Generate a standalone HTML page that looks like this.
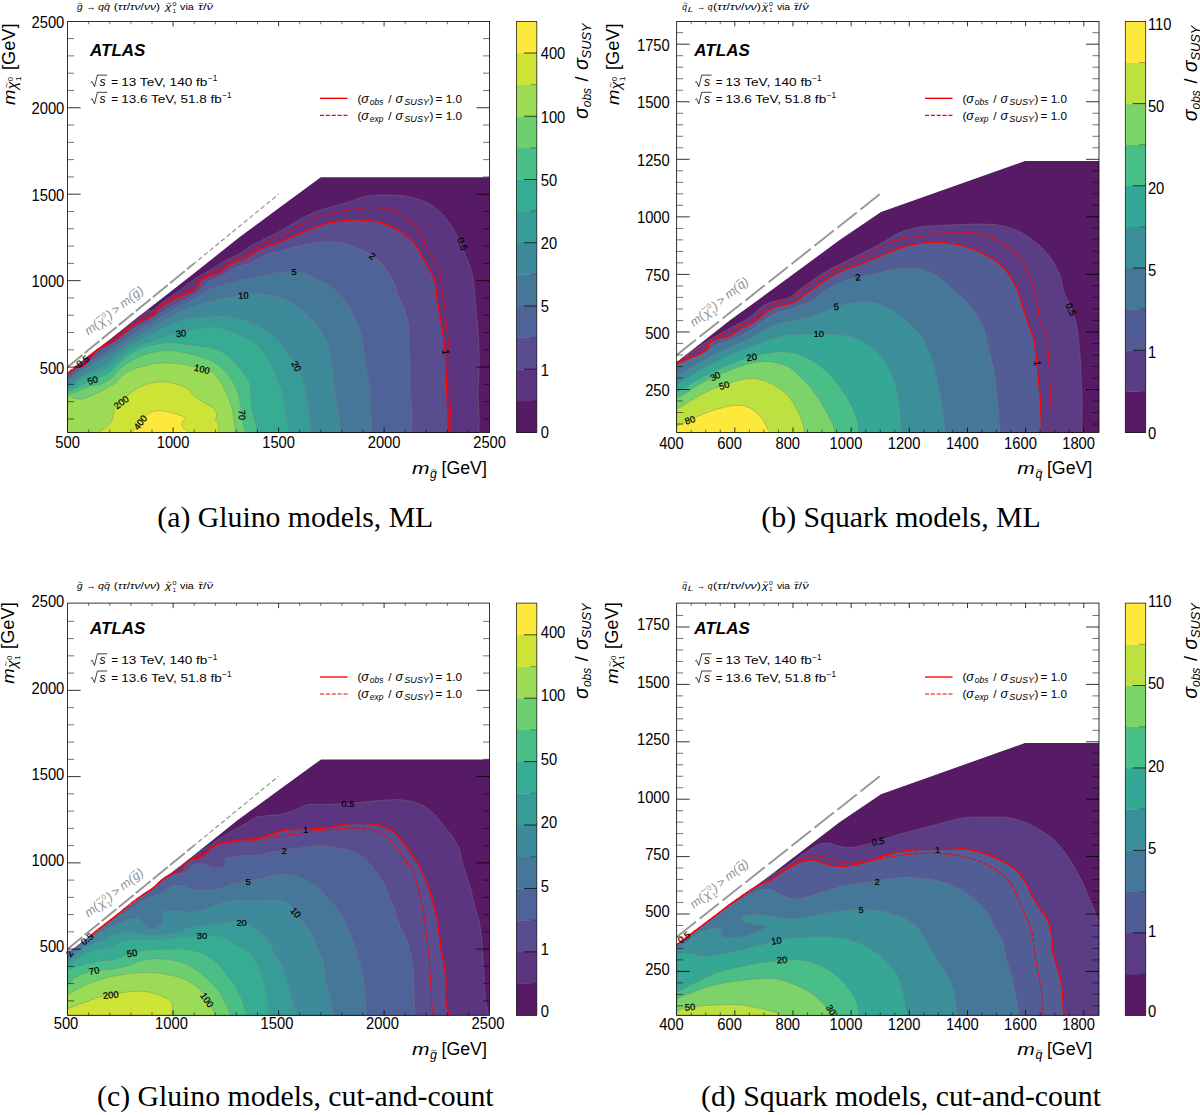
<!DOCTYPE html><html><head><meta charset="utf-8"><title>fig</title><style>html,body{margin:0;padding:0;background:#fff}svg{display:block}text{font-family:'Liberation Sans', sans-serif}</style></head><body>
<svg width="1200" height="1115" viewBox="0 0 1200 1115">
<rect width="1200" height="1115" fill="#fff"/>
<clipPath id="hulla"><path d="M67.6,433 L67.6,373.2 L89,355.5 L110,339.5 L140,315.6 L190,276.5 L240,236.8 L280,207.3 L320.8,177.25 L490,177.25 L490,433 Z"/></clipPath>
<clipPath id="boxa"><rect x="67.6" y="21.4" width="422" height="411.1"/></clipPath>
<g clip-path="url(#boxa)"><g clip-path="url(#hulla)">
<rect x="67.6" y="21.4" width="422" height="411.1" fill="#571b65"/>
<path d="M60,379 C61.33,377.92 61.33,378 68,372.5 C74.67,367 88,355.58 100,346 C112,336.42 131.17,320.95 140,315 C148.83,309.05 149.67,312.13 153,310.3 C156.33,308.47 155.5,307.38 160,304 C164.5,300.62 174,294.3 180,290 C186,285.7 191,281.53 196,278.2 C201,274.87 205.27,272.85 210,270 C214.73,267.15 219.4,263.87 224.4,261.1 C229.4,258.33 235.73,255.87 240,253.4 C244.27,250.93 246.67,248.32 250,246.3 C253.33,244.28 256.67,242.97 260,241.3 C263.33,239.63 266.67,237.97 270,236.3 C273.33,234.63 276.67,233.13 280,231.3 C283.33,229.47 286.67,227.32 290,225.3 C293.33,223.28 296.67,221.05 300,219.2 C303.33,217.35 306.67,215.7 310,214.2 C313.33,212.7 316.67,211.37 320,210.2 C323.33,209.03 326.67,208.12 330,207.2 C333.33,206.28 336.67,205.62 340,204.7 C343.33,203.78 346.67,202.8 350,201.7 C353.33,200.6 357.33,198.98 360,198.1 C362.67,197.22 362.33,196.92 366,196.4 C369.67,195.88 376.33,195.13 382,195 C387.67,194.87 394.67,195.1 400,195.6 C405.33,196.1 409.33,196.77 414,198 C418.67,199.23 423.67,200.67 428,203 C432.33,205.33 436.33,208.5 440,212 C443.67,215.5 447.17,220 450,224 C452.83,228 454.5,231 457,236 C459.5,241 462.67,248.33 465,254 C467.33,259.67 469.5,264.67 471,270 C472.5,275.33 473.17,279.33 474,286 C474.83,292.67 475.33,302.67 476,310 C476.67,317.33 477.5,323.33 478,330 C478.5,336.67 478.83,342.83 479,350 C479.17,357.17 479.17,365.5 479,373 C478.83,380.5 478,388 478,395 C478,402 478.83,408.77 479,415 C479.17,421.23 479,427.4 479,432.4 C479,437.4 479,442.9 479,445 L520,470 L30,470 L30,400 Z" fill="#5b357f"/>
<path d="M60,379.5 C61.25,378.48 65,375.28 67.5,373.4 C70,371.52 72.42,369.47 75,368.2 C77.58,366.93 80.67,367.13 83,365.8 C85.33,364.47 87,362.58 89,360.2 C91,357.82 92.83,353.7 95,351.5 C97.17,349.3 99.5,348.33 102,347 C104.5,345.67 107.67,344.75 110,343.5 C112.33,342.25 113.67,341.17 116,339.5 C118.33,337.83 121.67,335.5 124,333.5 C126.33,331.5 127.67,329.33 130,327.5 C132.33,325.67 135.5,323.83 138,322.5 C140.5,321.17 143,320.35 145,319.5 C147,318.65 148.33,318.42 150,317.4 C151.67,316.38 153.67,314.75 155,313.4 C156.33,312.05 156.33,310.82 158,309.3 C159.67,307.78 162.17,306.13 165,304.3 C167.83,302.47 171.67,299.97 175,298.3 C178.33,296.63 182.13,295.47 185,294.3 C187.87,293.13 190.17,292.48 192.2,291.3 C194.23,290.12 195.85,288.88 197.2,287.2 C198.55,285.52 199.12,282.78 200.3,281.2 C201.48,279.62 202.63,278.7 204.3,277.7 C205.97,276.7 207.97,275.95 210.3,275.2 C212.63,274.45 215.95,274.2 218.3,273.2 C220.65,272.2 222.38,270.72 224.4,269.2 C226.42,267.68 228.4,265.45 230.4,264.1 C232.4,262.75 234.07,261.93 236.4,261.1 C238.73,260.27 242.13,260.03 244.4,259.1 C246.67,258.17 248.57,256.45 250,255.5 C251.43,254.55 251.33,254.42 253,253.4 C254.67,252.38 257.17,250.75 260,249.4 C262.83,248.05 266.67,246.57 270,245.3 C273.33,244.03 276.67,243.13 280,241.8 C283.33,240.47 286.67,238.72 290,237.3 C293.33,235.88 296.67,234.72 300,233.3 C303.33,231.88 306.67,230.13 310,228.8 C313.33,227.47 316.67,226.32 320,225.3 C323.33,224.28 326.67,223.38 330,222.7 C333.33,222.02 336.67,221.65 340,221.2 C343.33,220.75 345.67,220.13 350,220 C354.33,219.87 360.67,219.9 366,220.4 C371.33,220.9 377,221.57 382,223 C387,224.43 391.67,226.67 396,229 C400.33,231.33 404.33,233.83 408,237 C411.67,240.17 415.33,244.17 418,248 C420.67,251.83 422,256.33 424,260 C426,263.67 428.17,266.33 430,270 C431.83,273.67 433.83,277.33 435,282 C436.17,286.67 436.17,292.33 437,298 C437.83,303.67 439,310 440,316 C441,322 442.17,328.33 443,334 C443.83,339.67 444.5,343.5 445,350 C445.5,356.5 445.67,365.5 446,373 C446.33,380.5 446.67,388 447,395 C447.33,402 447.83,408.77 448,415 C448.17,421.23 448,427.4 448,432.4 C448,437.4 448,442.9 448,445 L520,470 L30,470 L30,400 Z" fill="#574d8f"/>
<path d="M60,383 C61.33,381.83 64.67,378.67 68,376 C71.33,373.33 76.33,369.67 80,367 C83.67,364.33 86.67,362.5 90,360 C93.33,357.5 96.67,354.5 100,352 C103.33,349.5 106.67,347.33 110,345 C113.33,342.67 116.67,340.25 120,338 C123.33,335.75 126.67,333.6 130,331.5 C133.33,329.4 136.67,327.42 140,325.4 C143.33,323.38 146.67,321.4 150,319.4 C153.33,317.4 156.67,315.42 160,313.4 C163.33,311.38 166.67,309.15 170,307.3 C173.33,305.45 176.67,303.97 180,302.3 C183.33,300.63 186.97,299.13 190,297.3 C193.03,295.47 195.65,293.48 198.2,291.3 C200.75,289.12 203.28,286.05 205.3,284.2 C207.32,282.35 207.47,281.53 210.3,280.2 C213.13,278.87 218.95,277.87 222.3,276.2 C225.65,274.53 227.45,271.9 230.4,270.2 C233.35,268.5 236.73,267.13 240,266 C243.27,264.87 246.67,264.83 250,263.4 C253.33,261.97 256.67,259.07 260,257.4 C263.33,255.73 266.67,254.4 270,253.4 C273.33,252.4 276.67,252.23 280,251.4 C283.33,250.57 286.67,249.33 290,248.4 C293.33,247.47 296.67,246.57 300,245.8 C303.33,245.03 306.67,244.38 310,243.8 C313.33,243.22 316.67,242.58 320,242.3 C323.33,242.02 326.67,242.02 330,242.1 C333.33,242.18 336.67,242.32 340,242.8 C343.33,243.28 345.67,243.47 350,245 C354.33,246.53 361.17,249.33 366,252 C370.83,254.67 375.33,257.67 379,261 C382.67,264.33 385.33,267.83 388,272 C390.67,276.17 393.33,282 395,286 C396.67,290 396.67,292.67 398,296 C399.33,299.33 401.33,301.67 403,306 C404.67,310.33 407,316.33 408,322 C409,327.67 408.67,331.5 409,340 C409.33,348.5 409.83,363.83 410,373 C410.17,382.17 409.67,388 410,395 C410.33,402 411.83,408.77 412,415 C412.17,421.23 411.17,427.4 411,432.4 C410.83,437.4 411,442.9 411,445 L520,470 L30,470 L30,400 Z" fill="#4e6397"/>
<path d="M60,386 C61.33,384.83 64.67,381.67 68,379 C71.33,376.33 76.33,372.75 80,370 C83.67,367.25 86.67,364.92 90,362.5 C93.33,360.08 96.67,357.75 100,355.5 C103.33,353.25 106.67,351.17 110,349 C113.33,346.83 116.67,344.67 120,342.5 C123.33,340.33 126.67,338.18 130,336 C133.33,333.82 136.67,331.5 140,329.4 C143.33,327.3 146.67,325.4 150,323.4 C153.33,321.4 156.67,319.42 160,317.4 C163.33,315.38 166.67,313.15 170,311.3 C173.33,309.45 176.67,307.97 180,306.3 C183.33,304.63 186.62,303.13 190,301.3 C193.38,299.47 196.92,297.32 200.3,295.3 C203.68,293.28 206.97,290.88 210.3,289.2 C213.63,287.52 216.95,286.2 220.3,285.2 C223.65,284.2 227.05,284.03 230.4,283.2 C233.75,282.37 237.05,281.03 240.4,280.2 C243.75,279.37 247.23,278.73 250.5,278.2 C253.77,277.67 256.75,277.7 260,277 C263.25,276.3 266.33,274.77 270,274 C273.67,273.23 278,272.82 282,272.4 C286,271.98 290.17,271.32 294,271.5 C297.83,271.68 301.67,272.42 305,273.5 C308.33,274.58 309.83,275.92 314,278 C318.17,280.08 325,282.33 330,286 C335,289.67 340,295 344,300 C348,305 351.17,310 354,316 C356.83,322 359.33,329.33 361,336 C362.67,342.67 363,349.83 364,356 C365,362.17 366.17,368.17 367,373 C367.83,377.83 368.33,378 369,385 C369.67,392 370.5,407.1 371,415 C371.5,422.9 371.83,427.4 372,432.4 C372.17,437.4 372,442.9 372,445 L520,470 L30,470 L30,400 Z" fill="#457799"/>
<path d="M60,389 C61.33,387.83 64.67,384.67 68,382 C71.33,379.33 76.33,375.67 80,373 C83.67,370.33 86.67,368.17 90,366 C93.33,363.83 96.67,362.08 100,360 C103.33,357.92 106.67,355.67 110,353.5 C113.33,351.33 116.67,349.17 120,347 C123.33,344.83 126.67,342.6 130,340.5 C133.33,338.4 136.67,336.25 140,334.4 C143.33,332.55 146.67,331.23 150,329.4 C153.33,327.57 156.67,325.4 160,323.4 C163.33,321.4 166.67,319.25 170,317.4 C173.33,315.55 176.67,313.82 180,312.3 C183.33,310.78 186.67,309.55 190,308.3 C193.33,307.05 196.67,305.88 200,304.8 C203.33,303.72 206.67,302.72 210,301.8 C213.33,300.88 216.6,300.05 220,299.3 C223.4,298.55 226.57,297.97 230.4,297.3 C234.23,296.63 238.07,295.88 243,295.3 C247.93,294.72 255.5,293.75 260,293.8 C264.5,293.85 267,295.07 270,295.6 C273,296.13 274.67,295.93 278,297 C281.33,298.07 285.67,299.5 290,302 C294.33,304.5 299.67,308.33 304,312 C308.33,315.67 312.33,319.33 316,324 C319.67,328.67 323.67,334.67 326,340 C328.33,345.33 328.83,350.5 330,356 C331.17,361.5 332.17,366.5 333,373 C333.83,379.5 334,388 335,395 C336,402 338.17,408.77 339,415 C339.83,421.23 339.83,427.4 340,432.4 C340.17,437.4 340,442.9 340,445 L520,470 L30,470 L30,400 Z" fill="#3e899a"/>
<path d="M60,393 C61.33,391.88 64.67,388.93 68,386.3 C71.33,383.67 76.33,379.63 80,377.2 C83.67,374.77 86.67,373.37 90,371.7 C93.33,370.03 97,368.78 100,367.2 C103,365.62 105.5,364.07 108,362.2 C110.5,360.33 112.67,358.03 115,356 C117.33,353.97 119.5,351.9 122,350 C124.5,348.1 127,346.33 130,344.6 C133,342.87 136.67,341.3 140,339.6 C143.33,337.9 146.67,336.1 150,334.4 C153.33,332.7 156.67,331.07 160,329.4 C163.33,327.73 166.67,325.82 170,324.4 C173.33,322.98 176.67,321.87 180,320.9 C183.33,319.93 186.67,319.2 190,318.6 C193.33,318 196.67,317.67 200,317.3 C203.33,316.93 206.33,316.62 210,316.4 C213.67,316.18 218,315.83 222,316 C226,316.17 230,316.6 234,317.4 C238,318.2 242,319.37 246,320.8 C250,322.23 254.27,324.12 258,326 C261.73,327.88 265.33,329.9 268.4,332.1 C271.47,334.3 273.9,336.68 276.4,339.2 C278.9,341.72 281.22,344.53 283.4,347.2 C285.58,349.87 287.65,352.68 289.5,355.2 C291.35,357.72 292.75,359.45 294.5,362.3 C296.25,365.15 298.58,369.35 300,372.3 C301.42,375.25 302,376.22 303,380 C304,383.78 305,389.17 306,395 C307,400.83 308.17,408.77 309,415 C309.83,421.23 310.67,427.4 311,432.4 C311.33,437.4 311,442.9 311,445 L520,470 L30,470 L30,400 Z" fill="#379c98"/>
<path d="M60,395 C61.33,394.05 64.67,391.75 68,389.3 C71.33,386.85 76.33,382.73 80,380.3 C83.67,377.87 86.67,376.22 90,374.7 C93.33,373.18 96.97,372.45 100,371.2 C103.03,369.95 105.67,368.87 108.2,367.2 C110.73,365.53 112.85,363.22 115.2,361.2 C117.55,359.18 119.78,356.95 122.3,355.1 C124.82,353.25 127.3,351.77 130.3,350.1 C133.3,348.43 136.95,346.52 140.3,345.1 C143.65,343.68 147.05,342.68 150.4,341.6 C153.75,340.52 157.13,339.7 160.4,338.6 C163.67,337.5 166.62,335.9 170,335 C173.38,334.1 177.37,333.97 180.7,333.2 C184.03,332.43 186.78,331.25 190,330.4 C193.22,329.55 196.33,328.65 200,328.1 C203.67,327.55 208.33,327.02 212,327.1 C215.67,327.18 218.63,327.77 222,328.6 C225.37,329.43 228.82,330.83 232.2,332.1 C235.58,333.37 238.95,334.68 242.3,336.2 C245.65,337.72 249.3,339.2 252.3,341.2 C255.3,343.2 257.95,345.7 260.3,348.2 C262.65,350.7 264.55,353.35 266.4,356.2 C268.25,359.05 269.73,361.95 271.4,365.3 C273.07,368.65 274.9,372.78 276.4,376.3 C277.9,379.82 279.23,383.05 280.4,386.4 C281.57,389.75 282.57,392.13 283.4,396.4 C284.23,400.67 284.47,406 285.4,412 C286.33,418 288.23,426.9 289,432.4 C289.77,437.9 289.83,442.9 290,445 L520,470 L30,470 L30,400 Z" fill="#36ad92"/>
<path d="M60,397 C61.33,396.13 64.67,393.63 68,391.8 C71.33,389.97 75.9,387.92 80,386 C84.1,384.08 89.27,381.77 92.6,380.3 C95.93,378.83 97.4,378.38 100,377.2 C102.6,376.02 105.67,374.87 108.2,373.2 C110.73,371.53 112.85,369.37 115.2,367.2 C117.55,365.03 119.78,362.38 122.3,360.2 C124.82,358.02 127.3,355.95 130.3,354.1 C133.3,352.25 136.95,350.52 140.3,349.1 C143.65,347.68 147.05,346.55 150.4,345.6 C153.75,344.65 157.05,343.9 160.4,343.4 C163.75,342.9 167.23,342.53 170.5,342.6 C173.77,342.67 176.75,343.4 180,343.8 C183.25,344.2 186.67,344.6 190,345 C193.33,345.4 196.67,345.75 200,346.2 C203.33,346.65 206.63,346.87 210,347.7 C213.37,348.53 217.17,349.78 220.2,351.2 C223.23,352.62 225.53,354.02 228.2,356.2 C230.87,358.38 233.85,361.78 236.2,364.3 C238.55,366.82 240.45,368.97 242.3,371.3 C244.15,373.63 245.97,375.95 247.3,378.3 C248.63,380.65 249.75,382.88 250.3,385.4 C250.85,387.92 250.43,390.9 250.6,393.4 C250.77,395.9 251.02,397.3 251.3,400.4 C251.58,403.5 251.68,408.57 252.3,412 C252.92,415.43 254.22,417.6 255,421 C255.78,424.4 256.67,428.4 257,432.4 C257.33,436.4 257,442.9 257,445 L520,470 L30,470 L30,400 Z" fill="#49be86"/>
<path d="M60,398.5 C61.33,397.88 64.67,396.17 68,394.8 C71.33,393.43 76.33,391.72 80,390.3 C83.67,388.88 86.67,387.28 90,386.3 C93.33,385.32 97.17,385.28 100,384.4 C102.83,383.52 104.67,382.47 107,381 C109.33,379.53 112,377.5 114,375.6 C116,373.7 117.05,371.45 119,369.6 C120.95,367.75 123.03,366.27 125.7,364.5 C128.37,362.73 131.62,360.7 135,359 C138.38,357.3 142.43,355.5 146,354.3 C149.57,353.1 152.73,352.42 156.4,351.8 C160.07,351.18 164.07,350.57 168,350.6 C171.93,350.63 176.33,351.43 180,352 C183.67,352.57 186.67,353.22 190,354 C193.33,354.78 196.67,355.65 200,356.7 C203.33,357.75 206.97,358.87 210,360.3 C213.03,361.73 215.83,363.63 218.2,365.3 C220.57,366.97 222.37,368.47 224.2,370.3 C226.03,372.13 227.53,374.02 229.2,376.3 C230.87,378.58 232.87,381.55 234.2,384 C235.53,386.45 236.35,388.67 237.2,391 C238.05,393.33 238.78,395.6 239.3,398 C239.82,400.4 239.97,403.07 240.3,405.4 C240.63,407.73 240.85,409.23 241.3,412 C241.75,414.77 242.38,418.6 243,422 C243.62,425.4 244.67,428.57 245,432.4 C245.33,436.23 245,442.9 245,445 L520,470 L30,470 L30,400 Z" fill="#6ecf71"/>
<path d="M60,394 C61.33,394.37 64.67,395.33 68,396.2 C71.33,397.07 76.67,399.03 80,399.2 C83.33,399.37 84.67,398.43 88,397.2 C91.33,395.97 96.83,393.33 100,391.8 C103.17,390.27 104.47,389.42 107,388 C109.53,386.58 112.67,385.37 115.2,383.3 C117.73,381.23 119.68,377.73 122.2,375.6 C124.72,373.47 127,372.03 130.3,370.5 C133.6,368.97 137.72,367.57 142,366.4 C146.28,365.23 151.33,364.08 156,363.5 C160.67,362.92 165.33,362.73 170,362.9 C174.67,363.07 179.72,363.78 184,364.5 C188.28,365.22 192.2,366.35 195.7,367.2 C199.2,368.05 202.28,368.8 205,369.6 C207.72,370.4 210.05,370.88 212,372 C213.95,373.12 215.15,374.42 216.7,376.3 C218.25,378.18 219.75,380.57 221.3,383.3 C222.85,386.03 224.43,389.2 226,392.7 C227.57,396.2 229.45,400.42 230.7,404.3 C231.95,408.18 232.73,411.28 233.5,416 C234.27,420.72 235,427.77 235.3,432.6 C235.6,437.43 235.3,442.93 235.3,445 L520,470 L30,470 L30,400 Z" fill="#9bdb56"/>
<path d="M96,437 C96.67,436.1 98.17,433.35 100,431.6 C101.83,429.85 105.05,428.32 107,426.5 C108.95,424.68 110.62,422.78 111.7,420.7 C112.78,418.62 112.98,416.03 113.5,414 C114.02,411.97 113.72,410.42 114.8,408.5 C115.88,406.58 118.3,404.2 120,402.5 C121.7,400.8 122.88,400.13 125,398.3 C127.12,396.47 129.48,393.7 132.7,391.5 C135.92,389.3 140.42,386.65 144.3,385.1 C148.18,383.55 152.1,382.68 156,382.2 C159.9,381.72 163.82,381.72 167.7,382.2 C171.58,382.68 175.8,383.93 179.3,385.1 C182.8,386.27 186.37,387.55 188.7,389.2 C191.03,390.85 191.55,393.25 193.3,395 C195.05,396.75 196.87,398.15 199.2,399.7 C201.53,401.25 204.78,402.75 207.3,404.3 C209.82,405.85 212.73,407.25 214.3,409 C215.87,410.75 216.5,413.05 216.7,414.8 C216.9,416.55 215.32,418.13 215.5,419.5 C215.68,420.87 217.22,421.63 217.8,423 C218.38,424.37 218.9,426.1 219,427.7 C219.1,429.3 218.5,429.72 218.4,432.6 C218.3,435.48 218.4,442.93 218.4,445 L218,470 L96,470 Z" fill="#cde336"/>
<path d="M129,436 C129.42,435.43 129.92,434.38 131.5,432.6 C133.08,430.82 136.37,427.87 138.5,425.3 C140.63,422.73 142.35,419.33 144.3,417.2 C146.25,415.07 148.05,413.57 150.2,412.5 C152.35,411.43 154.68,411 157.2,410.8 C159.72,410.6 162.38,410.82 165.3,411.3 C168.22,411.78 171.97,412.92 174.7,413.7 C177.43,414.48 180.05,415.23 181.7,416 C183.35,416.77 184.5,417.33 184.6,418.3 C184.7,419.27 182.78,420.63 182.3,421.8 C181.82,422.97 181.42,424.13 181.7,425.3 C181.98,426.47 182.65,427.58 184,428.8 C185.35,430.02 188.3,431.4 189.8,432.6 C191.3,433.8 192.47,435.43 193,436 L160,470 Z" fill="#fde93b"/>
<path d="M60,379 C61.33,377.92 61.33,378 68,372.5 C74.67,367 88,355.58 100,346 C112,336.42 131.17,320.95 140,315 C148.83,309.05 149.67,312.13 153,310.3 C156.33,308.47 155.5,307.38 160,304 C164.5,300.62 174,294.3 180,290 C186,285.7 191,281.53 196,278.2 C201,274.87 205.27,272.85 210,270 C214.73,267.15 219.4,263.87 224.4,261.1 C229.4,258.33 235.73,255.87 240,253.4 C244.27,250.93 246.67,248.32 250,246.3 C253.33,244.28 256.67,242.97 260,241.3 C263.33,239.63 266.67,237.97 270,236.3 C273.33,234.63 276.67,233.13 280,231.3 C283.33,229.47 286.67,227.32 290,225.3 C293.33,223.28 296.67,221.05 300,219.2 C303.33,217.35 306.67,215.7 310,214.2 C313.33,212.7 316.67,211.37 320,210.2 C323.33,209.03 326.67,208.12 330,207.2 C333.33,206.28 336.67,205.62 340,204.7 C343.33,203.78 346.67,202.8 350,201.7 C353.33,200.6 357.33,198.98 360,198.1 C362.67,197.22 362.33,196.92 366,196.4 C369.67,195.88 376.33,195.13 382,195 C387.67,194.87 394.67,195.1 400,195.6 C405.33,196.1 409.33,196.77 414,198 C418.67,199.23 423.67,200.67 428,203 C432.33,205.33 436.33,208.5 440,212 C443.67,215.5 447.17,220 450,224 C452.83,228 454.5,231 457,236 C459.5,241 462.67,248.33 465,254 C467.33,259.67 469.5,264.67 471,270 C472.5,275.33 473.17,279.33 474,286 C474.83,292.67 475.33,302.67 476,310 C476.67,317.33 477.5,323.33 478,330 C478.5,336.67 478.83,342.83 479,350 C479.17,357.17 479.17,365.5 479,373 C478.83,380.5 478,388 478,395 C478,402 478.83,408.77 479,415 C479.17,421.23 479,427.4 479,432.4 C479,437.4 479,442.9 479,445" fill="none" stroke="#857b7b" stroke-opacity="0.7" stroke-width="0.55"/>
<path d="M60,379.5 C61.25,378.48 65,375.28 67.5,373.4 C70,371.52 72.42,369.47 75,368.2 C77.58,366.93 80.67,367.13 83,365.8 C85.33,364.47 87,362.58 89,360.2 C91,357.82 92.83,353.7 95,351.5 C97.17,349.3 99.5,348.33 102,347 C104.5,345.67 107.67,344.75 110,343.5 C112.33,342.25 113.67,341.17 116,339.5 C118.33,337.83 121.67,335.5 124,333.5 C126.33,331.5 127.67,329.33 130,327.5 C132.33,325.67 135.5,323.83 138,322.5 C140.5,321.17 143,320.35 145,319.5 C147,318.65 148.33,318.42 150,317.4 C151.67,316.38 153.67,314.75 155,313.4 C156.33,312.05 156.33,310.82 158,309.3 C159.67,307.78 162.17,306.13 165,304.3 C167.83,302.47 171.67,299.97 175,298.3 C178.33,296.63 182.13,295.47 185,294.3 C187.87,293.13 190.17,292.48 192.2,291.3 C194.23,290.12 195.85,288.88 197.2,287.2 C198.55,285.52 199.12,282.78 200.3,281.2 C201.48,279.62 202.63,278.7 204.3,277.7 C205.97,276.7 207.97,275.95 210.3,275.2 C212.63,274.45 215.95,274.2 218.3,273.2 C220.65,272.2 222.38,270.72 224.4,269.2 C226.42,267.68 228.4,265.45 230.4,264.1 C232.4,262.75 234.07,261.93 236.4,261.1 C238.73,260.27 242.13,260.03 244.4,259.1 C246.67,258.17 248.57,256.45 250,255.5 C251.43,254.55 251.33,254.42 253,253.4 C254.67,252.38 257.17,250.75 260,249.4 C262.83,248.05 266.67,246.57 270,245.3 C273.33,244.03 276.67,243.13 280,241.8 C283.33,240.47 286.67,238.72 290,237.3 C293.33,235.88 296.67,234.72 300,233.3 C303.33,231.88 306.67,230.13 310,228.8 C313.33,227.47 316.67,226.32 320,225.3 C323.33,224.28 326.67,223.38 330,222.7 C333.33,222.02 336.67,221.65 340,221.2 C343.33,220.75 345.67,220.13 350,220 C354.33,219.87 360.67,219.9 366,220.4 C371.33,220.9 377,221.57 382,223 C387,224.43 391.67,226.67 396,229 C400.33,231.33 404.33,233.83 408,237 C411.67,240.17 415.33,244.17 418,248 C420.67,251.83 422,256.33 424,260 C426,263.67 428.17,266.33 430,270 C431.83,273.67 433.83,277.33 435,282 C436.17,286.67 436.17,292.33 437,298 C437.83,303.67 439,310 440,316 C441,322 442.17,328.33 443,334 C443.83,339.67 444.5,343.5 445,350 C445.5,356.5 445.67,365.5 446,373 C446.33,380.5 446.67,388 447,395 C447.33,402 447.83,408.77 448,415 C448.17,421.23 448,427.4 448,432.4 C448,437.4 448,442.9 448,445" fill="none" stroke="#857b7b" stroke-opacity="0.7" stroke-width="0.55"/>
<path d="M60,383 C61.33,381.83 64.67,378.67 68,376 C71.33,373.33 76.33,369.67 80,367 C83.67,364.33 86.67,362.5 90,360 C93.33,357.5 96.67,354.5 100,352 C103.33,349.5 106.67,347.33 110,345 C113.33,342.67 116.67,340.25 120,338 C123.33,335.75 126.67,333.6 130,331.5 C133.33,329.4 136.67,327.42 140,325.4 C143.33,323.38 146.67,321.4 150,319.4 C153.33,317.4 156.67,315.42 160,313.4 C163.33,311.38 166.67,309.15 170,307.3 C173.33,305.45 176.67,303.97 180,302.3 C183.33,300.63 186.97,299.13 190,297.3 C193.03,295.47 195.65,293.48 198.2,291.3 C200.75,289.12 203.28,286.05 205.3,284.2 C207.32,282.35 207.47,281.53 210.3,280.2 C213.13,278.87 218.95,277.87 222.3,276.2 C225.65,274.53 227.45,271.9 230.4,270.2 C233.35,268.5 236.73,267.13 240,266 C243.27,264.87 246.67,264.83 250,263.4 C253.33,261.97 256.67,259.07 260,257.4 C263.33,255.73 266.67,254.4 270,253.4 C273.33,252.4 276.67,252.23 280,251.4 C283.33,250.57 286.67,249.33 290,248.4 C293.33,247.47 296.67,246.57 300,245.8 C303.33,245.03 306.67,244.38 310,243.8 C313.33,243.22 316.67,242.58 320,242.3 C323.33,242.02 326.67,242.02 330,242.1 C333.33,242.18 336.67,242.32 340,242.8 C343.33,243.28 345.67,243.47 350,245 C354.33,246.53 361.17,249.33 366,252 C370.83,254.67 375.33,257.67 379,261 C382.67,264.33 385.33,267.83 388,272 C390.67,276.17 393.33,282 395,286 C396.67,290 396.67,292.67 398,296 C399.33,299.33 401.33,301.67 403,306 C404.67,310.33 407,316.33 408,322 C409,327.67 408.67,331.5 409,340 C409.33,348.5 409.83,363.83 410,373 C410.17,382.17 409.67,388 410,395 C410.33,402 411.83,408.77 412,415 C412.17,421.23 411.17,427.4 411,432.4 C410.83,437.4 411,442.9 411,445" fill="none" stroke="#857b7b" stroke-opacity="0.7" stroke-width="0.55"/>
<path d="M60,386 C61.33,384.83 64.67,381.67 68,379 C71.33,376.33 76.33,372.75 80,370 C83.67,367.25 86.67,364.92 90,362.5 C93.33,360.08 96.67,357.75 100,355.5 C103.33,353.25 106.67,351.17 110,349 C113.33,346.83 116.67,344.67 120,342.5 C123.33,340.33 126.67,338.18 130,336 C133.33,333.82 136.67,331.5 140,329.4 C143.33,327.3 146.67,325.4 150,323.4 C153.33,321.4 156.67,319.42 160,317.4 C163.33,315.38 166.67,313.15 170,311.3 C173.33,309.45 176.67,307.97 180,306.3 C183.33,304.63 186.62,303.13 190,301.3 C193.38,299.47 196.92,297.32 200.3,295.3 C203.68,293.28 206.97,290.88 210.3,289.2 C213.63,287.52 216.95,286.2 220.3,285.2 C223.65,284.2 227.05,284.03 230.4,283.2 C233.75,282.37 237.05,281.03 240.4,280.2 C243.75,279.37 247.23,278.73 250.5,278.2 C253.77,277.67 256.75,277.7 260,277 C263.25,276.3 266.33,274.77 270,274 C273.67,273.23 278,272.82 282,272.4 C286,271.98 290.17,271.32 294,271.5 C297.83,271.68 301.67,272.42 305,273.5 C308.33,274.58 309.83,275.92 314,278 C318.17,280.08 325,282.33 330,286 C335,289.67 340,295 344,300 C348,305 351.17,310 354,316 C356.83,322 359.33,329.33 361,336 C362.67,342.67 363,349.83 364,356 C365,362.17 366.17,368.17 367,373 C367.83,377.83 368.33,378 369,385 C369.67,392 370.5,407.1 371,415 C371.5,422.9 371.83,427.4 372,432.4 C372.17,437.4 372,442.9 372,445" fill="none" stroke="#857b7b" stroke-opacity="0.7" stroke-width="0.55"/>
<path d="M60,389 C61.33,387.83 64.67,384.67 68,382 C71.33,379.33 76.33,375.67 80,373 C83.67,370.33 86.67,368.17 90,366 C93.33,363.83 96.67,362.08 100,360 C103.33,357.92 106.67,355.67 110,353.5 C113.33,351.33 116.67,349.17 120,347 C123.33,344.83 126.67,342.6 130,340.5 C133.33,338.4 136.67,336.25 140,334.4 C143.33,332.55 146.67,331.23 150,329.4 C153.33,327.57 156.67,325.4 160,323.4 C163.33,321.4 166.67,319.25 170,317.4 C173.33,315.55 176.67,313.82 180,312.3 C183.33,310.78 186.67,309.55 190,308.3 C193.33,307.05 196.67,305.88 200,304.8 C203.33,303.72 206.67,302.72 210,301.8 C213.33,300.88 216.6,300.05 220,299.3 C223.4,298.55 226.57,297.97 230.4,297.3 C234.23,296.63 238.07,295.88 243,295.3 C247.93,294.72 255.5,293.75 260,293.8 C264.5,293.85 267,295.07 270,295.6 C273,296.13 274.67,295.93 278,297 C281.33,298.07 285.67,299.5 290,302 C294.33,304.5 299.67,308.33 304,312 C308.33,315.67 312.33,319.33 316,324 C319.67,328.67 323.67,334.67 326,340 C328.33,345.33 328.83,350.5 330,356 C331.17,361.5 332.17,366.5 333,373 C333.83,379.5 334,388 335,395 C336,402 338.17,408.77 339,415 C339.83,421.23 339.83,427.4 340,432.4 C340.17,437.4 340,442.9 340,445" fill="none" stroke="#857b7b" stroke-opacity="0.7" stroke-width="0.55"/>
<path d="M60,393 C61.33,391.88 64.67,388.93 68,386.3 C71.33,383.67 76.33,379.63 80,377.2 C83.67,374.77 86.67,373.37 90,371.7 C93.33,370.03 97,368.78 100,367.2 C103,365.62 105.5,364.07 108,362.2 C110.5,360.33 112.67,358.03 115,356 C117.33,353.97 119.5,351.9 122,350 C124.5,348.1 127,346.33 130,344.6 C133,342.87 136.67,341.3 140,339.6 C143.33,337.9 146.67,336.1 150,334.4 C153.33,332.7 156.67,331.07 160,329.4 C163.33,327.73 166.67,325.82 170,324.4 C173.33,322.98 176.67,321.87 180,320.9 C183.33,319.93 186.67,319.2 190,318.6 C193.33,318 196.67,317.67 200,317.3 C203.33,316.93 206.33,316.62 210,316.4 C213.67,316.18 218,315.83 222,316 C226,316.17 230,316.6 234,317.4 C238,318.2 242,319.37 246,320.8 C250,322.23 254.27,324.12 258,326 C261.73,327.88 265.33,329.9 268.4,332.1 C271.47,334.3 273.9,336.68 276.4,339.2 C278.9,341.72 281.22,344.53 283.4,347.2 C285.58,349.87 287.65,352.68 289.5,355.2 C291.35,357.72 292.75,359.45 294.5,362.3 C296.25,365.15 298.58,369.35 300,372.3 C301.42,375.25 302,376.22 303,380 C304,383.78 305,389.17 306,395 C307,400.83 308.17,408.77 309,415 C309.83,421.23 310.67,427.4 311,432.4 C311.33,437.4 311,442.9 311,445" fill="none" stroke="#857b7b" stroke-opacity="0.7" stroke-width="0.55"/>
<path d="M60,395 C61.33,394.05 64.67,391.75 68,389.3 C71.33,386.85 76.33,382.73 80,380.3 C83.67,377.87 86.67,376.22 90,374.7 C93.33,373.18 96.97,372.45 100,371.2 C103.03,369.95 105.67,368.87 108.2,367.2 C110.73,365.53 112.85,363.22 115.2,361.2 C117.55,359.18 119.78,356.95 122.3,355.1 C124.82,353.25 127.3,351.77 130.3,350.1 C133.3,348.43 136.95,346.52 140.3,345.1 C143.65,343.68 147.05,342.68 150.4,341.6 C153.75,340.52 157.13,339.7 160.4,338.6 C163.67,337.5 166.62,335.9 170,335 C173.38,334.1 177.37,333.97 180.7,333.2 C184.03,332.43 186.78,331.25 190,330.4 C193.22,329.55 196.33,328.65 200,328.1 C203.67,327.55 208.33,327.02 212,327.1 C215.67,327.18 218.63,327.77 222,328.6 C225.37,329.43 228.82,330.83 232.2,332.1 C235.58,333.37 238.95,334.68 242.3,336.2 C245.65,337.72 249.3,339.2 252.3,341.2 C255.3,343.2 257.95,345.7 260.3,348.2 C262.65,350.7 264.55,353.35 266.4,356.2 C268.25,359.05 269.73,361.95 271.4,365.3 C273.07,368.65 274.9,372.78 276.4,376.3 C277.9,379.82 279.23,383.05 280.4,386.4 C281.57,389.75 282.57,392.13 283.4,396.4 C284.23,400.67 284.47,406 285.4,412 C286.33,418 288.23,426.9 289,432.4 C289.77,437.9 289.83,442.9 290,445" fill="none" stroke="#857b7b" stroke-opacity="0.7" stroke-width="0.55"/>
<path d="M60,397 C61.33,396.13 64.67,393.63 68,391.8 C71.33,389.97 75.9,387.92 80,386 C84.1,384.08 89.27,381.77 92.6,380.3 C95.93,378.83 97.4,378.38 100,377.2 C102.6,376.02 105.67,374.87 108.2,373.2 C110.73,371.53 112.85,369.37 115.2,367.2 C117.55,365.03 119.78,362.38 122.3,360.2 C124.82,358.02 127.3,355.95 130.3,354.1 C133.3,352.25 136.95,350.52 140.3,349.1 C143.65,347.68 147.05,346.55 150.4,345.6 C153.75,344.65 157.05,343.9 160.4,343.4 C163.75,342.9 167.23,342.53 170.5,342.6 C173.77,342.67 176.75,343.4 180,343.8 C183.25,344.2 186.67,344.6 190,345 C193.33,345.4 196.67,345.75 200,346.2 C203.33,346.65 206.63,346.87 210,347.7 C213.37,348.53 217.17,349.78 220.2,351.2 C223.23,352.62 225.53,354.02 228.2,356.2 C230.87,358.38 233.85,361.78 236.2,364.3 C238.55,366.82 240.45,368.97 242.3,371.3 C244.15,373.63 245.97,375.95 247.3,378.3 C248.63,380.65 249.75,382.88 250.3,385.4 C250.85,387.92 250.43,390.9 250.6,393.4 C250.77,395.9 251.02,397.3 251.3,400.4 C251.58,403.5 251.68,408.57 252.3,412 C252.92,415.43 254.22,417.6 255,421 C255.78,424.4 256.67,428.4 257,432.4 C257.33,436.4 257,442.9 257,445" fill="none" stroke="#857b7b" stroke-opacity="0.7" stroke-width="0.55"/>
<path d="M60,398.5 C61.33,397.88 64.67,396.17 68,394.8 C71.33,393.43 76.33,391.72 80,390.3 C83.67,388.88 86.67,387.28 90,386.3 C93.33,385.32 97.17,385.28 100,384.4 C102.83,383.52 104.67,382.47 107,381 C109.33,379.53 112,377.5 114,375.6 C116,373.7 117.05,371.45 119,369.6 C120.95,367.75 123.03,366.27 125.7,364.5 C128.37,362.73 131.62,360.7 135,359 C138.38,357.3 142.43,355.5 146,354.3 C149.57,353.1 152.73,352.42 156.4,351.8 C160.07,351.18 164.07,350.57 168,350.6 C171.93,350.63 176.33,351.43 180,352 C183.67,352.57 186.67,353.22 190,354 C193.33,354.78 196.67,355.65 200,356.7 C203.33,357.75 206.97,358.87 210,360.3 C213.03,361.73 215.83,363.63 218.2,365.3 C220.57,366.97 222.37,368.47 224.2,370.3 C226.03,372.13 227.53,374.02 229.2,376.3 C230.87,378.58 232.87,381.55 234.2,384 C235.53,386.45 236.35,388.67 237.2,391 C238.05,393.33 238.78,395.6 239.3,398 C239.82,400.4 239.97,403.07 240.3,405.4 C240.63,407.73 240.85,409.23 241.3,412 C241.75,414.77 242.38,418.6 243,422 C243.62,425.4 244.67,428.57 245,432.4 C245.33,436.23 245,442.9 245,445" fill="none" stroke="#857b7b" stroke-opacity="0.7" stroke-width="0.55"/>
<path d="M60,394 C61.33,394.37 64.67,395.33 68,396.2 C71.33,397.07 76.67,399.03 80,399.2 C83.33,399.37 84.67,398.43 88,397.2 C91.33,395.97 96.83,393.33 100,391.8 C103.17,390.27 104.47,389.42 107,388 C109.53,386.58 112.67,385.37 115.2,383.3 C117.73,381.23 119.68,377.73 122.2,375.6 C124.72,373.47 127,372.03 130.3,370.5 C133.6,368.97 137.72,367.57 142,366.4 C146.28,365.23 151.33,364.08 156,363.5 C160.67,362.92 165.33,362.73 170,362.9 C174.67,363.07 179.72,363.78 184,364.5 C188.28,365.22 192.2,366.35 195.7,367.2 C199.2,368.05 202.28,368.8 205,369.6 C207.72,370.4 210.05,370.88 212,372 C213.95,373.12 215.15,374.42 216.7,376.3 C218.25,378.18 219.75,380.57 221.3,383.3 C222.85,386.03 224.43,389.2 226,392.7 C227.57,396.2 229.45,400.42 230.7,404.3 C231.95,408.18 232.73,411.28 233.5,416 C234.27,420.72 235,427.77 235.3,432.6 C235.6,437.43 235.3,442.93 235.3,445" fill="none" stroke="#857b7b" stroke-opacity="0.7" stroke-width="0.55"/>
<path d="M96,437 C96.67,436.1 98.17,433.35 100,431.6 C101.83,429.85 105.05,428.32 107,426.5 C108.95,424.68 110.62,422.78 111.7,420.7 C112.78,418.62 112.98,416.03 113.5,414 C114.02,411.97 113.72,410.42 114.8,408.5 C115.88,406.58 118.3,404.2 120,402.5 C121.7,400.8 122.88,400.13 125,398.3 C127.12,396.47 129.48,393.7 132.7,391.5 C135.92,389.3 140.42,386.65 144.3,385.1 C148.18,383.55 152.1,382.68 156,382.2 C159.9,381.72 163.82,381.72 167.7,382.2 C171.58,382.68 175.8,383.93 179.3,385.1 C182.8,386.27 186.37,387.55 188.7,389.2 C191.03,390.85 191.55,393.25 193.3,395 C195.05,396.75 196.87,398.15 199.2,399.7 C201.53,401.25 204.78,402.75 207.3,404.3 C209.82,405.85 212.73,407.25 214.3,409 C215.87,410.75 216.5,413.05 216.7,414.8 C216.9,416.55 215.32,418.13 215.5,419.5 C215.68,420.87 217.22,421.63 217.8,423 C218.38,424.37 218.9,426.1 219,427.7 C219.1,429.3 218.5,429.72 218.4,432.6 C218.3,435.48 218.4,442.93 218.4,445" fill="none" stroke="#857b7b" stroke-opacity="0.7" stroke-width="0.55"/>
<path d="M129,436 C129.42,435.43 129.92,434.38 131.5,432.6 C133.08,430.82 136.37,427.87 138.5,425.3 C140.63,422.73 142.35,419.33 144.3,417.2 C146.25,415.07 148.05,413.57 150.2,412.5 C152.35,411.43 154.68,411 157.2,410.8 C159.72,410.6 162.38,410.82 165.3,411.3 C168.22,411.78 171.97,412.92 174.7,413.7 C177.43,414.48 180.05,415.23 181.7,416 C183.35,416.77 184.5,417.33 184.6,418.3 C184.7,419.27 182.78,420.63 182.3,421.8 C181.82,422.97 181.42,424.13 181.7,425.3 C181.98,426.47 182.65,427.58 184,428.8 C185.35,430.02 188.3,431.4 189.8,432.6 C191.3,433.8 192.47,435.43 193,436" fill="none" stroke="#857b7b" stroke-opacity="0.7" stroke-width="0.55"/>
</g>
<path d="M60,379 C61.25,378 62.5,377 67.5,373 C72.5,369 82.92,360.42 90,355 C97.08,349.58 103.33,345.42 110,340.5 C116.67,335.58 123.33,329.92 130,325.5 C136.67,321.08 145,317.2 150,314 C155,310.8 156.67,308.75 160,306.3 C163.33,303.85 166.67,301.3 170,299.3 C173.33,297.3 176.67,295.98 180,294.3 C183.33,292.62 187.33,290.88 190,289.2 C192.67,287.52 194.33,285.87 196,284.2 C197.67,282.53 197.67,281.03 200,279.2 C202.33,277.37 206.67,275.03 210,273.2 C213.33,271.37 217.27,269.88 220,268.2 C222.73,266.52 223.83,264.62 226.4,263.1 C228.97,261.58 232.23,260.43 235.4,259.1 C238.57,257.77 242.55,256.6 245.4,255.1 C248.25,253.6 250.07,251.68 252.5,250.1 C254.93,248.52 257.08,247.23 260,245.6 C262.92,243.97 266.67,241.93 270,240.3 C273.33,238.67 276.67,237.3 280,235.8 C283.33,234.3 286.67,233.05 290,231.3 C293.33,229.55 296.67,227.15 300,225.3 C303.33,223.45 306.67,221.72 310,220.2 C313.33,218.68 316.67,217.28 320,216.2 C323.33,215.12 326.67,214.45 330,213.7 C333.33,212.95 336.67,212.35 340,211.7 C343.33,211.05 346.67,210.35 350,209.8 C353.33,209.25 356.67,208.8 360,208.4 C363.33,208 365.67,207.4 370,207.4 C374.33,207.4 381.33,207.63 386,208.4 C390.67,209.17 394.67,210.23 398,212 C401.33,213.77 403,216.5 406,219 C409,221.5 413.33,224.17 416,227 C418.67,229.83 420,232.17 422,236 C424,239.83 425.67,245.33 428,250 C430.33,254.67 434,260 436,264 C438,268 439,269.67 440,274 C441,278.33 441.17,284 442,290 C442.83,296 444.17,303.33 445,310 C445.83,316.67 446.33,323.33 447,330 C447.67,336.67 448.6,342.83 449,350 C449.4,357.17 449.23,365.5 449.4,373 C449.57,380.5 449.82,388 450,395 C450.18,402 450.33,408.77 450.5,415 C450.67,421.23 450.92,427.4 451,432.4 C451.08,437.4 451,442.9 451,445" fill="none" stroke="#ff0000" stroke-width="1.1" stroke-dasharray="4.1,1.75"/>
<path d="M60,379.5 C61.25,378.48 65,375.28 67.5,373.4 C70,371.52 72.42,369.47 75,368.2 C77.58,366.93 80.67,367.13 83,365.8 C85.33,364.47 87,362.58 89,360.2 C91,357.82 92.83,353.7 95,351.5 C97.17,349.3 99.5,348.33 102,347 C104.5,345.67 107.67,344.75 110,343.5 C112.33,342.25 113.67,341.17 116,339.5 C118.33,337.83 121.67,335.5 124,333.5 C126.33,331.5 127.67,329.33 130,327.5 C132.33,325.67 135.5,323.83 138,322.5 C140.5,321.17 143,320.35 145,319.5 C147,318.65 148.33,318.42 150,317.4 C151.67,316.38 153.67,314.75 155,313.4 C156.33,312.05 156.33,310.82 158,309.3 C159.67,307.78 162.17,306.13 165,304.3 C167.83,302.47 171.67,299.97 175,298.3 C178.33,296.63 182.13,295.47 185,294.3 C187.87,293.13 190.17,292.48 192.2,291.3 C194.23,290.12 195.85,288.88 197.2,287.2 C198.55,285.52 199.12,282.78 200.3,281.2 C201.48,279.62 202.63,278.7 204.3,277.7 C205.97,276.7 207.97,275.95 210.3,275.2 C212.63,274.45 215.95,274.2 218.3,273.2 C220.65,272.2 222.38,270.72 224.4,269.2 C226.42,267.68 228.4,265.45 230.4,264.1 C232.4,262.75 234.07,261.93 236.4,261.1 C238.73,260.27 242.13,260.03 244.4,259.1 C246.67,258.17 248.57,256.45 250,255.5 C251.43,254.55 251.33,254.42 253,253.4 C254.67,252.38 257.17,250.75 260,249.4 C262.83,248.05 266.67,246.57 270,245.3 C273.33,244.03 276.67,243.13 280,241.8 C283.33,240.47 286.67,238.72 290,237.3 C293.33,235.88 296.67,234.72 300,233.3 C303.33,231.88 306.67,230.13 310,228.8 C313.33,227.47 316.67,226.32 320,225.3 C323.33,224.28 326.67,223.38 330,222.7 C333.33,222.02 336.67,221.65 340,221.2 C343.33,220.75 345.67,220.13 350,220 C354.33,219.87 360.67,219.9 366,220.4 C371.33,220.9 377,221.57 382,223 C387,224.43 391.67,226.67 396,229 C400.33,231.33 404.33,233.83 408,237 C411.67,240.17 415.33,244.17 418,248 C420.67,251.83 422,256.33 424,260 C426,263.67 428.17,266.33 430,270 C431.83,273.67 433.83,277.33 435,282 C436.17,286.67 436.17,292.33 437,298 C437.83,303.67 439,310 440,316 C441,322 442.17,328.33 443,334 C443.83,339.67 444.5,343.5 445,350 C445.5,356.5 445.67,365.5 446,373 C446.33,380.5 446.67,388 447,395 C447.33,402 447.83,408.77 448,415 C448.17,421.23 448,427.4 448,432.4 C448,437.4 448,442.9 448,445" fill="none" stroke="#ff0000" stroke-width="1.35"/>
</g>
<g clip-path="url(#boxa)">
<line x1="67.6" y1="367.1" x2="278.6" y2="194.2" stroke="#979797" stroke-width="1.25" stroke-dasharray="4.6,2.75"/>
<line x1="67.6" y1="367.1" x2="194.2" y2="263.36" stroke="#979797" stroke-width="1.9" stroke-dasharray="18.7,3.4"/>
</g>
<g transform="translate(88.4,335.6) rotate(-37.7)" fill="#8f8f8f" stroke="none" font-style="italic" font-size="12.4">
<text x="0" y="0">m(</text><text x="15.3" y="1.2">χ</text><text x="22.6" y="-4.6" font-size="7.4" font-style="normal">0</text><text x="22.8" y="4.6" font-size="7.4" font-style="normal">1</text>
<text x="27.6" y="0">)</text><text x="34.2" y="0" font-style="normal">&gt;</text><text x="44.4" y="0">m(</text><text x="59.6" y="0">g</text><text x="66.8" y="0">)</text>
<path d="M16.6,-8.2 q1.2,-1.6 2.4,-0.5 t2.4,-0.5 M60.8,-8.6 q1.2,-1.6 2.4,-0.5 t2.4,-0.5" fill="none" stroke="#8f8f8f" stroke-width="0.75"/>
</g>
<text transform="translate(82.6,361.2) rotate(-38)" font-size="9.4" text-anchor="middle" y="3.35" fill="#000" stroke="#000" stroke-width="0.2">0.5</text>
<text transform="translate(92.6,380.3) rotate(-18)" font-size="9.4" text-anchor="middle" y="3.35" fill="#000" stroke="#000" stroke-width="0.2">50</text>
<text transform="translate(121.3,402.3) rotate(-37)" font-size="9.4" text-anchor="middle" y="3.35" fill="#000" stroke="#000" stroke-width="0.2">200</text>
<text transform="translate(140.3,422.4) rotate(-52)" font-size="9.4" text-anchor="middle" y="3.35" fill="#000" stroke="#000" stroke-width="0.2">400</text>
<text transform="translate(181,333.4) rotate(-6)" font-size="9.4" text-anchor="middle" y="3.35" fill="#000" stroke="#000" stroke-width="0.2">30</text>
<text transform="translate(202,369) rotate(14)" font-size="9.4" text-anchor="middle" y="3.35" fill="#000" stroke="#000" stroke-width="0.2">100</text>
<text transform="translate(243.4,295.3) rotate(-3)" font-size="9.4" text-anchor="middle" y="3.35" fill="#000" stroke="#000" stroke-width="0.2">10</text>
<text transform="translate(294.2,271.4) rotate(0)" font-size="9.4" text-anchor="middle" y="3.35" fill="#000" stroke="#000" stroke-width="0.2">5</text>
<text transform="translate(242,415) rotate(88)" font-size="9.4" text-anchor="middle" y="3.35" fill="#000" stroke="#000" stroke-width="0.2">70</text>
<text transform="translate(296.5,366.3) rotate(62)" font-size="9.4" text-anchor="middle" y="3.35" fill="#000" stroke="#000" stroke-width="0.2">20</text>
<text transform="translate(372.4,256) rotate(38)" font-size="9.4" text-anchor="middle" y="3.35" fill="#000" stroke="#000" stroke-width="0.2">2</text>
<text transform="translate(462.4,244) rotate(70)" font-size="9.4" text-anchor="middle" y="3.35" fill="#000" stroke="#000" stroke-width="0.2">0.5</text>
<text transform="translate(446,352) rotate(86)" font-size="9.4" text-anchor="middle" y="3.35" fill="#000" stroke="#000" stroke-width="0.2">1</text>
<rect x="67.6" y="21.4" width="422" height="411.1" fill="none" stroke="#000" stroke-width="0.8"/>
<g stroke="#000" fill="none"><path d="M88.7,432.5 v-2.9 M88.7,21.4 v2.9" stroke-width="0.55"/><path d="M109.8,432.5 v-2.9 M109.8,21.4 v2.9" stroke-width="0.55"/><path d="M130.9,432.5 v-2.9 M130.9,21.4 v2.9" stroke-width="0.55"/><path d="M152,432.5 v-2.9 M152,21.4 v2.9" stroke-width="0.55"/><path d="M173.1,432.5 v-5 M173.1,21.4 v5" stroke-width="0.8"/><path d="M194.2,432.5 v-2.9 M194.2,21.4 v2.9" stroke-width="0.55"/><path d="M215.3,432.5 v-2.9 M215.3,21.4 v2.9" stroke-width="0.55"/><path d="M236.4,432.5 v-2.9 M236.4,21.4 v2.9" stroke-width="0.55"/><path d="M257.5,432.5 v-2.9 M257.5,21.4 v2.9" stroke-width="0.55"/><path d="M278.6,432.5 v-5 M278.6,21.4 v5" stroke-width="0.8"/><path d="M299.7,432.5 v-2.9 M299.7,21.4 v2.9" stroke-width="0.55"/><path d="M320.8,432.5 v-2.9 M320.8,21.4 v2.9" stroke-width="0.55"/><path d="M341.9,432.5 v-2.9 M341.9,21.4 v2.9" stroke-width="0.55"/><path d="M363,432.5 v-2.9 M363,21.4 v2.9" stroke-width="0.55"/><path d="M384.1,432.5 v-5 M384.1,21.4 v5" stroke-width="0.8"/><path d="M405.2,432.5 v-2.9 M405.2,21.4 v2.9" stroke-width="0.55"/><path d="M426.3,432.5 v-2.9 M426.3,21.4 v2.9" stroke-width="0.55"/><path d="M447.4,432.5 v-2.9 M447.4,21.4 v2.9" stroke-width="0.55"/><path d="M468.5,432.5 v-2.9 M468.5,21.4 v2.9" stroke-width="0.55"/><path d="M67.6,418.97 h6.5 M489.6,418.97 h-6.5" stroke-width="0.55"/><path d="M67.6,401.68 h6.5 M489.6,401.68 h-6.5" stroke-width="0.55"/><path d="M67.6,384.39 h6.5 M489.6,384.39 h-6.5" stroke-width="0.55"/><path d="M67.6,367.1 h13 M489.6,367.1 h-13" stroke-width="0.8"/><path d="M67.6,349.81 h6.5 M489.6,349.81 h-6.5" stroke-width="0.55"/><path d="M67.6,332.52 h6.5 M489.6,332.52 h-6.5" stroke-width="0.55"/><path d="M67.6,315.23 h6.5 M489.6,315.23 h-6.5" stroke-width="0.55"/><path d="M67.6,297.94 h6.5 M489.6,297.94 h-6.5" stroke-width="0.55"/><path d="M67.6,280.65 h13 M489.6,280.65 h-13" stroke-width="0.8"/><path d="M67.6,263.36 h6.5 M489.6,263.36 h-6.5" stroke-width="0.55"/><path d="M67.6,246.07 h6.5 M489.6,246.07 h-6.5" stroke-width="0.55"/><path d="M67.6,228.78 h6.5 M489.6,228.78 h-6.5" stroke-width="0.55"/><path d="M67.6,211.49 h6.5 M489.6,211.49 h-6.5" stroke-width="0.55"/><path d="M67.6,194.2 h13 M489.6,194.2 h-13" stroke-width="0.8"/><path d="M67.6,176.91 h6.5 M489.6,176.91 h-6.5" stroke-width="0.55"/><path d="M67.6,159.62 h6.5 M489.6,159.62 h-6.5" stroke-width="0.55"/><path d="M67.6,142.33 h6.5 M489.6,142.33 h-6.5" stroke-width="0.55"/><path d="M67.6,125.04 h6.5 M489.6,125.04 h-6.5" stroke-width="0.55"/><path d="M67.6,107.75 h13 M489.6,107.75 h-13" stroke-width="0.8"/><path d="M67.6,90.46 h6.5 M489.6,90.46 h-6.5" stroke-width="0.55"/><path d="M67.6,73.17 h6.5 M489.6,73.17 h-6.5" stroke-width="0.55"/><path d="M67.6,55.88 h6.5 M489.6,55.88 h-6.5" stroke-width="0.55"/><path d="M67.6,38.59 h6.5 M489.6,38.59 h-6.5" stroke-width="0.55"/></g>
<text transform="translate(67.6,448.3) scale(0.94,1)" font-size="15.7" text-anchor="middle">500</text>
<text transform="translate(173.1,448.3) scale(0.94,1)" font-size="15.7" text-anchor="middle">1000</text>
<text transform="translate(278.6,448.3) scale(0.94,1)" font-size="15.7" text-anchor="middle">1500</text>
<text transform="translate(384.1,448.3) scale(0.94,1)" font-size="15.7" text-anchor="middle">2000</text>
<text transform="translate(489.6,448.3) scale(0.94,1)" font-size="15.7" text-anchor="middle">2500</text>
<text transform="translate(64.3,373.7) scale(0.94,1)" font-size="15.7" text-anchor="end">500</text>
<text transform="translate(64.3,287.25) scale(0.94,1)" font-size="15.7" text-anchor="end">1000</text>
<text transform="translate(64.3,200.8) scale(0.94,1)" font-size="15.7" text-anchor="end">1500</text>
<text transform="translate(64.3,114.35) scale(0.94,1)" font-size="15.7" text-anchor="end">2000</text>
<text transform="translate(64.3,27.9) scale(0.94,1)" font-size="15.7" text-anchor="end">2500</text>
<rect x="516.4" y="400.88" width="20.4" height="31.92" fill="#571b65"/>
<rect x="516.4" y="369.25" width="20.4" height="31.92" fill="#5b357f"/>
<rect x="516.4" y="337.63" width="20.4" height="31.92" fill="#574d8f"/>
<rect x="516.4" y="306.01" width="20.4" height="31.92" fill="#4e6397"/>
<rect x="516.4" y="274.38" width="20.4" height="31.92" fill="#457799"/>
<rect x="516.4" y="242.76" width="20.4" height="31.92" fill="#3e899a"/>
<rect x="516.4" y="211.14" width="20.4" height="31.92" fill="#379c98"/>
<rect x="516.4" y="179.52" width="20.4" height="31.92" fill="#36ad92"/>
<rect x="516.4" y="147.89" width="20.4" height="31.92" fill="#49be86"/>
<rect x="516.4" y="116.27" width="20.4" height="31.92" fill="#6ecf71"/>
<rect x="516.4" y="84.65" width="20.4" height="31.92" fill="#9bdb56"/>
<rect x="516.4" y="53.02" width="20.4" height="31.92" fill="#cde336"/>
<rect x="516.4" y="21.4" width="20.4" height="31.92" fill="#fde93b"/>
<rect x="516.4" y="21.4" width="20.4" height="411.1" fill="none" stroke="#000" stroke-opacity="0.85" stroke-width="0.8"/>
<path d="M536.8,400.88 h-6.5" stroke="#000" stroke-opacity="0.6" stroke-width="0.55"/>
<path d="M536.8,369.25 h-13" stroke="#000" stroke-opacity="0.9" stroke-width="0.8"/>
<path d="M536.8,337.63 h-6.5" stroke="#000" stroke-opacity="0.6" stroke-width="0.55"/>
<path d="M536.8,306.01 h-13" stroke="#000" stroke-opacity="0.9" stroke-width="0.8"/>
<path d="M536.8,274.38 h-6.5" stroke="#000" stroke-opacity="0.6" stroke-width="0.55"/>
<path d="M536.8,242.76 h-13" stroke="#000" stroke-opacity="0.9" stroke-width="0.8"/>
<path d="M536.8,211.14 h-6.5" stroke="#000" stroke-opacity="0.6" stroke-width="0.55"/>
<path d="M536.8,179.52 h-13" stroke="#000" stroke-opacity="0.9" stroke-width="0.8"/>
<path d="M536.8,147.89 h-6.5" stroke="#000" stroke-opacity="0.6" stroke-width="0.55"/>
<path d="M536.8,116.27 h-13" stroke="#000" stroke-opacity="0.9" stroke-width="0.8"/>
<path d="M536.8,84.65 h-6.5" stroke="#000" stroke-opacity="0.6" stroke-width="0.55"/>
<path d="M536.8,53.02 h-13" stroke="#000" stroke-opacity="0.9" stroke-width="0.8"/>
<text transform="translate(540.7,437.5) scale(0.94,1)" font-size="15.7" text-anchor="start">0</text>
<text transform="translate(540.7,375.65) scale(0.94,1)" font-size="15.7" text-anchor="start">1</text>
<text transform="translate(540.7,312.41) scale(0.94,1)" font-size="15.7" text-anchor="start">5</text>
<text transform="translate(540.7,249.16) scale(0.94,1)" font-size="15.7" text-anchor="start">20</text>
<text transform="translate(540.7,185.92) scale(0.94,1)" font-size="15.7" text-anchor="start">50</text>
<text transform="translate(540.7,122.67) scale(0.94,1)" font-size="15.7" text-anchor="start">100</text>
<text transform="translate(540.7,59.42) scale(0.94,1)" font-size="15.7" text-anchor="start">400</text>
<g transform="translate(588,119) rotate(-90)" font-style="italic">
<text x="0" y="0" font-size="19.6">σ</text><text x="11.8" y="3.2" font-size="12.3" textLength="19.2" lengthAdjust="spacingAndGlyphs">obs</text><text x="37.6" y="0" font-size="18" font-style="normal">/</text><text x="49" y="0" font-size="19.6">σ</text><text x="60.6" y="3.2" font-size="12.8" textLength="35" lengthAdjust="spacingAndGlyphs">SUSY</text>
</g>
<text x="90" y="55.7" font-size="17" text-anchor="start" font-style="italic" font-weight="bold" fill="#000">ATLAS</text>
<path d="M90.8,82.3 l1.3,-0.8 l2.4,5.2 l2.9,-11.6 h9.8" fill="none" stroke="#000" stroke-width="0.75"/>
<text y="85.7" font-size="11.7"><tspan x="99.6" font-style="italic" font-size="12.2">s</tspan><tspan x="111.3">=</tspan><tspan x="121.2" textLength="86.2" lengthAdjust="spacingAndGlyphs">13 TeV,  140 fb</tspan><tspan font-size="8.2" dy="-4.6" dx="0.5">−1</tspan></text>
<path d="M90.8,99.5 l1.3,-0.8 l2.4,5.2 l2.9,-11.6 h9.8" fill="none" stroke="#000" stroke-width="0.75"/>
<text y="102.9" font-size="11.7"><tspan x="99.6" font-style="italic" font-size="12.2">s</tspan><tspan x="111.3">=</tspan><tspan x="121.2" textLength="100.6" lengthAdjust="spacingAndGlyphs">13.6 TeV,  51.8 fb</tspan><tspan font-size="8.2" dy="-4.6" dx="0.5">−1</tspan></text>
<line x1="320" y1="98.3" x2="347.5" y2="98.3" stroke="#ff0000" stroke-width="1.35"/>
<g font-size="11.7"><text x="357.4" y="102.55">(</text><text x="361.2" y="102.55" font-style="italic" font-size="12.6">σ</text><text x="369.8" y="104.65" font-style="italic" font-size="8.7" textLength="13.6" lengthAdjust="spacingAndGlyphs">obs</text><text x="388.2" y="102.55">/</text><text x="395.6" y="102.55" font-style="italic" font-size="12.6">σ</text><text x="404.3" y="104.65" font-style="italic" font-size="8.7" textLength="24.8" lengthAdjust="spacingAndGlyphs">SUSY</text><text x="429.5" y="102.55">)</text><text x="435.4" y="102.55">=</text><text x="445.7" y="102.55" textLength="16.3" lengthAdjust="spacingAndGlyphs">1.0</text></g>
<line x1="320" y1="115.3" x2="347.5" y2="115.3" stroke="#ff0000" stroke-width="1.15" stroke-dasharray="4.1,1.75"/>
<g font-size="11.7"><text x="357.4" y="119.55">(</text><text x="361.2" y="119.55" font-style="italic" font-size="12.6">σ</text><text x="369.8" y="121.65" font-style="italic" font-size="8.7" textLength="13.6" lengthAdjust="spacingAndGlyphs">exp</text><text x="388.2" y="119.55">/</text><text x="395.6" y="119.55" font-style="italic" font-size="12.6">σ</text><text x="404.3" y="121.65" font-style="italic" font-size="8.7" textLength="24.8" lengthAdjust="spacingAndGlyphs">SUSY</text><text x="429.5" y="119.55">)</text><text x="435.4" y="119.55">=</text><text x="445.7" y="119.55" textLength="16.3" lengthAdjust="spacingAndGlyphs">1.0</text></g>
<g><text x="76.9" y="10" font-size="8.8" font-style="italic" textLength="5.6" lengthAdjust="spacingAndGlyphs">g</text><path d="M78.3,4 q0.95,-1.7 1.9,-0.5 t1.9,-0.5" fill="none" stroke="#000" stroke-width="0.55"/><text x="86.2" y="10" font-size="8.8" textLength="9.4" lengthAdjust="spacingAndGlyphs">→</text><text x="98.1" y="10" font-size="8.8" font-style="italic" textLength="11.9" lengthAdjust="spacingAndGlyphs">qq</text><path d="M105.4,3.8 h3.6" stroke="#000" stroke-width="0.55"/><text x="113.75" y="10" font-size="8.8" textLength="46.25" lengthAdjust="spacingAndGlyphs">(<tspan font-style="italic">ττ</tspan>/<tspan font-style="italic">τν</tspan>/<tspan font-style="italic">νν</tspan>)</text><text x="165" y="10.2" font-size="8.8" font-style="italic" textLength="6.6" lengthAdjust="spacingAndGlyphs">χ</text><path d="M167,3.8 q0.95,-1.7 1.9,-0.5 t1.9,-0.5" fill="none" stroke="#000" stroke-width="0.55"/><text x="172.6" y="6.4" font-size="6.2" textLength="4" lengthAdjust="spacingAndGlyphs">0</text><text x="172.8" y="12.6" font-size="6.2" textLength="3.2" lengthAdjust="spacingAndGlyphs">1</text><text x="180" y="10" font-size="8.8" textLength="13.75" lengthAdjust="spacingAndGlyphs">via</text><text x="198.1" y="10" font-size="8.8" textLength="15" lengthAdjust="spacingAndGlyphs"><tspan font-style="italic">τ</tspan>/<tspan font-style="italic">ν</tspan></text><path d="M199.2,4 q0.95,-1.7 1.9,-0.5 t1.9,-0.5" fill="none" stroke="#000" stroke-width="0.55"/><path d="M208.6,4 q0.95,-1.7 1.9,-0.5 t1.9,-0.5" fill="none" stroke="#000" stroke-width="0.55"/></g>
<g><text x="411.9" y="474" font-size="17.4" font-style="italic" textLength="17.5" lengthAdjust="spacingAndGlyphs">m</text><text x="430.1" y="478.3" font-size="12.4" font-style="italic">g</text><path d="M431.3,470.4 q1.2,-1.7 2.4,-0.5 t2.4,-0.5" fill="none" stroke="#000" stroke-width="0.55"/><text x="441.5" y="474" font-size="17.6" textLength="45.4" lengthAdjust="spacingAndGlyphs">[GeV]</text></g>
<g transform="translate(15.2,105) rotate(-90)"><text x="0" y="0" font-size="17.4" font-style="italic" textLength="15.4" lengthAdjust="spacingAndGlyphs">m</text><text x="15.6" y="2.2" font-size="14.6" font-style="italic">χ</text><path d="M17.6,-8 q1.2,-1.7 2.4,-0.5 t2.4,-0.5" fill="none" stroke="#000" stroke-width="0.55"/><text x="23.8" y="-2.7" font-size="7.8">0</text><text x="24" y="5.7" font-size="7.8">1</text><text x="34.9" y="0" font-size="17.6" textLength="46.7" lengthAdjust="spacingAndGlyphs">[GeV]</text></g>
<clipPath id="hullb"><path d="M676.6,433 L676.6,362.2 L730.3,320 L770,291.3 L839.3,240.3 L881,212 L1025,161 L1100,161 L1100,433 Z"/></clipPath>
<clipPath id="boxb"><rect x="676.65" y="21.4" width="422.35" height="411.1"/></clipPath>
<g clip-path="url(#boxb)"><g clip-path="url(#hullb)">
<rect x="676.65" y="21.4" width="422.35" height="411.1" fill="#571b65"/>
<path d="M670,366.5 C671.17,365.67 674.5,363.33 677,361.5 C679.5,359.67 681.17,358.08 685,355.5 C688.83,352.92 695.83,348.65 700,346 C704.17,343.35 706.63,341.67 710,339.6 C713.37,337.53 716.82,335.53 720.2,333.6 C723.58,331.67 726.95,329.77 730.3,328 C733.65,326.23 737.02,324.83 740.3,323 C743.58,321.17 746.72,319.45 750,317 C753.28,314.55 757.33,310.42 760,308.3 C762.67,306.18 763.5,305.47 766,304.3 C768.5,303.13 771,302.48 775,301.3 C779,300.12 785.83,299.22 790,297.2 C794.17,295.18 796.67,291.7 800,289.2 C803.33,286.7 806.62,284.55 810,282.2 C813.38,279.85 816.92,277.28 820.3,275.1 C823.68,272.92 826.97,270.93 830.3,269.1 C833.63,267.27 836.95,265.77 840.3,264.1 C843.65,262.43 847.05,260.77 850.4,259.1 C853.75,257.43 857.05,255.78 860.4,254.1 C863.75,252.42 867.23,250.68 870.5,249 C873.77,247.32 875.08,246.75 880,244 C884.92,241.25 893.33,235.33 900,232.5 C906.67,229.67 913.33,228.18 920,227 C926.67,225.82 933.33,225.8 940,225.4 C946.67,225 953.33,224.83 960,224.6 C966.67,224.37 973.33,223.87 980,224 C986.67,224.13 994,224.4 1000,225.4 C1006,226.4 1011,227.9 1016,230 C1021,232.1 1025.67,235 1030,238 C1034.33,241 1038.33,244.33 1042,248 C1045.67,251.67 1049.33,256.17 1052,260 C1054.67,263.83 1056.5,267.83 1058,271 C1059.5,274.17 1060,275.5 1061,279 C1062,282.5 1062.67,288 1064,292 C1065.33,296 1067.17,298.5 1069,303 C1070.83,307.5 1073.5,313.67 1075,319 C1076.5,324.33 1077.17,329 1078,335 C1078.83,341 1079.5,348.33 1080,355 C1080.5,361.67 1080.67,368.33 1081,375 C1081.33,381.67 1081.83,388.33 1082,395 C1082.17,401.67 1082,408.77 1082,415 C1082,421.23 1082,427.4 1082,432.4 C1082,437.4 1082,442.9 1082,445 L1130,470 L640,470 L640,400 Z" fill="#5a3d85"/>
<path d="M670,367 C671.17,366.37 674.5,364.42 677,363.2 C679.5,361.98 682,360.87 685,359.7 C688,358.53 692,357.47 695,356.2 C698,354.93 700.83,353.45 703,352.1 C705.17,350.75 707.05,349.43 708,348.1 C708.95,346.77 708,345.35 708.7,344.1 C709.4,342.85 710.28,341.6 712.2,340.6 C714.12,339.6 717.37,338.93 720.2,338.1 C723.03,337.27 726.68,336.6 729.2,335.6 C731.72,334.6 733.12,333.37 735.3,332.1 C737.48,330.83 739.8,329.35 742.3,328 C744.8,326.65 747.95,325.33 750.3,324 C752.65,322.67 754.78,321.12 756.4,320 C758.02,318.88 757.73,319.08 760,317.3 C762.27,315.52 766.67,311.22 770,309.3 C773.33,307.38 776.67,306.8 780,305.8 C783.33,304.8 787.13,304.22 790,303.3 C792.87,302.38 794.67,301.82 797.2,300.3 C799.73,298.78 802.2,296.38 805.2,294.2 C808.2,292.02 811.85,289.53 815.2,287.2 C818.55,284.87 821.95,282.38 825.3,280.2 C828.65,278.02 831.95,275.95 835.3,274.1 C838.65,272.25 842.05,270.43 845.4,269.1 C848.75,267.77 852.07,267.27 855.4,266.1 C858.73,264.93 861.3,263.77 865.4,262.1 C869.5,260.43 875.57,257.95 880,256.1 C884.43,254.25 887.67,252.68 892,251 C896.33,249.32 901.33,247.27 906,246 C910.67,244.73 915,244.03 920,243.4 C925,242.77 930.67,242.17 936,242.2 C941.33,242.23 947,242.87 952,243.6 C957,244.33 961,245.03 966,246.6 C971,248.17 977,250.6 982,253 C987,255.4 991.67,257.67 996,261 C1000.33,264.33 1004.33,268 1008,273 C1011.67,278 1015.5,285.33 1018,291 C1020.5,296.67 1021.33,301.67 1023,307 C1024.67,312.33 1026.17,317.67 1028,323 C1029.83,328.33 1032.67,333.67 1034,339 C1035.33,344.33 1035.33,349 1036,355 C1036.67,361 1037.33,368.33 1038,375 C1038.67,381.67 1039.5,388.33 1040,395 C1040.5,401.67 1040.73,408.77 1041,415 C1041.27,421.23 1041.5,427.4 1041.6,432.4 C1041.7,437.4 1041.6,442.9 1041.6,445 L1130,470 L640,470 L640,400 Z" fill="#525c95"/>
<path d="M670,369 C671.17,368.37 674.5,366.33 677,365.2 C679.5,364.07 682,363.45 685,362.2 C688,360.95 691.67,359.22 695,357.7 C698.33,356.18 702.5,354.53 705,353.1 C707.5,351.67 708.3,350.43 710,349.1 C711.7,347.77 712.67,346.35 715.2,345.1 C717.73,343.85 721.85,342.77 725.2,341.6 C728.55,340.43 731.95,339.52 735.3,338.1 C738.65,336.68 741.95,334.95 745.3,333.1 C748.65,331.25 752.95,328.72 755.4,327 C757.85,325.28 757.57,324.58 760,322.8 C762.43,321.02 766.67,318.13 770,316.3 C773.33,314.47 776.67,312.97 780,311.8 C783.33,310.63 786.67,310.38 790,309.3 C793.33,308.22 796.3,306.8 800,305.3 C803.7,303.8 808.82,302.15 812.2,300.3 C815.58,298.45 817.28,296.38 820.3,294.2 C823.32,292.02 826.97,289.2 830.3,287.2 C833.63,285.2 836.95,283.62 840.3,282.2 C843.65,280.78 847.47,279.53 850.4,278.7 C853.33,277.87 854.88,277.8 857.9,277.2 C860.92,276.6 864.82,275.87 868.5,275.1 C872.18,274.33 876.08,273.45 880,272.6 C883.92,271.75 887.67,270.73 892,270 C896.33,269.27 901.33,268.3 906,268.2 C910.67,268.1 915.67,268.6 920,269.4 C924.33,270.2 928.33,271.32 932,273 C935.67,274.68 939.33,277.42 942,279.5 C944.67,281.58 945,282.83 948,285.5 C951,288.17 956.33,292.17 960,295.5 C963.67,298.83 967,301.92 970,305.5 C973,309.08 975.67,313.08 978,317 C980.33,320.92 982.5,325 984,329 C985.5,333 986,336.67 987,341 C988,345.33 988.83,350 990,355 C991.17,360 993,365.67 994,371 C995,376.33 995.33,381 996,387 C996.67,393 997.33,399.43 998,407 C998.67,414.57 999.67,426.07 1000,432.4 C1000.33,438.73 1000,442.9 1000,445 L1130,470 L640,470 L640,400 Z" fill="#457799"/>
<path d="M670,379.5 C671.17,378.87 674.5,377.08 677,375.7 C679.5,374.32 682,372.95 685,371.2 C688,369.45 691.67,367.12 695,365.2 C698.33,363.28 701.63,361.55 705,359.7 C708.37,357.85 711.83,355.87 715.2,354.1 C718.57,352.33 721.85,350.6 725.2,349.1 C728.55,347.6 731.95,346.52 735.3,345.1 C738.65,343.68 741.95,342.18 745.3,340.6 C748.65,339.02 752.95,336.97 755.4,335.6 C757.85,334.23 757.57,333.85 760,332.4 C762.43,330.95 766.67,328.4 770,326.9 C773.33,325.4 776.67,324.33 780,323.4 C783.33,322.47 786.67,321.98 790,321.3 C793.33,320.62 796.67,320.05 800,319.3 C803.33,318.55 806.62,317.8 810,316.8 C813.38,315.8 816.92,314.55 820.3,313.3 C823.68,312.05 827.63,310.38 830.3,309.3 C832.97,308.22 833.78,307.63 836.3,306.8 C838.82,305.97 842.22,305.05 845.4,304.3 C848.58,303.55 852.07,302.8 855.4,302.3 C858.73,301.8 861.3,300.97 865.4,301.3 C869.5,301.63 876.23,303.18 880,304.3 C883.77,305.42 884.67,306.05 888,308 C891.33,309.95 896.33,313.25 900,316 C903.67,318.75 906.67,321.33 910,324.5 C913.33,327.67 917,330.92 920,335 C923,339.08 925.83,344.33 928,349 C930.17,353.67 931.5,358 933,363 C934.5,368 935.83,373.67 937,379 C938.17,384.33 939,389.67 940,395 C941,400.33 942.17,404.77 943,411 C943.83,417.23 944.67,426.73 945,432.4 C945.33,438.07 945,442.9 945,445 L1130,470 L640,470 L640,400 Z" fill="#3b8f99"/>
<path d="M670,388.5 C671.17,387.8 674.5,385.85 677,384.3 C679.5,382.75 682,381.05 685,379.2 C688,377.35 691.67,375.2 695,373.2 C698.33,371.2 701.63,369.03 705,367.2 C708.37,365.37 711.83,363.87 715.2,362.2 C718.57,360.53 721.85,358.8 725.2,357.2 C728.55,355.6 731.95,354.03 735.3,352.6 C738.65,351.17 741.95,349.93 745.3,348.6 C748.65,347.27 752.95,345.53 755.4,344.6 C757.85,343.67 757.57,343.87 760,343 C762.43,342.13 766.67,340.5 770,339.4 C773.33,338.3 776.67,337.15 780,336.4 C783.33,335.65 786.67,335.23 790,334.9 C793.33,334.57 795.22,334.57 800,334.4 C804.78,334.23 813.65,333.9 818.7,333.9 C823.75,333.9 826.7,334.23 830.3,334.4 C833.9,334.57 836.95,334.57 840.3,334.9 C843.65,335.23 847.05,335.48 850.4,336.4 C853.75,337.32 857.05,338.73 860.4,340.4 C863.75,342.07 867.23,343.97 870.5,346.4 C873.77,348.83 877.08,351.57 880,355 C882.92,358.43 885.67,362.67 888,367 C890.33,371.33 892.33,376.33 894,381 C895.67,385.67 897,390 898,395 C899,400 899.5,404.77 900,411 C900.5,417.23 900.83,426.73 901,432.4 C901.17,438.07 901,442.9 901,445 L1130,470 L640,470 L640,400 Z" fill="#35a795"/>
<path d="M670,396.5 C671.17,395.8 674.5,393.75 677,392.3 C679.5,390.85 682,389.63 685,387.8 C688,385.97 691.67,383.32 695,381.3 C698.33,379.28 701.63,377.47 705,375.7 C708.37,373.93 711.83,372.28 715.2,370.7 C718.57,369.12 721.85,367.62 725.2,366.2 C728.55,364.78 732.12,363.45 735.3,362.2 C738.48,360.95 741.55,359.57 744.3,358.7 C747.05,357.83 749.12,357.68 751.8,357 C754.48,356.32 757.3,355.3 760.4,354.6 C763.5,353.9 767.05,353.27 770.4,352.8 C773.75,352.33 777.23,351.87 780.5,351.8 C783.77,351.73 786.75,351.87 790,352.4 C793.25,352.93 796,353.4 800,355 C804,356.6 809.33,359 814,362 C818.67,365 823.67,368.83 828,373 C832.33,377.17 836.33,382 840,387 C843.67,392 847.33,398 850,403 C852.67,408 854.5,412.1 856,417 C857.5,421.9 858.5,427.73 859,432.4 C859.5,437.07 859,442.9 859,445 L1130,470 L640,470 L640,400 Z" fill="#49be86"/>
<path d="M670,402.5 C671.17,401.8 674.5,399.75 677,398.3 C679.5,396.85 682,395.63 685,393.8 C688,391.97 691.67,389.38 695,387.3 C698.33,385.22 701.63,383.15 705,381.3 C708.37,379.45 711.83,377.72 715.2,376.2 C718.57,374.68 721.85,373.53 725.2,372.2 C728.55,370.87 731.95,369.45 735.3,368.2 C738.65,366.95 741.95,365.67 745.3,364.7 C748.65,363.73 752.05,362.95 755.4,362.4 C758.75,361.85 762.23,361.4 765.4,361.4 C768.57,361.4 771.55,361.87 774.4,362.4 C777.25,362.93 779.9,363.7 782.5,364.6 C785.1,365.5 787.42,366.15 790,367.8 C792.58,369.45 794.67,371.3 798,374.5 C801.33,377.7 806.33,382.58 810,387 C813.67,391.42 817,396.33 820,401 C823,405.67 825.83,411 828,415 C830.17,419 831.83,422.1 833,425 C834.17,427.9 834.67,429.07 835,432.4 C835.33,435.73 835,442.9 835,445 L1130,470 L640,470 L640,400 Z" fill="#7cd369"/>
<path d="M670,413 C671.17,412.32 674.5,410.33 677,408.9 C679.5,407.47 682,406.17 685,404.4 C688,402.63 691.67,400.23 695,398.3 C698.33,396.37 701.67,394.47 705,392.8 C708.33,391.13 711.8,389.55 715,388.3 C718.2,387.05 721.32,386.3 724.2,385.3 C727.08,384.3 729.62,383.22 732.3,382.3 C734.98,381.38 737.63,380.43 740.3,379.8 C742.97,379.17 745.62,378.68 748.3,378.5 C750.98,378.32 753.72,378.32 756.4,378.7 C759.08,379.08 761.73,379.87 764.4,380.8 C767.07,381.73 769.72,382.88 772.4,384.3 C775.08,385.72 778.15,387.63 780.5,389.3 C782.85,390.97 784.75,392.6 786.5,394.3 C788.25,396 789.42,397.22 791,399.5 C792.58,401.78 794.5,405.25 796,408 C797.5,410.75 798.83,413.17 800,416 C801.17,418.83 802.25,422.27 803,425 C803.75,427.73 804.25,429.07 804.5,432.4 C804.75,435.73 804.5,442.9 804.5,445 L1130,470 L640,470 L640,400 Z" fill="#bce140"/>
<path d="M670,429 C671.17,428.5 674.5,427.1 677,426 C679.5,424.9 682.83,423.4 685,422.4 C687.17,421.4 687.5,421.17 690,420 C692.5,418.83 696.67,416.83 700,415.4 C703.33,413.97 706.67,412.57 710,411.4 C713.33,410.23 716.62,409.32 720,408.4 C723.38,407.48 726.92,406.4 730.3,405.9 C733.68,405.4 737.3,405.15 740.3,405.4 C743.3,405.65 745.78,406.4 748.3,407.4 C750.82,408.4 753.38,409.9 755.4,411.4 C757.42,412.9 758.9,414.57 760.4,416.4 C761.9,418.23 763.13,420.22 764.4,422.4 C765.67,424.58 767.07,427.83 768,429.5 C768.93,431.17 769.33,429.82 770,432.4 C770.67,434.98 771.67,442.9 772,445 L1130,470 L640,470 L640,400 Z" fill="#fde93b"/>
<path d="M670,366.5 C671.17,365.67 674.5,363.33 677,361.5 C679.5,359.67 681.17,358.08 685,355.5 C688.83,352.92 695.83,348.65 700,346 C704.17,343.35 706.63,341.67 710,339.6 C713.37,337.53 716.82,335.53 720.2,333.6 C723.58,331.67 726.95,329.77 730.3,328 C733.65,326.23 737.02,324.83 740.3,323 C743.58,321.17 746.72,319.45 750,317 C753.28,314.55 757.33,310.42 760,308.3 C762.67,306.18 763.5,305.47 766,304.3 C768.5,303.13 771,302.48 775,301.3 C779,300.12 785.83,299.22 790,297.2 C794.17,295.18 796.67,291.7 800,289.2 C803.33,286.7 806.62,284.55 810,282.2 C813.38,279.85 816.92,277.28 820.3,275.1 C823.68,272.92 826.97,270.93 830.3,269.1 C833.63,267.27 836.95,265.77 840.3,264.1 C843.65,262.43 847.05,260.77 850.4,259.1 C853.75,257.43 857.05,255.78 860.4,254.1 C863.75,252.42 867.23,250.68 870.5,249 C873.77,247.32 875.08,246.75 880,244 C884.92,241.25 893.33,235.33 900,232.5 C906.67,229.67 913.33,228.18 920,227 C926.67,225.82 933.33,225.8 940,225.4 C946.67,225 953.33,224.83 960,224.6 C966.67,224.37 973.33,223.87 980,224 C986.67,224.13 994,224.4 1000,225.4 C1006,226.4 1011,227.9 1016,230 C1021,232.1 1025.67,235 1030,238 C1034.33,241 1038.33,244.33 1042,248 C1045.67,251.67 1049.33,256.17 1052,260 C1054.67,263.83 1056.5,267.83 1058,271 C1059.5,274.17 1060,275.5 1061,279 C1062,282.5 1062.67,288 1064,292 C1065.33,296 1067.17,298.5 1069,303 C1070.83,307.5 1073.5,313.67 1075,319 C1076.5,324.33 1077.17,329 1078,335 C1078.83,341 1079.5,348.33 1080,355 C1080.5,361.67 1080.67,368.33 1081,375 C1081.33,381.67 1081.83,388.33 1082,395 C1082.17,401.67 1082,408.77 1082,415 C1082,421.23 1082,427.4 1082,432.4 C1082,437.4 1082,442.9 1082,445" fill="none" stroke="#857b7b" stroke-opacity="0.7" stroke-width="0.55"/>
<path d="M670,367 C671.17,366.37 674.5,364.42 677,363.2 C679.5,361.98 682,360.87 685,359.7 C688,358.53 692,357.47 695,356.2 C698,354.93 700.83,353.45 703,352.1 C705.17,350.75 707.05,349.43 708,348.1 C708.95,346.77 708,345.35 708.7,344.1 C709.4,342.85 710.28,341.6 712.2,340.6 C714.12,339.6 717.37,338.93 720.2,338.1 C723.03,337.27 726.68,336.6 729.2,335.6 C731.72,334.6 733.12,333.37 735.3,332.1 C737.48,330.83 739.8,329.35 742.3,328 C744.8,326.65 747.95,325.33 750.3,324 C752.65,322.67 754.78,321.12 756.4,320 C758.02,318.88 757.73,319.08 760,317.3 C762.27,315.52 766.67,311.22 770,309.3 C773.33,307.38 776.67,306.8 780,305.8 C783.33,304.8 787.13,304.22 790,303.3 C792.87,302.38 794.67,301.82 797.2,300.3 C799.73,298.78 802.2,296.38 805.2,294.2 C808.2,292.02 811.85,289.53 815.2,287.2 C818.55,284.87 821.95,282.38 825.3,280.2 C828.65,278.02 831.95,275.95 835.3,274.1 C838.65,272.25 842.05,270.43 845.4,269.1 C848.75,267.77 852.07,267.27 855.4,266.1 C858.73,264.93 861.3,263.77 865.4,262.1 C869.5,260.43 875.57,257.95 880,256.1 C884.43,254.25 887.67,252.68 892,251 C896.33,249.32 901.33,247.27 906,246 C910.67,244.73 915,244.03 920,243.4 C925,242.77 930.67,242.17 936,242.2 C941.33,242.23 947,242.87 952,243.6 C957,244.33 961,245.03 966,246.6 C971,248.17 977,250.6 982,253 C987,255.4 991.67,257.67 996,261 C1000.33,264.33 1004.33,268 1008,273 C1011.67,278 1015.5,285.33 1018,291 C1020.5,296.67 1021.33,301.67 1023,307 C1024.67,312.33 1026.17,317.67 1028,323 C1029.83,328.33 1032.67,333.67 1034,339 C1035.33,344.33 1035.33,349 1036,355 C1036.67,361 1037.33,368.33 1038,375 C1038.67,381.67 1039.5,388.33 1040,395 C1040.5,401.67 1040.73,408.77 1041,415 C1041.27,421.23 1041.5,427.4 1041.6,432.4 C1041.7,437.4 1041.6,442.9 1041.6,445" fill="none" stroke="#857b7b" stroke-opacity="0.7" stroke-width="0.55"/>
<path d="M670,369 C671.17,368.37 674.5,366.33 677,365.2 C679.5,364.07 682,363.45 685,362.2 C688,360.95 691.67,359.22 695,357.7 C698.33,356.18 702.5,354.53 705,353.1 C707.5,351.67 708.3,350.43 710,349.1 C711.7,347.77 712.67,346.35 715.2,345.1 C717.73,343.85 721.85,342.77 725.2,341.6 C728.55,340.43 731.95,339.52 735.3,338.1 C738.65,336.68 741.95,334.95 745.3,333.1 C748.65,331.25 752.95,328.72 755.4,327 C757.85,325.28 757.57,324.58 760,322.8 C762.43,321.02 766.67,318.13 770,316.3 C773.33,314.47 776.67,312.97 780,311.8 C783.33,310.63 786.67,310.38 790,309.3 C793.33,308.22 796.3,306.8 800,305.3 C803.7,303.8 808.82,302.15 812.2,300.3 C815.58,298.45 817.28,296.38 820.3,294.2 C823.32,292.02 826.97,289.2 830.3,287.2 C833.63,285.2 836.95,283.62 840.3,282.2 C843.65,280.78 847.47,279.53 850.4,278.7 C853.33,277.87 854.88,277.8 857.9,277.2 C860.92,276.6 864.82,275.87 868.5,275.1 C872.18,274.33 876.08,273.45 880,272.6 C883.92,271.75 887.67,270.73 892,270 C896.33,269.27 901.33,268.3 906,268.2 C910.67,268.1 915.67,268.6 920,269.4 C924.33,270.2 928.33,271.32 932,273 C935.67,274.68 939.33,277.42 942,279.5 C944.67,281.58 945,282.83 948,285.5 C951,288.17 956.33,292.17 960,295.5 C963.67,298.83 967,301.92 970,305.5 C973,309.08 975.67,313.08 978,317 C980.33,320.92 982.5,325 984,329 C985.5,333 986,336.67 987,341 C988,345.33 988.83,350 990,355 C991.17,360 993,365.67 994,371 C995,376.33 995.33,381 996,387 C996.67,393 997.33,399.43 998,407 C998.67,414.57 999.67,426.07 1000,432.4 C1000.33,438.73 1000,442.9 1000,445" fill="none" stroke="#857b7b" stroke-opacity="0.7" stroke-width="0.55"/>
<path d="M670,379.5 C671.17,378.87 674.5,377.08 677,375.7 C679.5,374.32 682,372.95 685,371.2 C688,369.45 691.67,367.12 695,365.2 C698.33,363.28 701.63,361.55 705,359.7 C708.37,357.85 711.83,355.87 715.2,354.1 C718.57,352.33 721.85,350.6 725.2,349.1 C728.55,347.6 731.95,346.52 735.3,345.1 C738.65,343.68 741.95,342.18 745.3,340.6 C748.65,339.02 752.95,336.97 755.4,335.6 C757.85,334.23 757.57,333.85 760,332.4 C762.43,330.95 766.67,328.4 770,326.9 C773.33,325.4 776.67,324.33 780,323.4 C783.33,322.47 786.67,321.98 790,321.3 C793.33,320.62 796.67,320.05 800,319.3 C803.33,318.55 806.62,317.8 810,316.8 C813.38,315.8 816.92,314.55 820.3,313.3 C823.68,312.05 827.63,310.38 830.3,309.3 C832.97,308.22 833.78,307.63 836.3,306.8 C838.82,305.97 842.22,305.05 845.4,304.3 C848.58,303.55 852.07,302.8 855.4,302.3 C858.73,301.8 861.3,300.97 865.4,301.3 C869.5,301.63 876.23,303.18 880,304.3 C883.77,305.42 884.67,306.05 888,308 C891.33,309.95 896.33,313.25 900,316 C903.67,318.75 906.67,321.33 910,324.5 C913.33,327.67 917,330.92 920,335 C923,339.08 925.83,344.33 928,349 C930.17,353.67 931.5,358 933,363 C934.5,368 935.83,373.67 937,379 C938.17,384.33 939,389.67 940,395 C941,400.33 942.17,404.77 943,411 C943.83,417.23 944.67,426.73 945,432.4 C945.33,438.07 945,442.9 945,445" fill="none" stroke="#857b7b" stroke-opacity="0.7" stroke-width="0.55"/>
<path d="M670,388.5 C671.17,387.8 674.5,385.85 677,384.3 C679.5,382.75 682,381.05 685,379.2 C688,377.35 691.67,375.2 695,373.2 C698.33,371.2 701.63,369.03 705,367.2 C708.37,365.37 711.83,363.87 715.2,362.2 C718.57,360.53 721.85,358.8 725.2,357.2 C728.55,355.6 731.95,354.03 735.3,352.6 C738.65,351.17 741.95,349.93 745.3,348.6 C748.65,347.27 752.95,345.53 755.4,344.6 C757.85,343.67 757.57,343.87 760,343 C762.43,342.13 766.67,340.5 770,339.4 C773.33,338.3 776.67,337.15 780,336.4 C783.33,335.65 786.67,335.23 790,334.9 C793.33,334.57 795.22,334.57 800,334.4 C804.78,334.23 813.65,333.9 818.7,333.9 C823.75,333.9 826.7,334.23 830.3,334.4 C833.9,334.57 836.95,334.57 840.3,334.9 C843.65,335.23 847.05,335.48 850.4,336.4 C853.75,337.32 857.05,338.73 860.4,340.4 C863.75,342.07 867.23,343.97 870.5,346.4 C873.77,348.83 877.08,351.57 880,355 C882.92,358.43 885.67,362.67 888,367 C890.33,371.33 892.33,376.33 894,381 C895.67,385.67 897,390 898,395 C899,400 899.5,404.77 900,411 C900.5,417.23 900.83,426.73 901,432.4 C901.17,438.07 901,442.9 901,445" fill="none" stroke="#857b7b" stroke-opacity="0.7" stroke-width="0.55"/>
<path d="M670,396.5 C671.17,395.8 674.5,393.75 677,392.3 C679.5,390.85 682,389.63 685,387.8 C688,385.97 691.67,383.32 695,381.3 C698.33,379.28 701.63,377.47 705,375.7 C708.37,373.93 711.83,372.28 715.2,370.7 C718.57,369.12 721.85,367.62 725.2,366.2 C728.55,364.78 732.12,363.45 735.3,362.2 C738.48,360.95 741.55,359.57 744.3,358.7 C747.05,357.83 749.12,357.68 751.8,357 C754.48,356.32 757.3,355.3 760.4,354.6 C763.5,353.9 767.05,353.27 770.4,352.8 C773.75,352.33 777.23,351.87 780.5,351.8 C783.77,351.73 786.75,351.87 790,352.4 C793.25,352.93 796,353.4 800,355 C804,356.6 809.33,359 814,362 C818.67,365 823.67,368.83 828,373 C832.33,377.17 836.33,382 840,387 C843.67,392 847.33,398 850,403 C852.67,408 854.5,412.1 856,417 C857.5,421.9 858.5,427.73 859,432.4 C859.5,437.07 859,442.9 859,445" fill="none" stroke="#857b7b" stroke-opacity="0.7" stroke-width="0.55"/>
<path d="M670,402.5 C671.17,401.8 674.5,399.75 677,398.3 C679.5,396.85 682,395.63 685,393.8 C688,391.97 691.67,389.38 695,387.3 C698.33,385.22 701.63,383.15 705,381.3 C708.37,379.45 711.83,377.72 715.2,376.2 C718.57,374.68 721.85,373.53 725.2,372.2 C728.55,370.87 731.95,369.45 735.3,368.2 C738.65,366.95 741.95,365.67 745.3,364.7 C748.65,363.73 752.05,362.95 755.4,362.4 C758.75,361.85 762.23,361.4 765.4,361.4 C768.57,361.4 771.55,361.87 774.4,362.4 C777.25,362.93 779.9,363.7 782.5,364.6 C785.1,365.5 787.42,366.15 790,367.8 C792.58,369.45 794.67,371.3 798,374.5 C801.33,377.7 806.33,382.58 810,387 C813.67,391.42 817,396.33 820,401 C823,405.67 825.83,411 828,415 C830.17,419 831.83,422.1 833,425 C834.17,427.9 834.67,429.07 835,432.4 C835.33,435.73 835,442.9 835,445" fill="none" stroke="#857b7b" stroke-opacity="0.7" stroke-width="0.55"/>
<path d="M670,413 C671.17,412.32 674.5,410.33 677,408.9 C679.5,407.47 682,406.17 685,404.4 C688,402.63 691.67,400.23 695,398.3 C698.33,396.37 701.67,394.47 705,392.8 C708.33,391.13 711.8,389.55 715,388.3 C718.2,387.05 721.32,386.3 724.2,385.3 C727.08,384.3 729.62,383.22 732.3,382.3 C734.98,381.38 737.63,380.43 740.3,379.8 C742.97,379.17 745.62,378.68 748.3,378.5 C750.98,378.32 753.72,378.32 756.4,378.7 C759.08,379.08 761.73,379.87 764.4,380.8 C767.07,381.73 769.72,382.88 772.4,384.3 C775.08,385.72 778.15,387.63 780.5,389.3 C782.85,390.97 784.75,392.6 786.5,394.3 C788.25,396 789.42,397.22 791,399.5 C792.58,401.78 794.5,405.25 796,408 C797.5,410.75 798.83,413.17 800,416 C801.17,418.83 802.25,422.27 803,425 C803.75,427.73 804.25,429.07 804.5,432.4 C804.75,435.73 804.5,442.9 804.5,445" fill="none" stroke="#857b7b" stroke-opacity="0.7" stroke-width="0.55"/>
<path d="M670,429 C671.17,428.5 674.5,427.1 677,426 C679.5,424.9 682.83,423.4 685,422.4 C687.17,421.4 687.5,421.17 690,420 C692.5,418.83 696.67,416.83 700,415.4 C703.33,413.97 706.67,412.57 710,411.4 C713.33,410.23 716.62,409.32 720,408.4 C723.38,407.48 726.92,406.4 730.3,405.9 C733.68,405.4 737.3,405.15 740.3,405.4 C743.3,405.65 745.78,406.4 748.3,407.4 C750.82,408.4 753.38,409.9 755.4,411.4 C757.42,412.9 758.9,414.57 760.4,416.4 C761.9,418.23 763.13,420.22 764.4,422.4 C765.67,424.58 767.07,427.83 768,429.5 C768.93,431.17 769.33,429.82 770,432.4 C770.67,434.98 771.67,442.9 772,445" fill="none" stroke="#857b7b" stroke-opacity="0.7" stroke-width="0.55"/>
</g>
<path d="M670,366 C671.17,365.37 674.5,363.58 677,362.2 C679.5,360.82 682,359.38 685,357.7 C688,356.02 691.67,354.03 695,352.1 C698.33,350.17 702.5,347.93 705,346.1 C707.5,344.27 707.47,342.93 710,341.1 C712.53,339.27 716.82,336.95 720.2,335.1 C723.58,333.25 726.95,331.68 730.3,330 C733.65,328.32 736.97,326.5 740.3,325 C743.63,323.5 747.02,323.12 750.3,321 C753.58,318.88 757.05,314.75 760,312.3 C762.95,309.85 765.5,307.88 768,306.3 C770.5,304.72 771.33,304.07 775,302.8 C778.67,301.53 785.83,300.63 790,298.7 C794.17,296.77 796.67,293.62 800,291.2 C803.33,288.78 806.62,286.45 810,284.2 C813.38,281.95 816.92,279.8 820.3,277.7 C823.68,275.6 826.97,273.45 830.3,271.6 C833.63,269.75 836.95,268.1 840.3,266.6 C843.65,265.1 847.05,264.02 850.4,262.6 C853.75,261.18 857.05,259.68 860.4,258.1 C863.75,256.52 867.23,254.78 870.5,253.1 C873.77,251.42 876.42,249.93 880,248 C883.58,246.07 887,243.23 892,241.5 C897,239.77 903.67,238.68 910,237.6 C916.33,236.52 924,235.83 930,235 C936,234.17 941,233.1 946,232.6 C951,232.1 955,231.87 960,232 C965,232.13 970.67,232.4 976,233.4 C981.33,234.4 987,235.9 992,238 C997,240.1 1001.33,242.67 1006,246 C1010.67,249.33 1016.33,253.5 1020,258 C1023.67,262.5 1025.67,267.83 1028,273 C1030.33,278.17 1032.33,283.33 1034,289 C1035.67,294.67 1037,301.67 1038,307 C1039,312.33 1038.67,316.67 1040,321 C1041.33,325.33 1044.67,328.67 1046,333 C1047.33,337.33 1047.5,342 1048,347 C1048.5,352 1048.67,356.67 1049,363 C1049.33,369.33 1049.67,378 1050,385 C1050.33,392 1050.73,398.67 1051,405 C1051.27,411.33 1051.6,418.43 1051.6,423 C1051.6,427.57 1051.1,428.73 1051,432.4 C1050.9,436.07 1051,442.9 1051,445" fill="none" stroke="#ff0000" stroke-width="1.1" stroke-dasharray="4.1,1.75"/>
<path d="M670,367 C671.17,366.37 674.5,364.42 677,363.2 C679.5,361.98 682,360.87 685,359.7 C688,358.53 692,357.47 695,356.2 C698,354.93 700.83,353.45 703,352.1 C705.17,350.75 707.05,349.43 708,348.1 C708.95,346.77 708,345.35 708.7,344.1 C709.4,342.85 710.28,341.6 712.2,340.6 C714.12,339.6 717.37,338.93 720.2,338.1 C723.03,337.27 726.68,336.6 729.2,335.6 C731.72,334.6 733.12,333.37 735.3,332.1 C737.48,330.83 739.8,329.35 742.3,328 C744.8,326.65 747.95,325.33 750.3,324 C752.65,322.67 754.78,321.12 756.4,320 C758.02,318.88 757.73,319.08 760,317.3 C762.27,315.52 766.67,311.22 770,309.3 C773.33,307.38 776.67,306.8 780,305.8 C783.33,304.8 787.13,304.22 790,303.3 C792.87,302.38 794.67,301.82 797.2,300.3 C799.73,298.78 802.2,296.38 805.2,294.2 C808.2,292.02 811.85,289.53 815.2,287.2 C818.55,284.87 821.95,282.38 825.3,280.2 C828.65,278.02 831.95,275.95 835.3,274.1 C838.65,272.25 842.05,270.43 845.4,269.1 C848.75,267.77 852.07,267.27 855.4,266.1 C858.73,264.93 861.3,263.77 865.4,262.1 C869.5,260.43 875.57,257.95 880,256.1 C884.43,254.25 887.67,252.68 892,251 C896.33,249.32 901.33,247.27 906,246 C910.67,244.73 915,244.03 920,243.4 C925,242.77 930.67,242.17 936,242.2 C941.33,242.23 947,242.87 952,243.6 C957,244.33 961,245.03 966,246.6 C971,248.17 977,250.6 982,253 C987,255.4 991.67,257.67 996,261 C1000.33,264.33 1004.33,268 1008,273 C1011.67,278 1015.5,285.33 1018,291 C1020.5,296.67 1021.33,301.67 1023,307 C1024.67,312.33 1026.17,317.67 1028,323 C1029.83,328.33 1032.67,333.67 1034,339 C1035.33,344.33 1035.33,349 1036,355 C1036.67,361 1037.33,368.33 1038,375 C1038.67,381.67 1039.5,388.33 1040,395 C1040.5,401.67 1040.73,408.77 1041,415 C1041.27,421.23 1041.5,427.4 1041.6,432.4 C1041.7,437.4 1041.6,442.9 1041.6,445" fill="none" stroke="#ff0000" stroke-width="1.35"/>
</g>
<g clip-path="url(#boxb)">
<line x1="676.65" y1="354.97" x2="880.22" y2="193.83" stroke="#979797" stroke-width="1.9" stroke-dasharray="24.6,4.7"/>
</g>
<g transform="translate(694,327) rotate(-38.5)" fill="#8f8f8f" stroke="none" font-style="italic" font-size="12.4">
<text x="0" y="0">m(</text><text x="15.3" y="1.2">χ</text><text x="22.6" y="-4.6" font-size="7.4" font-style="normal">0</text><text x="22.8" y="4.6" font-size="7.4" font-style="normal">1</text>
<text x="27.6" y="0">)</text><text x="34.2" y="0" font-style="normal">&gt;</text><text x="44.4" y="0">m(</text><text x="59.6" y="0">q</text><text x="66.8" y="0">)</text>
<path d="M16.6,-8.2 q1.2,-1.6 2.4,-0.5 t2.4,-0.5 M60.8,-8.6 q1.2,-1.6 2.4,-0.5 t2.4,-0.5" fill="none" stroke="#8f8f8f" stroke-width="0.75"/>
</g>
<text transform="translate(690,420) rotate(-18)" font-size="9.4" text-anchor="middle" y="3.35" fill="#000" stroke="#000" stroke-width="0.2">80</text>
<text transform="translate(724.2,385.3) rotate(-15)" font-size="9.4" text-anchor="middle" y="3.35" fill="#000" stroke="#000" stroke-width="0.2">50</text>
<text transform="translate(715.2,376.2) rotate(-25)" font-size="9.4" text-anchor="middle" y="3.35" fill="#000" stroke="#000" stroke-width="0.2">30</text>
<text transform="translate(751.8,357.2) rotate(-8)" font-size="9.4" text-anchor="middle" y="3.35" fill="#000" stroke="#000" stroke-width="0.2">20</text>
<text transform="translate(818.7,333.9) rotate(0)" font-size="9.4" text-anchor="middle" y="3.35" fill="#000" stroke="#000" stroke-width="0.2">10</text>
<text transform="translate(836.3,306.8) rotate(-5)" font-size="9.4" text-anchor="middle" y="3.35" fill="#000" stroke="#000" stroke-width="0.2">5</text>
<text transform="translate(857.9,277.2) rotate(-5)" font-size="9.4" text-anchor="middle" y="3.35" fill="#000" stroke="#000" stroke-width="0.2">2</text>
<text transform="translate(1071,309.4) rotate(65)" font-size="9.4" text-anchor="middle" y="3.35" fill="#000" stroke="#000" stroke-width="0.2">0.5</text>
<text transform="translate(1037.6,363.4) rotate(85)" font-size="9.4" text-anchor="middle" y="3.35" fill="#000" stroke="#000" stroke-width="0.2">1</text>
<rect x="676.65" y="21.4" width="422.35" height="411.1" fill="none" stroke="#000" stroke-width="0.8"/>
<g stroke="#000" fill="none"><path d="M691.19,432.5 v-2.9 M691.19,21.4 v2.9" stroke-width="0.55"/><path d="M705.73,432.5 v-2.9 M705.73,21.4 v2.9" stroke-width="0.55"/><path d="M720.27,432.5 v-2.9 M720.27,21.4 v2.9" stroke-width="0.55"/><path d="M734.81,432.5 v-5 M734.81,21.4 v5" stroke-width="0.8"/><path d="M749.36,432.5 v-2.9 M749.36,21.4 v2.9" stroke-width="0.55"/><path d="M763.9,432.5 v-2.9 M763.9,21.4 v2.9" stroke-width="0.55"/><path d="M778.44,432.5 v-2.9 M778.44,21.4 v2.9" stroke-width="0.55"/><path d="M792.98,432.5 v-5 M792.98,21.4 v5" stroke-width="0.8"/><path d="M807.52,432.5 v-2.9 M807.52,21.4 v2.9" stroke-width="0.55"/><path d="M822.06,432.5 v-2.9 M822.06,21.4 v2.9" stroke-width="0.55"/><path d="M836.6,432.5 v-2.9 M836.6,21.4 v2.9" stroke-width="0.55"/><path d="M851.14,432.5 v-5 M851.14,21.4 v5" stroke-width="0.8"/><path d="M865.68,432.5 v-2.9 M865.68,21.4 v2.9" stroke-width="0.55"/><path d="M880.22,432.5 v-2.9 M880.22,21.4 v2.9" stroke-width="0.55"/><path d="M894.77,432.5 v-2.9 M894.77,21.4 v2.9" stroke-width="0.55"/><path d="M909.31,432.5 v-5 M909.31,21.4 v5" stroke-width="0.8"/><path d="M923.85,432.5 v-2.9 M923.85,21.4 v2.9" stroke-width="0.55"/><path d="M938.39,432.5 v-2.9 M938.39,21.4 v2.9" stroke-width="0.55"/><path d="M952.93,432.5 v-2.9 M952.93,21.4 v2.9" stroke-width="0.55"/><path d="M967.47,432.5 v-5 M967.47,21.4 v5" stroke-width="0.8"/><path d="M982.01,432.5 v-2.9 M982.01,21.4 v2.9" stroke-width="0.55"/><path d="M996.55,432.5 v-2.9 M996.55,21.4 v2.9" stroke-width="0.55"/><path d="M1011.09,432.5 v-2.9 M1011.09,21.4 v2.9" stroke-width="0.55"/><path d="M1025.63,432.5 v-5 M1025.63,21.4 v5" stroke-width="0.8"/><path d="M1040.18,432.5 v-2.9 M1040.18,21.4 v2.9" stroke-width="0.55"/><path d="M1054.72,432.5 v-2.9 M1054.72,21.4 v2.9" stroke-width="0.55"/><path d="M1069.26,432.5 v-2.9 M1069.26,21.4 v2.9" stroke-width="0.55"/><path d="M1083.8,432.5 v-5 M1083.8,21.4 v5" stroke-width="0.8"/><path d="M676.65,424.03 h6.5 M1099,424.03 h-6.5" stroke-width="0.55"/><path d="M676.65,412.52 h6.5 M1099,412.52 h-6.5" stroke-width="0.55"/><path d="M676.65,401.01 h6.5 M1099,401.01 h-6.5" stroke-width="0.55"/><path d="M676.65,389.5 h13 M1099,389.5 h-13" stroke-width="0.8"/><path d="M676.65,377.99 h6.5 M1099,377.99 h-6.5" stroke-width="0.55"/><path d="M676.65,366.48 h6.5 M1099,366.48 h-6.5" stroke-width="0.55"/><path d="M676.65,354.97 h6.5 M1099,354.97 h-6.5" stroke-width="0.55"/><path d="M676.65,343.46 h6.5 M1099,343.46 h-6.5" stroke-width="0.55"/><path d="M676.65,331.95 h13 M1099,331.95 h-13" stroke-width="0.8"/><path d="M676.65,320.44 h6.5 M1099,320.44 h-6.5" stroke-width="0.55"/><path d="M676.65,308.93 h6.5 M1099,308.93 h-6.5" stroke-width="0.55"/><path d="M676.65,297.42 h6.5 M1099,297.42 h-6.5" stroke-width="0.55"/><path d="M676.65,285.91 h6.5 M1099,285.91 h-6.5" stroke-width="0.55"/><path d="M676.65,274.4 h13 M1099,274.4 h-13" stroke-width="0.8"/><path d="M676.65,262.89 h6.5 M1099,262.89 h-6.5" stroke-width="0.55"/><path d="M676.65,251.38 h6.5 M1099,251.38 h-6.5" stroke-width="0.55"/><path d="M676.65,239.87 h6.5 M1099,239.87 h-6.5" stroke-width="0.55"/><path d="M676.65,228.36 h6.5 M1099,228.36 h-6.5" stroke-width="0.55"/><path d="M676.65,216.85 h13 M1099,216.85 h-13" stroke-width="0.8"/><path d="M676.65,205.34 h6.5 M1099,205.34 h-6.5" stroke-width="0.55"/><path d="M676.65,193.83 h6.5 M1099,193.83 h-6.5" stroke-width="0.55"/><path d="M676.65,182.32 h6.5 M1099,182.32 h-6.5" stroke-width="0.55"/><path d="M676.65,170.81 h6.5 M1099,170.81 h-6.5" stroke-width="0.55"/><path d="M676.65,159.3 h13 M1099,159.3 h-13" stroke-width="0.8"/><path d="M676.65,147.79 h6.5 M1099,147.79 h-6.5" stroke-width="0.55"/><path d="M676.65,136.28 h6.5 M1099,136.28 h-6.5" stroke-width="0.55"/><path d="M676.65,124.77 h6.5 M1099,124.77 h-6.5" stroke-width="0.55"/><path d="M676.65,113.26 h6.5 M1099,113.26 h-6.5" stroke-width="0.55"/><path d="M676.65,101.75 h13 M1099,101.75 h-13" stroke-width="0.8"/><path d="M676.65,90.24 h6.5 M1099,90.24 h-6.5" stroke-width="0.55"/><path d="M676.65,78.73 h6.5 M1099,78.73 h-6.5" stroke-width="0.55"/><path d="M676.65,67.22 h6.5 M1099,67.22 h-6.5" stroke-width="0.55"/><path d="M676.65,55.71 h6.5 M1099,55.71 h-6.5" stroke-width="0.55"/><path d="M676.65,44.2 h13 M1099,44.2 h-13" stroke-width="0.8"/><path d="M676.65,32.69 h6.5 M1099,32.69 h-6.5" stroke-width="0.55"/></g>
<text transform="translate(671.45,448.8) scale(0.94,1)" font-size="15.7" text-anchor="middle">400</text>
<text transform="translate(729.61,448.8) scale(0.94,1)" font-size="15.7" text-anchor="middle">600</text>
<text transform="translate(787.78,448.8) scale(0.94,1)" font-size="15.7" text-anchor="middle">800</text>
<text transform="translate(845.94,448.8) scale(0.94,1)" font-size="15.7" text-anchor="middle">1000</text>
<text transform="translate(904.11,448.8) scale(0.94,1)" font-size="15.7" text-anchor="middle">1200</text>
<text transform="translate(962.27,448.8) scale(0.94,1)" font-size="15.7" text-anchor="middle">1400</text>
<text transform="translate(1020.43,448.8) scale(0.94,1)" font-size="15.7" text-anchor="middle">1600</text>
<text transform="translate(1078.6,448.8) scale(0.94,1)" font-size="15.7" text-anchor="middle">1800</text>
<text transform="translate(669.75,396.1) scale(0.94,1)" font-size="15.7" text-anchor="end">250</text>
<text transform="translate(669.75,338.55) scale(0.94,1)" font-size="15.7" text-anchor="end">500</text>
<text transform="translate(669.75,281) scale(0.94,1)" font-size="15.7" text-anchor="end">750</text>
<text transform="translate(669.75,223.45) scale(0.94,1)" font-size="15.7" text-anchor="end">1000</text>
<text transform="translate(669.75,165.9) scale(0.94,1)" font-size="15.7" text-anchor="end">1250</text>
<text transform="translate(669.75,108.35) scale(0.94,1)" font-size="15.7" text-anchor="end">1500</text>
<text transform="translate(669.75,50.8) scale(0.94,1)" font-size="15.7" text-anchor="end">1750</text>
<rect x="1125.3" y="391.39" width="20.4" height="41.41" fill="#571b65"/>
<rect x="1125.3" y="350.28" width="20.4" height="41.41" fill="#5a3d85"/>
<rect x="1125.3" y="309.17" width="20.4" height="41.41" fill="#525c95"/>
<rect x="1125.3" y="268.06" width="20.4" height="41.41" fill="#457799"/>
<rect x="1125.3" y="226.95" width="20.4" height="41.41" fill="#3b8f99"/>
<rect x="1125.3" y="185.84" width="20.4" height="41.41" fill="#35a795"/>
<rect x="1125.3" y="144.73" width="20.4" height="41.41" fill="#49be86"/>
<rect x="1125.3" y="103.62" width="20.4" height="41.41" fill="#7cd369"/>
<rect x="1125.3" y="62.51" width="20.4" height="41.41" fill="#bce140"/>
<rect x="1125.3" y="21.4" width="20.4" height="41.41" fill="#fde93b"/>
<rect x="1125.3" y="21.4" width="20.4" height="411.1" fill="none" stroke="#000" stroke-opacity="0.85" stroke-width="0.8"/>
<path d="M1145.7,391.39 h-6.5" stroke="#000" stroke-opacity="0.6" stroke-width="0.55"/>
<path d="M1145.7,350.28 h-13" stroke="#000" stroke-opacity="0.9" stroke-width="0.8"/>
<path d="M1145.7,309.17 h-6.5" stroke="#000" stroke-opacity="0.6" stroke-width="0.55"/>
<path d="M1145.7,268.06 h-13" stroke="#000" stroke-opacity="0.9" stroke-width="0.8"/>
<path d="M1145.7,226.95 h-6.5" stroke="#000" stroke-opacity="0.6" stroke-width="0.55"/>
<path d="M1145.7,185.84 h-13" stroke="#000" stroke-opacity="0.9" stroke-width="0.8"/>
<path d="M1145.7,144.73 h-6.5" stroke="#000" stroke-opacity="0.6" stroke-width="0.55"/>
<path d="M1145.7,103.62 h-13" stroke="#000" stroke-opacity="0.9" stroke-width="0.8"/>
<path d="M1145.7,62.51 h-6.5" stroke="#000" stroke-opacity="0.6" stroke-width="0.55"/>
<text transform="translate(1147.9,439.3) scale(0.94,1)" font-size="15.7" text-anchor="start">0</text>
<text transform="translate(1147.9,358.48) scale(0.94,1)" font-size="15.7" text-anchor="start">1</text>
<text transform="translate(1147.9,276.26) scale(0.94,1)" font-size="15.7" text-anchor="start">5</text>
<text transform="translate(1147.9,194.04) scale(0.94,1)" font-size="15.7" text-anchor="start">20</text>
<text transform="translate(1147.9,111.82) scale(0.94,1)" font-size="15.7" text-anchor="start">50</text>
<text transform="translate(1147.9,29.6) scale(0.94,1)" font-size="15.7" text-anchor="start">110</text>
<g transform="translate(1197,121.2) rotate(-90)" font-style="italic">
<text x="0" y="0" font-size="19.6">σ</text><text x="11.8" y="3.2" font-size="12.3" textLength="19.2" lengthAdjust="spacingAndGlyphs">obs</text><text x="37.6" y="0" font-size="18" font-style="normal">/</text><text x="49" y="0" font-size="19.6">σ</text><text x="60.6" y="3.2" font-size="12.8" textLength="35" lengthAdjust="spacingAndGlyphs">SUSY</text>
</g>
<text x="694.35" y="55.7" font-size="17" text-anchor="start" font-style="italic" font-weight="bold" fill="#000">ATLAS</text>
<path d="M695.15,82.3 l1.3,-0.8 l2.4,5.2 l2.9,-11.6 h9.8" fill="none" stroke="#000" stroke-width="0.75"/>
<text y="85.7" font-size="11.7"><tspan x="703.95" font-style="italic" font-size="12.2">s</tspan><tspan x="715.65">=</tspan><tspan x="725.55" textLength="86.2" lengthAdjust="spacingAndGlyphs">13 TeV,  140 fb</tspan><tspan font-size="8.2" dy="-4.6" dx="0.5">−1</tspan></text>
<path d="M695.15,99.5 l1.3,-0.8 l2.4,5.2 l2.9,-11.6 h9.8" fill="none" stroke="#000" stroke-width="0.75"/>
<text y="102.9" font-size="11.7"><tspan x="703.95" font-style="italic" font-size="12.2">s</tspan><tspan x="715.65">=</tspan><tspan x="725.55" textLength="100.6" lengthAdjust="spacingAndGlyphs">13.6 TeV,  51.8 fb</tspan><tspan font-size="8.2" dy="-4.6" dx="0.5">−1</tspan></text>
<line x1="925" y1="98.3" x2="952.5" y2="98.3" stroke="#ff0000" stroke-width="1.35"/>
<g font-size="11.7"><text x="962.4" y="102.55">(</text><text x="966.2" y="102.55" font-style="italic" font-size="12.6">σ</text><text x="974.8" y="104.65" font-style="italic" font-size="8.7" textLength="13.6" lengthAdjust="spacingAndGlyphs">obs</text><text x="993.2" y="102.55">/</text><text x="1000.6" y="102.55" font-style="italic" font-size="12.6">σ</text><text x="1009.3" y="104.65" font-style="italic" font-size="8.7" textLength="24.8" lengthAdjust="spacingAndGlyphs">SUSY</text><text x="1034.5" y="102.55">)</text><text x="1040.4" y="102.55">=</text><text x="1050.7" y="102.55" textLength="16.3" lengthAdjust="spacingAndGlyphs">1.0</text></g>
<line x1="925" y1="115.3" x2="952.5" y2="115.3" stroke="#ff0000" stroke-width="1.15" stroke-dasharray="4.1,1.75"/>
<g font-size="11.7"><text x="962.4" y="119.55">(</text><text x="966.2" y="119.55" font-style="italic" font-size="12.6">σ</text><text x="974.8" y="121.65" font-style="italic" font-size="8.7" textLength="13.6" lengthAdjust="spacingAndGlyphs">exp</text><text x="993.2" y="119.55">/</text><text x="1000.6" y="119.55" font-style="italic" font-size="12.6">σ</text><text x="1009.3" y="121.65" font-style="italic" font-size="8.7" textLength="24.8" lengthAdjust="spacingAndGlyphs">SUSY</text><text x="1034.5" y="119.55">)</text><text x="1040.4" y="119.55">=</text><text x="1050.7" y="119.55" textLength="16.3" lengthAdjust="spacingAndGlyphs">1.0</text></g>
<g><text x="682.25" y="9.8" font-size="8.8" font-style="italic" textLength="4.65" lengthAdjust="spacingAndGlyphs">q</text><path d="M683.6,3.8 q0.95,-1.7 1.9,-0.5 t1.9,-0.5" fill="none" stroke="#000" stroke-width="0.55"/><text x="687.8" y="11.6" font-size="6.4" font-style="italic" textLength="5.6" lengthAdjust="spacingAndGlyphs">L</text><text x="696.9" y="9.8" font-size="8.8" textLength="8.1" lengthAdjust="spacingAndGlyphs">→</text><text x="707.75" y="9.8" font-size="8.8" font-style="italic" textLength="4.75" lengthAdjust="spacingAndGlyphs">q</text><text x="713.1" y="9.8" font-size="8.4" textLength="47.9" lengthAdjust="spacingAndGlyphs">(<tspan font-style="italic">ττ</tspan>/<tspan font-style="italic">τν</tspan>/<tspan font-style="italic">νν</tspan>)</text><text x="761.9" y="10" font-size="8.8" font-style="italic" textLength="6.3" lengthAdjust="spacingAndGlyphs">χ</text><path d="M763.6,3.6 q0.95,-1.7 1.9,-0.5 t1.9,-0.5" fill="none" stroke="#000" stroke-width="0.55"/><text x="769" y="6.2" font-size="6.2" textLength="3.8" lengthAdjust="spacingAndGlyphs">0</text><text x="769.2" y="12.4" font-size="6.2" textLength="3.2" lengthAdjust="spacingAndGlyphs">1</text><text x="776.9" y="9.8" font-size="8.8" textLength="13.1" lengthAdjust="spacingAndGlyphs">via</text><text x="793.75" y="9.8" font-size="8.8" textLength="15" lengthAdjust="spacingAndGlyphs"><tspan font-style="italic">τ</tspan>/<tspan font-style="italic">ν</tspan></text><path d="M794.8,3.8 q0.95,-1.7 1.9,-0.5 t1.9,-0.5" fill="none" stroke="#000" stroke-width="0.55"/><path d="M804.2,3.8 q0.95,-1.7 1.9,-0.5 t1.9,-0.5" fill="none" stroke="#000" stroke-width="0.55"/></g>
<g><text x="1017.3" y="474" font-size="17.4" font-style="italic" textLength="17.5" lengthAdjust="spacingAndGlyphs">m</text><text x="1035.5" y="478.3" font-size="12.4" font-style="italic">q</text><path d="M1036.7,470.4 q1.2,-1.7 2.4,-0.5 t2.4,-0.5" fill="none" stroke="#000" stroke-width="0.55"/><text x="1046.9" y="474" font-size="17.6" textLength="45.4" lengthAdjust="spacingAndGlyphs">[GeV]</text></g>
<g transform="translate(619.2,105) rotate(-90)"><text x="0" y="0" font-size="17.4" font-style="italic" textLength="15.4" lengthAdjust="spacingAndGlyphs">m</text><text x="15.6" y="2.2" font-size="14.6" font-style="italic">χ</text><path d="M17.6,-8 q1.2,-1.7 2.4,-0.5 t2.4,-0.5" fill="none" stroke="#000" stroke-width="0.55"/><text x="23.8" y="-2.7" font-size="7.8">0</text><text x="24" y="5.7" font-size="7.8">1</text><text x="34.9" y="0" font-size="17.6" textLength="46.7" lengthAdjust="spacingAndGlyphs">[GeV]</text></g>
<clipPath id="hullc"><path d="M67.6,1016 L67.6,953.2 L89,936.8 L110,920.8 L130.3,905.2 L140,897.5 L190,858.3 L237.5,820.3 L280,789.3 L321,759.4 L490,759.4 L490,1016 Z"/></clipPath>
<clipPath id="boxc"><rect x="67.6" y="603.1" width="422" height="412.2"/></clipPath>
<g clip-path="url(#boxc)"><g clip-path="url(#hullc)">
<rect x="67.6" y="603.1" width="422" height="412.2" fill="#571b65"/>
<path d="M60,958 C61.33,957 61.33,957.08 68,952 C74.67,946.92 89.67,935.42 100,927.5 C110.33,919.58 121.67,910.92 130,904.5 C138.33,898.08 145,892.98 150,889 C155,885.02 156.33,883.52 160,880.6 C163.67,877.68 168.67,873.85 172,871.5 C175.33,869.15 176.95,868.72 180,866.5 C183.05,864.28 187.08,860.6 190.3,858.2 C193.52,855.8 195.95,854.28 199.3,852.1 C202.65,849.92 207.72,846.93 210.4,845.1 C213.08,843.27 212.9,842.77 215.4,841.1 C217.9,839.43 222.05,837.12 225.4,835.1 C228.75,833.08 232.23,830.85 235.5,829 C238.77,827.15 241.58,825.93 245,824 C248.42,822.07 252.17,818.8 256,817.4 C259.83,816 264,816.07 268,815.6 C272,815.13 276.33,815.2 280,814.6 C283.67,814 287.33,812.83 290,812 C292.67,811.17 293.33,810.73 296,809.6 C298.67,808.47 302.67,806.1 306,805.2 C309.33,804.3 312,804.37 316,804.2 C320,804.03 324.67,804.3 330,804.2 C335.33,804.1 341.33,804.07 348,803.6 C354.67,803.13 363,802.03 370,801.4 C377,800.77 384,799.97 390,799.8 C396,799.63 400.67,799.53 406,800.4 C411.33,801.27 417.33,802.73 422,805 C426.67,807.27 430.5,810.67 434,814 C437.5,817.33 440,821.33 443,825 C446,828.67 449.33,832.17 452,836 C454.67,839.83 457.33,843.83 459,848 C460.67,852.17 460.83,856.67 462,861 C463.17,865.33 464.5,869.17 466,874 C467.5,878.83 469.67,885 471,890 C472.33,895 472.83,899.5 474,904 C475.17,908.5 476.83,912.17 478,917 C479.17,921.83 480.17,926.33 481,933 C481.83,939.67 482.5,949.67 483,957 C483.5,964.33 483.67,970.33 484,977 C484.33,983.67 484.5,992 485,997 C485.5,1002 486.43,1004 487,1007 C487.57,1010 488.07,1012 488.4,1015 C488.73,1018 488.9,1023.33 489,1025 L520,1050 L30,1050 L30,980 Z" fill="#5b357f"/>
<path d="M60,958.6 C61.27,957.67 62.6,956.8 67.6,953 C72.6,949.2 81.93,942.03 90,935.8 C98.07,929.57 110.17,920.17 116,915.6 C121.83,911.03 121.83,910.95 125,908.4 C128.17,905.85 131.67,902.82 135,900.3 C138.33,897.78 141.98,895.3 145,893.3 C148.02,891.3 150.58,890.3 153.1,888.3 C155.62,886.3 157.75,883.32 160.1,881.3 C162.45,879.28 164.68,877.72 167.2,876.2 C169.72,874.68 172.87,873.2 175.2,872.2 C177.53,871.2 179.7,871.37 181.2,870.2 C182.7,869.03 182.85,866.87 184.2,865.2 C185.55,863.53 187.45,861.28 189.3,860.2 C191.15,859.12 193.13,859.28 195.3,858.7 C197.47,858.12 200.3,857.8 202.3,856.7 C204.3,855.6 205.78,853.62 207.3,852.1 C208.82,850.58 209.72,848.85 211.4,847.6 C213.08,846.35 215.07,845.43 217.4,844.6 C219.73,843.77 222.72,843.27 225.4,842.6 C228.08,841.93 230.73,841.13 233.5,840.6 C236.27,840.07 238.25,839.67 242,839.4 C245.75,839.13 252,839.57 256,839 C260,838.43 262,837.33 266,836 C270,834.67 275,832.1 280,831 C285,829.9 291,829.73 296,829.4 C301,829.07 305,829.23 310,829 C315,828.77 320.67,828.67 326,828 C331.33,827.33 337.67,825.73 342,825 C346.33,824.27 347.33,823.8 352,823.6 C356.67,823.4 365,823.4 370,823.8 C375,824.2 378,824.63 382,826 C386,827.37 390.67,829.5 394,832 C397.33,834.5 399.33,837.67 402,841 C404.67,844.33 407.33,848.17 410,852 C412.67,855.83 415.5,859.67 418,864 C420.5,868.33 423,873.33 425,878 C427,882.67 428.5,887.33 430,892 C431.5,896.67 432.83,901.67 434,906 C435.17,910.33 436.17,913.5 437,918 C437.83,922.5 438.33,927.83 439,933 C439.67,938.17 440.17,943.67 441,949 C441.83,954.33 443.17,959.67 444,965 C444.83,970.33 445.73,975.67 446,981 C446.27,986.33 445.43,992.67 445.6,997 C445.77,1001.33 446.43,1004 447,1007 C447.57,1010 448.5,1012 449,1015 C449.5,1018 449.83,1023.33 450,1025 L520,1050 L30,1050 L30,980 Z" fill="#574d8f"/>
<path d="M60,959.4 C61.27,958.47 62.6,957.6 67.6,953.8 C72.6,950 81.93,942.8 90,936.6 C98.07,930.4 108.5,922.37 116,916.6 C123.5,910.83 129.33,906.2 135,902 C140.67,897.8 145.83,894.43 150,891.4 C154.17,888.37 157.47,885.65 160,883.8 C162.53,881.95 162.67,881.82 165.2,880.3 C167.73,878.78 171.85,876.05 175.2,874.7 C178.55,873.35 182.78,873.45 185.3,872.2 C187.82,870.95 188.63,868.53 190.3,867.2 C191.97,865.87 193.13,864.7 195.3,864.2 C197.47,863.7 200.78,863.78 203.3,864.2 C205.82,864.62 208.05,866.03 210.4,866.7 C212.75,867.37 215.23,868.2 217.4,868.2 C219.57,868.2 221.9,867.53 223.4,866.7 C224.9,865.87 226.2,864.33 226.4,863.2 C226.6,862.07 224.6,860.82 224.6,859.9 C224.6,858.98 224.92,858.15 226.4,857.7 C227.88,857.25 230.4,857.6 233.5,857.2 C236.6,856.8 241.25,855.53 245,855.3 C248.75,855.07 251.83,856.28 256,855.8 C260.17,855.32 265.33,853.3 270,852.4 C274.67,851.5 279,851.13 284,850.4 C289,849.67 294,848.73 300,848 C306,847.27 313.67,846 320,846 C326.33,846 332.33,847 338,848 C343.67,849 349.33,850 354,852 C358.67,854 362.33,856.67 366,860 C369.67,863.33 373,868 376,872 C379,876 381.67,879.67 384,884 C386.33,888.33 388,893 390,898 C392,903 394.33,909.17 396,914 C397.67,918.83 398.33,923.08 400,927 C401.67,930.92 404.33,933.5 406,937.5 C407.67,941.5 408.83,945.75 410,951 C411.17,956.25 412.33,963 413,969 C413.67,975 413.77,981 414,987 C414.23,993 414.23,1000.33 414.4,1005 C414.57,1009.67 414.9,1011.67 415,1015 C415.1,1018.33 415,1023.33 415,1025 L520,1050 L30,1050 L30,980 Z" fill="#4e6397"/>
<path d="M60,961.5 C61.27,960.52 64.27,958.25 67.6,955.6 C70.93,952.95 76.27,948.6 80,945.6 C83.73,942.6 86.67,940.2 90,937.6 C93.33,935 96.63,932.53 100,930 C103.37,927.47 106.82,924.83 110.2,922.4 C113.58,919.97 117.83,916.97 120.3,915.4 C122.77,913.83 122.55,914.5 125,913 C127.45,911.5 131.67,908.68 135,906.4 C138.33,904.12 141.65,901.15 145,899.3 C148.35,897.45 152.07,896.47 155.1,895.3 C158.13,894.13 161.02,893.47 163.2,892.3 C165.38,891.13 166.2,889.38 168.2,888.3 C170.2,887.22 172.7,886.22 175.2,885.8 C177.7,885.38 181.02,885.38 183.2,885.8 C185.38,886.22 186.28,887.55 188.3,888.3 C190.32,889.05 192.47,889.97 195.3,890.3 C198.13,890.63 201.95,890.38 205.3,890.3 C208.65,890.22 212.38,890.3 215.4,889.8 C218.42,889.3 220.73,888.22 223.4,887.3 C226.07,886.38 228.72,885.13 231.4,884.3 C234.08,883.47 236.73,882.75 239.5,882.3 C242.27,881.85 244.58,882.15 248,881.6 C251.42,881.05 255.67,880.1 260,879 C264.33,877.9 269,875.67 274,875 C279,874.33 285,874.33 290,875 C295,875.67 299.67,877.17 304,879 C308.33,880.83 312.33,883.17 316,886 C319.67,888.83 322.67,892.33 326,896 C329.33,899.67 333,904 336,908 C339,912 341.67,915.67 344,920 C346.33,924.33 348.17,929.33 350,934 C351.83,938.67 353.5,943.5 355,948 C356.5,952.5 357.67,956.17 359,961 C360.33,965.83 362,971.67 363,977 C364,982.33 364.5,986.67 365,993 C365.5,999.33 365.83,1009.67 366,1015 C366.17,1020.33 366,1023.33 366,1025 L520,1050 L30,1050 L30,980 Z" fill="#457799"/>
<path d="M60,963.6 C61.27,962.67 64.27,960.57 67.6,958 C70.93,955.43 76.27,951.18 80,948.2 C83.73,945.22 86.67,942.62 90,940.1 C93.33,937.58 96.63,935.27 100,933.1 C103.37,930.93 106.82,928.85 110.2,927.1 C113.58,925.35 116.95,923.92 120.3,922.6 C123.65,921.28 127.18,919.82 130.3,919.2 C133.42,918.58 136.87,918.37 139,918.9 C141.13,919.43 142.08,921.15 143.1,922.4 C144.12,923.65 143.93,925.3 145.1,926.4 C146.27,927.5 148.27,928.73 150.1,929 C151.93,929.27 154.43,928.77 156.1,928 C157.77,927.23 158.92,925.83 160.1,924.4 C161.28,922.97 162.65,921.07 163.2,919.4 C163.75,917.73 163.4,915.7 163.4,914.4 C163.4,913.1 162.4,912.18 163.2,911.6 C164,911.02 165.7,910.93 168.2,910.9 C170.7,910.87 175.02,911.23 178.2,911.4 C181.38,911.57 184.12,911.9 187.3,911.9 C190.48,911.9 193.97,911.98 197.3,911.4 C200.63,910.82 203.95,909.57 207.3,908.4 C210.65,907.23 214.05,905.58 217.4,904.4 C220.75,903.22 224.05,902.07 227.4,901.3 C230.75,900.53 233.73,899.92 237.5,899.8 C241.27,899.68 244.58,900.57 250,900.6 C255.42,900.63 264.67,899.93 270,900 C275.33,900.07 278.67,900.17 282,901 C285.33,901.83 287.67,903.17 290,905 C292.33,906.83 294.33,909.83 296,912 C297.67,914.17 298.33,915.75 300,918 C301.67,920.25 304,922.67 306,925.5 C308,928.33 310,931.08 312,935 C314,938.92 316.17,944.67 318,949 C319.83,953.33 321.93,957 323,961 C324.07,965 323.73,968.67 324.4,973 C325.07,977.33 325.9,982.33 327,987 C328.1,991.67 330,996.33 331,1001 C332,1005.67 332.67,1011 333,1015 C333.33,1019 333,1023.33 333,1025 L520,1050 L30,1050 L30,980 Z" fill="#3e899a"/>
<path d="M60,966.4 C61.33,965.53 65.5,962.9 68,961.2 C70.5,959.5 73,957.87 75,956.2 C77,954.53 78.33,952.7 80,951.2 C81.67,949.7 83,948.37 85,947.2 C87,946.03 89.5,945.2 92,944.2 C94.5,943.2 97.63,942.05 100,941.2 C102.37,940.35 104.17,940.12 106.2,939.1 C108.23,938.08 109.85,936.1 112.2,935.1 C114.55,934.1 117.28,933.52 120.3,933.1 C123.32,932.68 126.97,932.52 130.3,932.6 C133.63,932.68 137.28,933.18 140.3,933.6 C143.32,934.02 145.88,934.77 148.4,935.1 C150.92,935.43 152.57,935.77 155.4,935.6 C158.23,935.43 161.77,934.7 165.4,934.1 C169.03,933.5 173.88,932.85 177.2,932 C180.52,931.15 182.28,929.93 185.3,929 C188.32,928.07 191.97,927 195.3,926.4 C198.63,925.8 201.95,925.82 205.3,925.4 C208.65,924.98 212.05,924.4 215.4,923.9 C218.75,923.4 222.05,922.82 225.4,922.4 C228.75,921.98 232.73,921.47 235.5,921.4 C238.27,921.33 239.25,921.23 242,922 C244.75,922.77 248.67,924 252,926 C255.33,928 259,931 262,934 C265,937 267.67,940.33 270,944 C272.33,947.67 274,952.5 276,956 C278,959.5 280.33,961.5 282,965 C283.67,968.5 284.67,972.33 286,977 C287.33,981.67 288.67,988 290,993 C291.33,998 292.83,1003.33 294,1007 C295.17,1010.67 296.5,1012 297,1015 C297.5,1018 297,1023.33 297,1025 L520,1050 L30,1050 L30,980 Z" fill="#379c98"/>
<path d="M60,969.5 C61.33,968.62 65.83,965.42 68,964.2 C70.17,962.98 71,963.37 73,962.2 C75,961.03 78,958.7 80,957.2 C82,955.7 82.83,954.2 85,953.2 C87.17,952.2 90.17,951.87 93,951.2 C95.83,950.53 99.13,949.87 102,949.2 C104.87,948.53 107.83,948.03 110.2,947.2 C112.57,946.37 114.18,945.12 116.2,944.2 C118.22,943.28 119.95,942.38 122.3,941.7 C124.65,941.02 127.3,940.45 130.3,940.1 C133.3,939.75 136.95,939.6 140.3,939.6 C143.65,939.6 147.05,940.1 150.4,940.1 C153.75,940.1 157.05,939.85 160.4,939.6 C163.75,939.35 167.23,938.93 170.5,938.6 C173.77,938.27 176.75,937.97 180,937.6 C183.25,937.23 186.33,936.77 190,936.4 C193.67,936.03 197.67,935.5 202,935.4 C206.33,935.3 212.17,935.37 216,935.8 C219.83,936.23 222.33,936.9 225,938 C227.67,939.1 229.17,940.73 232,942.4 C234.83,944.07 238.67,945.9 242,948 C245.33,950.1 249.33,952.17 252,955 C254.67,957.83 256.33,961.67 258,965 C259.67,968.33 260.83,971.67 262,975 C263.17,978.33 264.17,981.33 265,985 C265.83,988.67 266.33,992 267,997 C267.67,1002 268.67,1010.33 269,1015 C269.33,1019.67 269,1023.33 269,1025 L520,1050 L30,1050 L30,980 Z" fill="#36ad92"/>
<path d="M60,973 C61.33,972.55 65.5,971.25 68,970.3 C70.5,969.35 72.17,968.32 75,967.3 C77.83,966.28 81.67,965.05 85,964.2 C88.33,963.35 91.67,962.78 95,962.2 C98.33,961.62 101.8,961.12 105,960.7 C108.2,960.28 111.65,960.28 114.2,959.7 C116.75,959.12 118.28,958.03 120.3,957.2 C122.32,956.37 124.35,955.43 126.3,954.7 C128.25,953.97 129.33,953.47 132,952.8 C134.67,952.13 139.23,951.22 142.3,950.7 C145.37,950.18 147.38,949.95 150.4,949.7 C153.42,949.45 157.05,949.28 160.4,949.2 C163.75,949.12 167.23,949.25 170.5,949.2 C173.77,949.15 176.75,948.77 180,948.9 C183.25,949.03 186.67,949.38 190,950 C193.33,950.62 197.33,951.77 200,952.6 C202.67,953.43 204,953.93 206,955 C208,956.07 210,957.5 212,959 C214,960.5 216.17,962.23 218,964 C219.83,965.77 221.33,967.6 223,969.6 C224.67,971.6 226.5,974.02 228,976 C229.5,977.98 230.67,979.5 232,981.5 C233.33,983.5 234.75,985.92 236,988 C237.25,990.08 238.5,992 239.5,994 C240.5,996 241.17,997.67 242,1000 C242.83,1002.33 243.83,1005.5 244.5,1008 C245.17,1010.5 245.75,1012.17 246,1015 C246.25,1017.83 246,1023.33 246,1025 L520,1050 L30,1050 L30,980 Z" fill="#49be86"/>
<path d="M60,989 C61.33,988.38 65.83,986.92 68,985.3 C70.17,983.68 71,980.97 73,979.3 C75,977.63 77.5,976.47 80,975.3 C82.5,974.13 85.67,973.02 88,972.3 C90.33,971.58 91.67,971.33 94,971 C96.33,970.67 98.97,970.58 102,970.3 C105.03,970.02 108.82,969.8 112.2,969.3 C115.58,968.8 119.28,967.97 122.3,967.3 C125.32,966.63 127.97,966.15 130.3,965.3 C132.63,964.45 133.78,963.13 136.3,962.2 C138.82,961.27 142.22,960.28 145.4,959.7 C148.58,959.12 152.07,958.78 155.4,958.7 C158.73,958.62 162.13,958.88 165.4,959.2 C168.67,959.52 171.57,959.8 175,960.6 C178.43,961.4 182.83,962.7 186,964 C189.17,965.3 191.67,966.9 194,968.4 C196.33,969.9 198,971.4 200,973 C202,974.6 204,976.25 206,978 C208,979.75 210.33,981.83 212,983.5 C213.67,985.17 214.67,986.42 216,988 C217.33,989.58 218.83,991.17 220,993 C221.17,994.83 222,997 223,999 C224,1001 225.08,1003.17 226,1005 C226.92,1006.83 227.83,1008.33 228.5,1010 C229.17,1011.67 229.75,1012.5 230,1015 C230.25,1017.5 230,1023.33 230,1025 L520,1050 L30,1050 L30,980 Z" fill="#6ecf71"/>
<path d="M60,998 C61.33,997.4 65.5,995.67 68,994.4 C70.5,993.13 72.17,991.92 75,990.4 C77.83,988.88 81.67,986.82 85,985.3 C88.33,983.78 91.67,982.47 95,981.3 C98.33,980.13 101.63,979.22 105,978.3 C108.37,977.38 111.82,976.47 115.2,975.8 C118.58,975.13 121.95,974.75 125.3,974.3 C128.65,973.85 131.95,973.4 135.3,973.1 C138.65,972.8 142.05,972.55 145.4,972.5 C148.75,972.45 152.07,972.5 155.4,972.8 C158.73,973.1 161.97,973.7 165.4,974.3 C168.83,974.9 172.57,975.45 176,976.4 C179.43,977.35 183.17,978.73 186,980 C188.83,981.27 190.67,982.43 193,984 C195.33,985.57 198.17,987.63 200,989.4 C201.83,991.17 202.83,992.83 204,994.6 C205.17,996.37 206,998.35 207,1000 C208,1001.65 209.08,1003 210,1004.5 C210.92,1006 211.67,1007.25 212.5,1009 C213.33,1010.75 214.58,1012.33 215,1015 C215.42,1017.67 215,1023.33 215,1025 L520,1050 L30,1050 L30,980 Z" fill="#9bdb56"/>
<path d="M60,1011.5 C61.33,1010.98 64.67,1009.65 68,1008.4 C71.33,1007.15 76.33,1005.33 80,1004 C83.67,1002.67 86.67,1001.6 90,1000.4 C93.33,999.2 96.55,997.72 100,996.8 C103.45,995.88 107.32,995.55 110.7,994.9 C114.08,994.25 117.03,993.45 120.3,992.9 C123.57,992.35 126.97,991.88 130.3,991.6 C133.63,991.32 136.95,991.07 140.3,991.2 C143.65,991.33 147.05,991.7 150.4,992.4 C153.75,993.1 157.38,994.23 160.4,995.4 C163.42,996.57 166.57,998.07 168.5,999.4 C170.43,1000.73 171.33,1001.73 172,1003.4 C172.67,1005.07 172.5,1007.43 172.5,1009.4 C172.5,1011.37 172.08,1012.6 172,1015.2 C171.92,1017.8 172,1023.37 172,1025 L520,1050 L30,1050 L30,980 Z" fill="#cde336"/>
<path d="M60,958 C61.33,957 61.33,957.08 68,952 C74.67,946.92 89.67,935.42 100,927.5 C110.33,919.58 121.67,910.92 130,904.5 C138.33,898.08 145,892.98 150,889 C155,885.02 156.33,883.52 160,880.6 C163.67,877.68 168.67,873.85 172,871.5 C175.33,869.15 176.95,868.72 180,866.5 C183.05,864.28 187.08,860.6 190.3,858.2 C193.52,855.8 195.95,854.28 199.3,852.1 C202.65,849.92 207.72,846.93 210.4,845.1 C213.08,843.27 212.9,842.77 215.4,841.1 C217.9,839.43 222.05,837.12 225.4,835.1 C228.75,833.08 232.23,830.85 235.5,829 C238.77,827.15 241.58,825.93 245,824 C248.42,822.07 252.17,818.8 256,817.4 C259.83,816 264,816.07 268,815.6 C272,815.13 276.33,815.2 280,814.6 C283.67,814 287.33,812.83 290,812 C292.67,811.17 293.33,810.73 296,809.6 C298.67,808.47 302.67,806.1 306,805.2 C309.33,804.3 312,804.37 316,804.2 C320,804.03 324.67,804.3 330,804.2 C335.33,804.1 341.33,804.07 348,803.6 C354.67,803.13 363,802.03 370,801.4 C377,800.77 384,799.97 390,799.8 C396,799.63 400.67,799.53 406,800.4 C411.33,801.27 417.33,802.73 422,805 C426.67,807.27 430.5,810.67 434,814 C437.5,817.33 440,821.33 443,825 C446,828.67 449.33,832.17 452,836 C454.67,839.83 457.33,843.83 459,848 C460.67,852.17 460.83,856.67 462,861 C463.17,865.33 464.5,869.17 466,874 C467.5,878.83 469.67,885 471,890 C472.33,895 472.83,899.5 474,904 C475.17,908.5 476.83,912.17 478,917 C479.17,921.83 480.17,926.33 481,933 C481.83,939.67 482.5,949.67 483,957 C483.5,964.33 483.67,970.33 484,977 C484.33,983.67 484.5,992 485,997 C485.5,1002 486.43,1004 487,1007 C487.57,1010 488.07,1012 488.4,1015 C488.73,1018 488.9,1023.33 489,1025" fill="none" stroke="#857b7b" stroke-opacity="0.7" stroke-width="0.55"/>
<path d="M60,958.6 C61.27,957.67 62.6,956.8 67.6,953 C72.6,949.2 81.93,942.03 90,935.8 C98.07,929.57 110.17,920.17 116,915.6 C121.83,911.03 121.83,910.95 125,908.4 C128.17,905.85 131.67,902.82 135,900.3 C138.33,897.78 141.98,895.3 145,893.3 C148.02,891.3 150.58,890.3 153.1,888.3 C155.62,886.3 157.75,883.32 160.1,881.3 C162.45,879.28 164.68,877.72 167.2,876.2 C169.72,874.68 172.87,873.2 175.2,872.2 C177.53,871.2 179.7,871.37 181.2,870.2 C182.7,869.03 182.85,866.87 184.2,865.2 C185.55,863.53 187.45,861.28 189.3,860.2 C191.15,859.12 193.13,859.28 195.3,858.7 C197.47,858.12 200.3,857.8 202.3,856.7 C204.3,855.6 205.78,853.62 207.3,852.1 C208.82,850.58 209.72,848.85 211.4,847.6 C213.08,846.35 215.07,845.43 217.4,844.6 C219.73,843.77 222.72,843.27 225.4,842.6 C228.08,841.93 230.73,841.13 233.5,840.6 C236.27,840.07 238.25,839.67 242,839.4 C245.75,839.13 252,839.57 256,839 C260,838.43 262,837.33 266,836 C270,834.67 275,832.1 280,831 C285,829.9 291,829.73 296,829.4 C301,829.07 305,829.23 310,829 C315,828.77 320.67,828.67 326,828 C331.33,827.33 337.67,825.73 342,825 C346.33,824.27 347.33,823.8 352,823.6 C356.67,823.4 365,823.4 370,823.8 C375,824.2 378,824.63 382,826 C386,827.37 390.67,829.5 394,832 C397.33,834.5 399.33,837.67 402,841 C404.67,844.33 407.33,848.17 410,852 C412.67,855.83 415.5,859.67 418,864 C420.5,868.33 423,873.33 425,878 C427,882.67 428.5,887.33 430,892 C431.5,896.67 432.83,901.67 434,906 C435.17,910.33 436.17,913.5 437,918 C437.83,922.5 438.33,927.83 439,933 C439.67,938.17 440.17,943.67 441,949 C441.83,954.33 443.17,959.67 444,965 C444.83,970.33 445.73,975.67 446,981 C446.27,986.33 445.43,992.67 445.6,997 C445.77,1001.33 446.43,1004 447,1007 C447.57,1010 448.5,1012 449,1015 C449.5,1018 449.83,1023.33 450,1025" fill="none" stroke="#857b7b" stroke-opacity="0.7" stroke-width="0.55"/>
<path d="M60,959.4 C61.27,958.47 62.6,957.6 67.6,953.8 C72.6,950 81.93,942.8 90,936.6 C98.07,930.4 108.5,922.37 116,916.6 C123.5,910.83 129.33,906.2 135,902 C140.67,897.8 145.83,894.43 150,891.4 C154.17,888.37 157.47,885.65 160,883.8 C162.53,881.95 162.67,881.82 165.2,880.3 C167.73,878.78 171.85,876.05 175.2,874.7 C178.55,873.35 182.78,873.45 185.3,872.2 C187.82,870.95 188.63,868.53 190.3,867.2 C191.97,865.87 193.13,864.7 195.3,864.2 C197.47,863.7 200.78,863.78 203.3,864.2 C205.82,864.62 208.05,866.03 210.4,866.7 C212.75,867.37 215.23,868.2 217.4,868.2 C219.57,868.2 221.9,867.53 223.4,866.7 C224.9,865.87 226.2,864.33 226.4,863.2 C226.6,862.07 224.6,860.82 224.6,859.9 C224.6,858.98 224.92,858.15 226.4,857.7 C227.88,857.25 230.4,857.6 233.5,857.2 C236.6,856.8 241.25,855.53 245,855.3 C248.75,855.07 251.83,856.28 256,855.8 C260.17,855.32 265.33,853.3 270,852.4 C274.67,851.5 279,851.13 284,850.4 C289,849.67 294,848.73 300,848 C306,847.27 313.67,846 320,846 C326.33,846 332.33,847 338,848 C343.67,849 349.33,850 354,852 C358.67,854 362.33,856.67 366,860 C369.67,863.33 373,868 376,872 C379,876 381.67,879.67 384,884 C386.33,888.33 388,893 390,898 C392,903 394.33,909.17 396,914 C397.67,918.83 398.33,923.08 400,927 C401.67,930.92 404.33,933.5 406,937.5 C407.67,941.5 408.83,945.75 410,951 C411.17,956.25 412.33,963 413,969 C413.67,975 413.77,981 414,987 C414.23,993 414.23,1000.33 414.4,1005 C414.57,1009.67 414.9,1011.67 415,1015 C415.1,1018.33 415,1023.33 415,1025" fill="none" stroke="#857b7b" stroke-opacity="0.7" stroke-width="0.55"/>
<path d="M60,961.5 C61.27,960.52 64.27,958.25 67.6,955.6 C70.93,952.95 76.27,948.6 80,945.6 C83.73,942.6 86.67,940.2 90,937.6 C93.33,935 96.63,932.53 100,930 C103.37,927.47 106.82,924.83 110.2,922.4 C113.58,919.97 117.83,916.97 120.3,915.4 C122.77,913.83 122.55,914.5 125,913 C127.45,911.5 131.67,908.68 135,906.4 C138.33,904.12 141.65,901.15 145,899.3 C148.35,897.45 152.07,896.47 155.1,895.3 C158.13,894.13 161.02,893.47 163.2,892.3 C165.38,891.13 166.2,889.38 168.2,888.3 C170.2,887.22 172.7,886.22 175.2,885.8 C177.7,885.38 181.02,885.38 183.2,885.8 C185.38,886.22 186.28,887.55 188.3,888.3 C190.32,889.05 192.47,889.97 195.3,890.3 C198.13,890.63 201.95,890.38 205.3,890.3 C208.65,890.22 212.38,890.3 215.4,889.8 C218.42,889.3 220.73,888.22 223.4,887.3 C226.07,886.38 228.72,885.13 231.4,884.3 C234.08,883.47 236.73,882.75 239.5,882.3 C242.27,881.85 244.58,882.15 248,881.6 C251.42,881.05 255.67,880.1 260,879 C264.33,877.9 269,875.67 274,875 C279,874.33 285,874.33 290,875 C295,875.67 299.67,877.17 304,879 C308.33,880.83 312.33,883.17 316,886 C319.67,888.83 322.67,892.33 326,896 C329.33,899.67 333,904 336,908 C339,912 341.67,915.67 344,920 C346.33,924.33 348.17,929.33 350,934 C351.83,938.67 353.5,943.5 355,948 C356.5,952.5 357.67,956.17 359,961 C360.33,965.83 362,971.67 363,977 C364,982.33 364.5,986.67 365,993 C365.5,999.33 365.83,1009.67 366,1015 C366.17,1020.33 366,1023.33 366,1025" fill="none" stroke="#857b7b" stroke-opacity="0.7" stroke-width="0.55"/>
<path d="M60,963.6 C61.27,962.67 64.27,960.57 67.6,958 C70.93,955.43 76.27,951.18 80,948.2 C83.73,945.22 86.67,942.62 90,940.1 C93.33,937.58 96.63,935.27 100,933.1 C103.37,930.93 106.82,928.85 110.2,927.1 C113.58,925.35 116.95,923.92 120.3,922.6 C123.65,921.28 127.18,919.82 130.3,919.2 C133.42,918.58 136.87,918.37 139,918.9 C141.13,919.43 142.08,921.15 143.1,922.4 C144.12,923.65 143.93,925.3 145.1,926.4 C146.27,927.5 148.27,928.73 150.1,929 C151.93,929.27 154.43,928.77 156.1,928 C157.77,927.23 158.92,925.83 160.1,924.4 C161.28,922.97 162.65,921.07 163.2,919.4 C163.75,917.73 163.4,915.7 163.4,914.4 C163.4,913.1 162.4,912.18 163.2,911.6 C164,911.02 165.7,910.93 168.2,910.9 C170.7,910.87 175.02,911.23 178.2,911.4 C181.38,911.57 184.12,911.9 187.3,911.9 C190.48,911.9 193.97,911.98 197.3,911.4 C200.63,910.82 203.95,909.57 207.3,908.4 C210.65,907.23 214.05,905.58 217.4,904.4 C220.75,903.22 224.05,902.07 227.4,901.3 C230.75,900.53 233.73,899.92 237.5,899.8 C241.27,899.68 244.58,900.57 250,900.6 C255.42,900.63 264.67,899.93 270,900 C275.33,900.07 278.67,900.17 282,901 C285.33,901.83 287.67,903.17 290,905 C292.33,906.83 294.33,909.83 296,912 C297.67,914.17 298.33,915.75 300,918 C301.67,920.25 304,922.67 306,925.5 C308,928.33 310,931.08 312,935 C314,938.92 316.17,944.67 318,949 C319.83,953.33 321.93,957 323,961 C324.07,965 323.73,968.67 324.4,973 C325.07,977.33 325.9,982.33 327,987 C328.1,991.67 330,996.33 331,1001 C332,1005.67 332.67,1011 333,1015 C333.33,1019 333,1023.33 333,1025" fill="none" stroke="#857b7b" stroke-opacity="0.7" stroke-width="0.55"/>
<path d="M60,966.4 C61.33,965.53 65.5,962.9 68,961.2 C70.5,959.5 73,957.87 75,956.2 C77,954.53 78.33,952.7 80,951.2 C81.67,949.7 83,948.37 85,947.2 C87,946.03 89.5,945.2 92,944.2 C94.5,943.2 97.63,942.05 100,941.2 C102.37,940.35 104.17,940.12 106.2,939.1 C108.23,938.08 109.85,936.1 112.2,935.1 C114.55,934.1 117.28,933.52 120.3,933.1 C123.32,932.68 126.97,932.52 130.3,932.6 C133.63,932.68 137.28,933.18 140.3,933.6 C143.32,934.02 145.88,934.77 148.4,935.1 C150.92,935.43 152.57,935.77 155.4,935.6 C158.23,935.43 161.77,934.7 165.4,934.1 C169.03,933.5 173.88,932.85 177.2,932 C180.52,931.15 182.28,929.93 185.3,929 C188.32,928.07 191.97,927 195.3,926.4 C198.63,925.8 201.95,925.82 205.3,925.4 C208.65,924.98 212.05,924.4 215.4,923.9 C218.75,923.4 222.05,922.82 225.4,922.4 C228.75,921.98 232.73,921.47 235.5,921.4 C238.27,921.33 239.25,921.23 242,922 C244.75,922.77 248.67,924 252,926 C255.33,928 259,931 262,934 C265,937 267.67,940.33 270,944 C272.33,947.67 274,952.5 276,956 C278,959.5 280.33,961.5 282,965 C283.67,968.5 284.67,972.33 286,977 C287.33,981.67 288.67,988 290,993 C291.33,998 292.83,1003.33 294,1007 C295.17,1010.67 296.5,1012 297,1015 C297.5,1018 297,1023.33 297,1025" fill="none" stroke="#857b7b" stroke-opacity="0.7" stroke-width="0.55"/>
<path d="M60,969.5 C61.33,968.62 65.83,965.42 68,964.2 C70.17,962.98 71,963.37 73,962.2 C75,961.03 78,958.7 80,957.2 C82,955.7 82.83,954.2 85,953.2 C87.17,952.2 90.17,951.87 93,951.2 C95.83,950.53 99.13,949.87 102,949.2 C104.87,948.53 107.83,948.03 110.2,947.2 C112.57,946.37 114.18,945.12 116.2,944.2 C118.22,943.28 119.95,942.38 122.3,941.7 C124.65,941.02 127.3,940.45 130.3,940.1 C133.3,939.75 136.95,939.6 140.3,939.6 C143.65,939.6 147.05,940.1 150.4,940.1 C153.75,940.1 157.05,939.85 160.4,939.6 C163.75,939.35 167.23,938.93 170.5,938.6 C173.77,938.27 176.75,937.97 180,937.6 C183.25,937.23 186.33,936.77 190,936.4 C193.67,936.03 197.67,935.5 202,935.4 C206.33,935.3 212.17,935.37 216,935.8 C219.83,936.23 222.33,936.9 225,938 C227.67,939.1 229.17,940.73 232,942.4 C234.83,944.07 238.67,945.9 242,948 C245.33,950.1 249.33,952.17 252,955 C254.67,957.83 256.33,961.67 258,965 C259.67,968.33 260.83,971.67 262,975 C263.17,978.33 264.17,981.33 265,985 C265.83,988.67 266.33,992 267,997 C267.67,1002 268.67,1010.33 269,1015 C269.33,1019.67 269,1023.33 269,1025" fill="none" stroke="#857b7b" stroke-opacity="0.7" stroke-width="0.55"/>
<path d="M60,973 C61.33,972.55 65.5,971.25 68,970.3 C70.5,969.35 72.17,968.32 75,967.3 C77.83,966.28 81.67,965.05 85,964.2 C88.33,963.35 91.67,962.78 95,962.2 C98.33,961.62 101.8,961.12 105,960.7 C108.2,960.28 111.65,960.28 114.2,959.7 C116.75,959.12 118.28,958.03 120.3,957.2 C122.32,956.37 124.35,955.43 126.3,954.7 C128.25,953.97 129.33,953.47 132,952.8 C134.67,952.13 139.23,951.22 142.3,950.7 C145.37,950.18 147.38,949.95 150.4,949.7 C153.42,949.45 157.05,949.28 160.4,949.2 C163.75,949.12 167.23,949.25 170.5,949.2 C173.77,949.15 176.75,948.77 180,948.9 C183.25,949.03 186.67,949.38 190,950 C193.33,950.62 197.33,951.77 200,952.6 C202.67,953.43 204,953.93 206,955 C208,956.07 210,957.5 212,959 C214,960.5 216.17,962.23 218,964 C219.83,965.77 221.33,967.6 223,969.6 C224.67,971.6 226.5,974.02 228,976 C229.5,977.98 230.67,979.5 232,981.5 C233.33,983.5 234.75,985.92 236,988 C237.25,990.08 238.5,992 239.5,994 C240.5,996 241.17,997.67 242,1000 C242.83,1002.33 243.83,1005.5 244.5,1008 C245.17,1010.5 245.75,1012.17 246,1015 C246.25,1017.83 246,1023.33 246,1025" fill="none" stroke="#857b7b" stroke-opacity="0.7" stroke-width="0.55"/>
<path d="M60,989 C61.33,988.38 65.83,986.92 68,985.3 C70.17,983.68 71,980.97 73,979.3 C75,977.63 77.5,976.47 80,975.3 C82.5,974.13 85.67,973.02 88,972.3 C90.33,971.58 91.67,971.33 94,971 C96.33,970.67 98.97,970.58 102,970.3 C105.03,970.02 108.82,969.8 112.2,969.3 C115.58,968.8 119.28,967.97 122.3,967.3 C125.32,966.63 127.97,966.15 130.3,965.3 C132.63,964.45 133.78,963.13 136.3,962.2 C138.82,961.27 142.22,960.28 145.4,959.7 C148.58,959.12 152.07,958.78 155.4,958.7 C158.73,958.62 162.13,958.88 165.4,959.2 C168.67,959.52 171.57,959.8 175,960.6 C178.43,961.4 182.83,962.7 186,964 C189.17,965.3 191.67,966.9 194,968.4 C196.33,969.9 198,971.4 200,973 C202,974.6 204,976.25 206,978 C208,979.75 210.33,981.83 212,983.5 C213.67,985.17 214.67,986.42 216,988 C217.33,989.58 218.83,991.17 220,993 C221.17,994.83 222,997 223,999 C224,1001 225.08,1003.17 226,1005 C226.92,1006.83 227.83,1008.33 228.5,1010 C229.17,1011.67 229.75,1012.5 230,1015 C230.25,1017.5 230,1023.33 230,1025" fill="none" stroke="#857b7b" stroke-opacity="0.7" stroke-width="0.55"/>
<path d="M60,998 C61.33,997.4 65.5,995.67 68,994.4 C70.5,993.13 72.17,991.92 75,990.4 C77.83,988.88 81.67,986.82 85,985.3 C88.33,983.78 91.67,982.47 95,981.3 C98.33,980.13 101.63,979.22 105,978.3 C108.37,977.38 111.82,976.47 115.2,975.8 C118.58,975.13 121.95,974.75 125.3,974.3 C128.65,973.85 131.95,973.4 135.3,973.1 C138.65,972.8 142.05,972.55 145.4,972.5 C148.75,972.45 152.07,972.5 155.4,972.8 C158.73,973.1 161.97,973.7 165.4,974.3 C168.83,974.9 172.57,975.45 176,976.4 C179.43,977.35 183.17,978.73 186,980 C188.83,981.27 190.67,982.43 193,984 C195.33,985.57 198.17,987.63 200,989.4 C201.83,991.17 202.83,992.83 204,994.6 C205.17,996.37 206,998.35 207,1000 C208,1001.65 209.08,1003 210,1004.5 C210.92,1006 211.67,1007.25 212.5,1009 C213.33,1010.75 214.58,1012.33 215,1015 C215.42,1017.67 215,1023.33 215,1025" fill="none" stroke="#857b7b" stroke-opacity="0.7" stroke-width="0.55"/>
<path d="M60,1011.5 C61.33,1010.98 64.67,1009.65 68,1008.4 C71.33,1007.15 76.33,1005.33 80,1004 C83.67,1002.67 86.67,1001.6 90,1000.4 C93.33,999.2 96.55,997.72 100,996.8 C103.45,995.88 107.32,995.55 110.7,994.9 C114.08,994.25 117.03,993.45 120.3,992.9 C123.57,992.35 126.97,991.88 130.3,991.6 C133.63,991.32 136.95,991.07 140.3,991.2 C143.65,991.33 147.05,991.7 150.4,992.4 C153.75,993.1 157.38,994.23 160.4,995.4 C163.42,996.57 166.57,998.07 168.5,999.4 C170.43,1000.73 171.33,1001.73 172,1003.4 C172.67,1005.07 172.5,1007.43 172.5,1009.4 C172.5,1011.37 172.08,1012.6 172,1015.2 C171.92,1017.8 172,1023.37 172,1025" fill="none" stroke="#857b7b" stroke-opacity="0.7" stroke-width="0.55"/>
</g>
<path d="M90,935.8 C94.33,932.43 110.17,920.17 116,915.6 C121.83,911.03 121.83,910.95 125,908.4 C128.17,905.85 131.67,902.82 135,900.3 C138.33,897.78 141.98,895.3 145,893.3 C148.02,891.3 150.58,890.3 153.1,888.3 C155.62,886.3 157.75,883.32 160.1,881.3 C162.45,879.28 164.68,877.72 167.2,876.2 C169.72,874.68 172.87,873.27 175.2,872.2 C177.53,871.13 179.57,871.1 181.2,869.8 C182.83,868.5 183.53,866.1 185,864.4 C186.47,862.7 188.17,860.73 190,859.6 C191.83,858.47 194,858.37 196,857.6 C198,856.83 200,856.2 202,855 C204,853.8 206.33,851.8 208,850.4 C209.67,849 210.33,847.7 212,846.6 C213.67,845.5 215.67,844.53 218,843.8 C220.33,843.07 223,842.53 226,842.2 C229,841.87 232.67,842.07 236,841.8 C239.33,841.53 242,841 246,840.6 C250,840.2 255.33,840 260,839.4 C264.67,838.8 269,837.8 274,837 C279,836.2 285.67,835.1 290,834.6 C294.33,834.1 296.67,834.5 300,834 C303.33,833.5 305,832.33 310,831.6 C315,830.87 323.33,830.2 330,829.6 C336.67,829 344,828.17 350,828 C356,827.83 361.33,827.93 366,828.6 C370.67,829.27 374,830.1 378,832 C382,833.9 386.33,836.67 390,840 C393.67,843.33 397.33,848.33 400,852 C402.67,855.67 404,859.17 406,862 C408,864.83 410.17,865.33 412,869 C413.83,872.67 415.5,878.83 417,884 C418.5,889.17 419.83,894.67 421,900 C422.17,905.33 423.17,910.67 424,916 C424.83,921.33 425.33,926.67 426,932 C426.67,937.33 427.43,942.83 428,948 C428.57,953.17 428.97,957.67 429.4,963 C429.83,968.33 430.27,974.33 430.6,980 C430.93,985.67 431.17,992.5 431.4,997 C431.63,1001.5 431.83,1004 432,1007 C432.17,1010 432.33,1012 432.4,1015 C432.47,1018 432.4,1023.33 432.4,1025" fill="none" stroke="#ff0000" stroke-width="1.1" stroke-dasharray="4.1,1.75"/>
<path d="M90,935.8 C94.33,932.43 110.17,920.17 116,915.6 C121.83,911.03 121.83,910.95 125,908.4 C128.17,905.85 131.67,902.82 135,900.3 C138.33,897.78 141.98,895.3 145,893.3 C148.02,891.3 150.58,890.3 153.1,888.3 C155.62,886.3 157.75,883.32 160.1,881.3 C162.45,879.28 164.68,877.72 167.2,876.2 C169.72,874.68 172.87,873.2 175.2,872.2 C177.53,871.2 179.7,871.37 181.2,870.2 C182.7,869.03 182.85,866.87 184.2,865.2 C185.55,863.53 187.45,861.28 189.3,860.2 C191.15,859.12 193.13,859.28 195.3,858.7 C197.47,858.12 200.3,857.8 202.3,856.7 C204.3,855.6 205.78,853.62 207.3,852.1 C208.82,850.58 209.72,848.85 211.4,847.6 C213.08,846.35 215.07,845.43 217.4,844.6 C219.73,843.77 222.72,843.27 225.4,842.6 C228.08,841.93 230.73,841.13 233.5,840.6 C236.27,840.07 238.25,839.67 242,839.4 C245.75,839.13 252,839.57 256,839 C260,838.43 262,837.33 266,836 C270,834.67 275,832.1 280,831 C285,829.9 291,829.73 296,829.4 C301,829.07 305,829.23 310,829 C315,828.77 320.67,828.67 326,828 C331.33,827.33 337.67,825.73 342,825 C346.33,824.27 347.33,823.8 352,823.6 C356.67,823.4 365,823.4 370,823.8 C375,824.2 378,824.63 382,826 C386,827.37 390.67,829.5 394,832 C397.33,834.5 399.33,837.67 402,841 C404.67,844.33 407.33,848.17 410,852 C412.67,855.83 415.5,859.67 418,864 C420.5,868.33 423,873.33 425,878 C427,882.67 428.5,887.33 430,892 C431.5,896.67 432.83,901.67 434,906 C435.17,910.33 436.17,913.5 437,918 C437.83,922.5 438.33,927.83 439,933 C439.67,938.17 440.17,943.67 441,949 C441.83,954.33 443.17,959.67 444,965 C444.83,970.33 445.73,975.67 446,981 C446.27,986.33 445.43,992.67 445.6,997 C445.77,1001.33 446.43,1004 447,1007 C447.57,1010 448.5,1012 449,1015 C449.5,1018 449.83,1023.33 450,1025" fill="none" stroke="#ff0000" stroke-width="1.35"/>
</g>
<g clip-path="url(#boxc)">
<line x1="67.6" y1="949.1" x2="278.6" y2="776.2" stroke="#979797" stroke-width="1.25" stroke-dasharray="4.6,2.75"/>
<line x1="67.6" y1="949.1" x2="194.2" y2="845.36" stroke="#979797" stroke-width="1.9" stroke-dasharray="18.7,3.4"/>
</g>
<g transform="translate(88.4,917.6) rotate(-37.7)" fill="#8f8f8f" stroke="none" font-style="italic" font-size="12.4">
<text x="0" y="0">m(</text><text x="15.3" y="1.2">χ</text><text x="22.6" y="-4.6" font-size="7.4" font-style="normal">0</text><text x="22.8" y="4.6" font-size="7.4" font-style="normal">1</text>
<text x="27.6" y="0">)</text><text x="34.2" y="0" font-style="normal">&gt;</text><text x="44.4" y="0">m(</text><text x="59.6" y="0">g</text><text x="66.8" y="0">)</text>
<path d="M16.6,-8.2 q1.2,-1.6 2.4,-0.5 t2.4,-0.5 M60.8,-8.6 q1.2,-1.6 2.4,-0.5 t2.4,-0.5" fill="none" stroke="#8f8f8f" stroke-width="0.75"/>
</g>
<text transform="translate(87,939) rotate(-38)" font-size="9.4" text-anchor="middle" y="3.35" fill="#000" stroke="#000" stroke-width="0.2">0.5</text>
<text transform="translate(69.4,953.4) rotate(-52)" font-size="9.4" text-anchor="middle" y="3.35" fill="#000" stroke="#000" stroke-width="0.2">2</text>
<text transform="translate(94.1,970.8) rotate(-10)" font-size="9.4" text-anchor="middle" y="3.35" fill="#000" stroke="#000" stroke-width="0.2">70</text>
<text transform="translate(110.7,994.9) rotate(-6)" font-size="9.4" text-anchor="middle" y="3.35" fill="#000" stroke="#000" stroke-width="0.2">200</text>
<text transform="translate(132,953.2) rotate(-8)" font-size="9.4" text-anchor="middle" y="3.35" fill="#000" stroke="#000" stroke-width="0.2">50</text>
<text transform="translate(202,935.4) rotate(0)" font-size="9.4" text-anchor="middle" y="3.35" fill="#000" stroke="#000" stroke-width="0.2">30</text>
<text transform="translate(241.6,922.4) rotate(0)" font-size="9.4" text-anchor="middle" y="3.35" fill="#000" stroke="#000" stroke-width="0.2">20</text>
<text transform="translate(248,881.5) rotate(0)" font-size="9.4" text-anchor="middle" y="3.35" fill="#000" stroke="#000" stroke-width="0.2">5</text>
<text transform="translate(284,850.6) rotate(0)" font-size="9.4" text-anchor="middle" y="3.35" fill="#000" stroke="#000" stroke-width="0.2">2</text>
<text transform="translate(207,1000) rotate(55)" font-size="9.4" text-anchor="middle" y="3.35" fill="#000" stroke="#000" stroke-width="0.2">100</text>
<text transform="translate(295.8,912.6) rotate(48)" font-size="9.4" text-anchor="middle" y="3.35" fill="#000" stroke="#000" stroke-width="0.2">10</text>
<text transform="translate(348,803.8) rotate(0)" font-size="9.4" text-anchor="middle" y="3.35" fill="#000" stroke="#000" stroke-width="0.2">0.5</text>
<text transform="translate(305.6,829.2) rotate(0)" font-size="9.4" text-anchor="middle" y="3.35" fill="#000" stroke="#000" stroke-width="0.2">1</text>
<rect x="67.6" y="603.1" width="422" height="412.2" fill="none" stroke="#000" stroke-width="0.8"/>
<g stroke="#000" fill="none"><path d="M88.7,1015.3 v-2.9 M88.7,603.1 v2.9" stroke-width="0.55"/><path d="M109.8,1015.3 v-2.9 M109.8,603.1 v2.9" stroke-width="0.55"/><path d="M130.9,1015.3 v-2.9 M130.9,603.1 v2.9" stroke-width="0.55"/><path d="M152,1015.3 v-2.9 M152,603.1 v2.9" stroke-width="0.55"/><path d="M173.1,1015.3 v-5 M173.1,603.1 v5" stroke-width="0.8"/><path d="M194.2,1015.3 v-2.9 M194.2,603.1 v2.9" stroke-width="0.55"/><path d="M215.3,1015.3 v-2.9 M215.3,603.1 v2.9" stroke-width="0.55"/><path d="M236.4,1015.3 v-2.9 M236.4,603.1 v2.9" stroke-width="0.55"/><path d="M257.5,1015.3 v-2.9 M257.5,603.1 v2.9" stroke-width="0.55"/><path d="M278.6,1015.3 v-5 M278.6,603.1 v5" stroke-width="0.8"/><path d="M299.7,1015.3 v-2.9 M299.7,603.1 v2.9" stroke-width="0.55"/><path d="M320.8,1015.3 v-2.9 M320.8,603.1 v2.9" stroke-width="0.55"/><path d="M341.9,1015.3 v-2.9 M341.9,603.1 v2.9" stroke-width="0.55"/><path d="M363,1015.3 v-2.9 M363,603.1 v2.9" stroke-width="0.55"/><path d="M384.1,1015.3 v-5 M384.1,603.1 v5" stroke-width="0.8"/><path d="M405.2,1015.3 v-2.9 M405.2,603.1 v2.9" stroke-width="0.55"/><path d="M426.3,1015.3 v-2.9 M426.3,603.1 v2.9" stroke-width="0.55"/><path d="M447.4,1015.3 v-2.9 M447.4,603.1 v2.9" stroke-width="0.55"/><path d="M468.5,1015.3 v-2.9 M468.5,603.1 v2.9" stroke-width="0.55"/><path d="M67.6,1000.85 h6.5 M489.6,1000.85 h-6.5" stroke-width="0.55"/><path d="M67.6,983.6 h6.5 M489.6,983.6 h-6.5" stroke-width="0.55"/><path d="M67.6,966.35 h6.5 M489.6,966.35 h-6.5" stroke-width="0.55"/><path d="M67.6,949.1 h13 M489.6,949.1 h-13" stroke-width="0.8"/><path d="M67.6,931.85 h6.5 M489.6,931.85 h-6.5" stroke-width="0.55"/><path d="M67.6,914.6 h6.5 M489.6,914.6 h-6.5" stroke-width="0.55"/><path d="M67.6,897.35 h6.5 M489.6,897.35 h-6.5" stroke-width="0.55"/><path d="M67.6,880.1 h6.5 M489.6,880.1 h-6.5" stroke-width="0.55"/><path d="M67.6,862.85 h13 M489.6,862.85 h-13" stroke-width="0.8"/><path d="M67.6,845.6 h6.5 M489.6,845.6 h-6.5" stroke-width="0.55"/><path d="M67.6,828.35 h6.5 M489.6,828.35 h-6.5" stroke-width="0.55"/><path d="M67.6,811.1 h6.5 M489.6,811.1 h-6.5" stroke-width="0.55"/><path d="M67.6,793.85 h6.5 M489.6,793.85 h-6.5" stroke-width="0.55"/><path d="M67.6,776.6 h13 M489.6,776.6 h-13" stroke-width="0.8"/><path d="M67.6,759.35 h6.5 M489.6,759.35 h-6.5" stroke-width="0.55"/><path d="M67.6,742.1 h6.5 M489.6,742.1 h-6.5" stroke-width="0.55"/><path d="M67.6,724.85 h6.5 M489.6,724.85 h-6.5" stroke-width="0.55"/><path d="M67.6,707.6 h6.5 M489.6,707.6 h-6.5" stroke-width="0.55"/><path d="M67.6,690.35 h13 M489.6,690.35 h-13" stroke-width="0.8"/><path d="M67.6,673.1 h6.5 M489.6,673.1 h-6.5" stroke-width="0.55"/><path d="M67.6,655.85 h6.5 M489.6,655.85 h-6.5" stroke-width="0.55"/><path d="M67.6,638.6 h6.5 M489.6,638.6 h-6.5" stroke-width="0.55"/><path d="M67.6,621.35 h6.5 M489.6,621.35 h-6.5" stroke-width="0.55"/></g>
<text transform="translate(66,1029.4) scale(0.94,1)" font-size="15.7" text-anchor="middle">500</text>
<text transform="translate(171.5,1029.4) scale(0.94,1)" font-size="15.7" text-anchor="middle">1000</text>
<text transform="translate(277,1029.4) scale(0.94,1)" font-size="15.7" text-anchor="middle">1500</text>
<text transform="translate(382.5,1029.4) scale(0.94,1)" font-size="15.7" text-anchor="middle">2000</text>
<text transform="translate(488,1029.4) scale(0.94,1)" font-size="15.7" text-anchor="middle">2500</text>
<text transform="translate(64.3,952.45) scale(0.94,1)" font-size="15.7" text-anchor="end">500</text>
<text transform="translate(64.3,866.2) scale(0.94,1)" font-size="15.7" text-anchor="end">1000</text>
<text transform="translate(64.3,779.95) scale(0.94,1)" font-size="15.7" text-anchor="end">1500</text>
<text transform="translate(64.3,693.7) scale(0.94,1)" font-size="15.7" text-anchor="end">2000</text>
<text transform="translate(64.3,607.45) scale(0.94,1)" font-size="15.7" text-anchor="end">2500</text>
<rect x="516.4" y="983.59" width="20.4" height="32.01" fill="#571b65"/>
<rect x="516.4" y="951.88" width="20.4" height="32.01" fill="#5b357f"/>
<rect x="516.4" y="920.18" width="20.4" height="32.01" fill="#574d8f"/>
<rect x="516.4" y="888.47" width="20.4" height="32.01" fill="#4e6397"/>
<rect x="516.4" y="856.76" width="20.4" height="32.01" fill="#457799"/>
<rect x="516.4" y="825.05" width="20.4" height="32.01" fill="#3e899a"/>
<rect x="516.4" y="793.35" width="20.4" height="32.01" fill="#379c98"/>
<rect x="516.4" y="761.64" width="20.4" height="32.01" fill="#36ad92"/>
<rect x="516.4" y="729.93" width="20.4" height="32.01" fill="#49be86"/>
<rect x="516.4" y="698.22" width="20.4" height="32.01" fill="#6ecf71"/>
<rect x="516.4" y="666.52" width="20.4" height="32.01" fill="#9bdb56"/>
<rect x="516.4" y="634.81" width="20.4" height="32.01" fill="#cde336"/>
<rect x="516.4" y="603.1" width="20.4" height="32.01" fill="#fde93b"/>
<rect x="516.4" y="603.1" width="20.4" height="412.2" fill="none" stroke="#000" stroke-opacity="0.85" stroke-width="0.8"/>
<path d="M536.8,983.59 h-6.5" stroke="#000" stroke-opacity="0.6" stroke-width="0.55"/>
<path d="M536.8,951.88 h-13" stroke="#000" stroke-opacity="0.9" stroke-width="0.8"/>
<path d="M536.8,920.18 h-6.5" stroke="#000" stroke-opacity="0.6" stroke-width="0.55"/>
<path d="M536.8,888.47 h-13" stroke="#000" stroke-opacity="0.9" stroke-width="0.8"/>
<path d="M536.8,856.76 h-6.5" stroke="#000" stroke-opacity="0.6" stroke-width="0.55"/>
<path d="M536.8,825.05 h-13" stroke="#000" stroke-opacity="0.9" stroke-width="0.8"/>
<path d="M536.8,793.35 h-6.5" stroke="#000" stroke-opacity="0.6" stroke-width="0.55"/>
<path d="M536.8,761.64 h-13" stroke="#000" stroke-opacity="0.9" stroke-width="0.8"/>
<path d="M536.8,729.93 h-6.5" stroke="#000" stroke-opacity="0.6" stroke-width="0.55"/>
<path d="M536.8,698.22 h-13" stroke="#000" stroke-opacity="0.9" stroke-width="0.8"/>
<path d="M536.8,666.52 h-6.5" stroke="#000" stroke-opacity="0.6" stroke-width="0.55"/>
<path d="M536.8,634.81 h-13" stroke="#000" stroke-opacity="0.9" stroke-width="0.8"/>
<text transform="translate(540.7,1017.1) scale(0.94,1)" font-size="15.7" text-anchor="start">0</text>
<text transform="translate(540.7,955.08) scale(0.94,1)" font-size="15.7" text-anchor="start">1</text>
<text transform="translate(540.7,891.67) scale(0.94,1)" font-size="15.7" text-anchor="start">5</text>
<text transform="translate(540.7,828.25) scale(0.94,1)" font-size="15.7" text-anchor="start">20</text>
<text transform="translate(540.7,764.84) scale(0.94,1)" font-size="15.7" text-anchor="start">50</text>
<text transform="translate(540.7,701.42) scale(0.94,1)" font-size="15.7" text-anchor="start">100</text>
<text transform="translate(540.7,638.01) scale(0.94,1)" font-size="15.7" text-anchor="start">400</text>
<g transform="translate(588,698.9) rotate(-90)" font-style="italic">
<text x="0" y="0" font-size="19.6">σ</text><text x="11.8" y="3.2" font-size="12.3" textLength="19.2" lengthAdjust="spacingAndGlyphs">obs</text><text x="37.6" y="0" font-size="18" font-style="normal">/</text><text x="49" y="0" font-size="19.6">σ</text><text x="60.6" y="3.2" font-size="12.8" textLength="35" lengthAdjust="spacingAndGlyphs">SUSY</text>
</g>
<text x="90" y="634.4" font-size="17" text-anchor="start" font-style="italic" font-weight="bold" fill="#000">ATLAS</text>
<path d="M90.8,661 l1.3,-0.8 l2.4,5.2 l2.9,-11.6 h9.8" fill="none" stroke="#000" stroke-width="0.75"/>
<text y="664.4" font-size="11.7"><tspan x="99.6" font-style="italic" font-size="12.2">s</tspan><tspan x="111.3">=</tspan><tspan x="121.2" textLength="86.2" lengthAdjust="spacingAndGlyphs">13 TeV,  140 fb</tspan><tspan font-size="8.2" dy="-4.6" dx="0.5">−1</tspan></text>
<path d="M90.8,678.2 l1.3,-0.8 l2.4,5.2 l2.9,-11.6 h9.8" fill="none" stroke="#000" stroke-width="0.75"/>
<text y="681.6" font-size="11.7"><tspan x="99.6" font-style="italic" font-size="12.2">s</tspan><tspan x="111.3">=</tspan><tspan x="121.2" textLength="100.6" lengthAdjust="spacingAndGlyphs">13.6 TeV,  51.8 fb</tspan><tspan font-size="8.2" dy="-4.6" dx="0.5">−1</tspan></text>
<line x1="320" y1="677" x2="347.5" y2="677" stroke="#ff0000" stroke-width="1.35"/>
<g font-size="11.7"><text x="357.4" y="681.25">(</text><text x="361.2" y="681.25" font-style="italic" font-size="12.6">σ</text><text x="369.8" y="683.35" font-style="italic" font-size="8.7" textLength="13.6" lengthAdjust="spacingAndGlyphs">obs</text><text x="388.2" y="681.25">/</text><text x="395.6" y="681.25" font-style="italic" font-size="12.6">σ</text><text x="404.3" y="683.35" font-style="italic" font-size="8.7" textLength="24.8" lengthAdjust="spacingAndGlyphs">SUSY</text><text x="429.5" y="681.25">)</text><text x="435.4" y="681.25">=</text><text x="445.7" y="681.25" textLength="16.3" lengthAdjust="spacingAndGlyphs">1.0</text></g>
<line x1="320" y1="694" x2="347.5" y2="694" stroke="#ff0000" stroke-width="1.15" stroke-dasharray="4.1,1.75"/>
<g font-size="11.7"><text x="357.4" y="698.25">(</text><text x="361.2" y="698.25" font-style="italic" font-size="12.6">σ</text><text x="369.8" y="700.35" font-style="italic" font-size="8.7" textLength="13.6" lengthAdjust="spacingAndGlyphs">exp</text><text x="388.2" y="698.25">/</text><text x="395.6" y="698.25" font-style="italic" font-size="12.6">σ</text><text x="404.3" y="700.35" font-style="italic" font-size="8.7" textLength="24.8" lengthAdjust="spacingAndGlyphs">SUSY</text><text x="429.5" y="698.25">)</text><text x="435.4" y="698.25">=</text><text x="445.7" y="698.25" textLength="16.3" lengthAdjust="spacingAndGlyphs">1.0</text></g>
<g><text x="76.9" y="588.9" font-size="8.8" font-style="italic" textLength="5.6" lengthAdjust="spacingAndGlyphs">g</text><path d="M78.3,582.9 q0.95,-1.7 1.9,-0.5 t1.9,-0.5" fill="none" stroke="#000" stroke-width="0.55"/><text x="86.2" y="588.9" font-size="8.8" textLength="9.4" lengthAdjust="spacingAndGlyphs">→</text><text x="98.1" y="588.9" font-size="8.8" font-style="italic" textLength="11.9" lengthAdjust="spacingAndGlyphs">qq</text><path d="M105.4,582.7 h3.6" stroke="#000" stroke-width="0.55"/><text x="113.75" y="588.9" font-size="8.8" textLength="46.25" lengthAdjust="spacingAndGlyphs">(<tspan font-style="italic">ττ</tspan>/<tspan font-style="italic">τν</tspan>/<tspan font-style="italic">νν</tspan>)</text><text x="165" y="589.1" font-size="8.8" font-style="italic" textLength="6.6" lengthAdjust="spacingAndGlyphs">χ</text><path d="M167,582.7 q0.95,-1.7 1.9,-0.5 t1.9,-0.5" fill="none" stroke="#000" stroke-width="0.55"/><text x="172.6" y="585.3" font-size="6.2" textLength="4" lengthAdjust="spacingAndGlyphs">0</text><text x="172.8" y="591.5" font-size="6.2" textLength="3.2" lengthAdjust="spacingAndGlyphs">1</text><text x="180" y="588.9" font-size="8.8" textLength="13.75" lengthAdjust="spacingAndGlyphs">via</text><text x="198.1" y="588.9" font-size="8.8" textLength="15" lengthAdjust="spacingAndGlyphs"><tspan font-style="italic">τ</tspan>/<tspan font-style="italic">ν</tspan></text><path d="M199.2,582.9 q0.95,-1.7 1.9,-0.5 t1.9,-0.5" fill="none" stroke="#000" stroke-width="0.55"/><path d="M208.6,582.9 q0.95,-1.7 1.9,-0.5 t1.9,-0.5" fill="none" stroke="#000" stroke-width="0.55"/></g>
<g><text x="411.9" y="1054.6" font-size="17.4" font-style="italic" textLength="17.5" lengthAdjust="spacingAndGlyphs">m</text><text x="430.1" y="1058.9" font-size="12.4" font-style="italic">g</text><path d="M431.3,1051 q1.2,-1.7 2.4,-0.5 t2.4,-0.5" fill="none" stroke="#000" stroke-width="0.55"/><text x="441.5" y="1054.6" font-size="17.6" textLength="45.4" lengthAdjust="spacingAndGlyphs">[GeV]</text></g>
<g transform="translate(14.4,683.8) rotate(-90)"><text x="0" y="0" font-size="17.4" font-style="italic" textLength="15.4" lengthAdjust="spacingAndGlyphs">m</text><text x="15.6" y="2.2" font-size="14.6" font-style="italic">χ</text><path d="M17.6,-8 q1.2,-1.7 2.4,-0.5 t2.4,-0.5" fill="none" stroke="#000" stroke-width="0.55"/><text x="23.8" y="-2.7" font-size="7.8">0</text><text x="24" y="5.7" font-size="7.8">1</text><text x="34.9" y="0" font-size="17.6" textLength="46.7" lengthAdjust="spacingAndGlyphs">[GeV]</text></g>
<clipPath id="hulld"><path d="M676.6,1016 L676.6,944.6 L730.3,904.6 L770,875.6 L839.5,822.2 L881,794.2 L1025,743 L1100,743 L1100,1016 Z"/></clipPath>
<clipPath id="boxd"><rect x="676.65" y="603.1" width="422.35" height="412.2"/></clipPath>
<g clip-path="url(#boxd)"><g clip-path="url(#hulld)">
<rect x="676.65" y="603.1" width="422.35" height="412.2" fill="#571b65"/>
<path d="M670,949 C671.1,948.17 671.6,947.75 676.6,944 C681.6,940.25 691.1,933.2 700,926.5 C708.9,919.8 721.67,909.95 730,903.8 C738.33,897.65 743.33,894.33 750,889.6 C756.67,884.87 765,878.6 770,875.4 C775,872.2 776.67,872.37 780,870.4 C783.33,868.43 786.67,865.98 790,863.6 C793.33,861.22 796.62,858.52 800,856.1 C803.38,853.68 807.23,851.02 810.3,849.1 C813.37,847.18 815.88,845.6 818.4,844.6 C820.92,843.6 823.07,843.18 825.4,843.1 C827.73,843.02 829.88,843.52 832.4,844.1 C834.92,844.68 837.57,846.02 840.5,846.6 C843.43,847.18 846.75,847.7 850,847.6 C853.25,847.5 855.33,847.07 860,846 C864.67,844.93 871.33,843.2 878,841.2 C884.67,839.2 893,836.03 900,834 C907,831.97 913.33,830.73 920,829 C926.67,827.27 934,825.23 940,823.6 C946,821.97 951.33,820.23 956,819.2 C960.67,818.17 962.33,817.77 968,817.4 C973.67,817.03 983.33,816.97 990,817 C996.67,817.03 1002.33,816.77 1008,817.6 C1013.67,818.43 1018.67,819.93 1024,822 C1029.33,824.07 1035,827 1040,830 C1045,833 1049.67,836 1054,840 C1058.33,844 1062.33,849 1066,854 C1069.67,859 1073,864.67 1076,870 C1079,875.33 1081.67,881 1084,886 C1086.33,891 1088.17,895.67 1090,900 C1091.83,904.33 1093.5,908.33 1095,912 C1096.5,915.67 1097.5,918.33 1099,922 C1100.5,925.67 1103.17,932 1104,934 L1130,1050 L640,1050 L640,980 Z" fill="#5a3d85"/>
<path d="M670,949.6 C671.12,948.78 673.37,947.2 676.7,944.7 C680.03,942.2 684.45,938.78 690,934.6 C695.55,930.42 703.33,924.65 710,919.6 C716.67,914.55 725,908.02 730,904.3 C735,900.58 736.67,899.63 740,897.3 C743.33,894.97 746.67,892.47 750,890.3 C753.33,888.13 756.67,885.98 760,884.3 C763.33,882.62 766.67,882.05 770,880.2 C773.33,878.35 776.67,875.37 780,873.2 C783.33,871.03 786.67,869.03 790,867.2 C793.33,865.37 796.95,863.4 800,862.2 C803.05,861 805.9,860.37 808.3,860 C810.7,859.63 812.38,859.63 814.4,860 C816.42,860.37 818.07,861.42 820.4,862.2 C822.73,862.98 825.72,864.07 828.4,864.7 C831.08,865.33 833.82,865.72 836.5,866 C839.18,866.28 841.92,866.5 844.5,866.4 C847.08,866.3 849.42,865.9 852,865.4 C854.58,864.9 856.67,864.3 860,863.4 C863.33,862.5 867.67,861.4 872,860 C876.33,858.6 881.33,856.4 886,855 C890.67,853.6 895.33,852.43 900,851.6 C904.67,850.77 908,850.37 914,850 C920,849.63 930,849.5 936,849.4 C942,849.3 945.33,849.5 950,849.4 C954.67,849.3 959.67,848.53 964,848.8 C968.33,849.07 971.33,849.8 976,851 C980.67,852.2 987,854 992,856 C997,858 1001.67,860.33 1006,863 C1010.33,865.67 1014.67,868.67 1018,872 C1021.33,875.33 1023.67,879.08 1026,883 C1028.33,886.92 1029.67,891.17 1032,895.5 C1034.33,899.83 1037.67,905.5 1040,909 C1042.33,912.5 1044.33,913.5 1046,916.5 C1047.67,919.5 1049,923.25 1050,927 C1051,930.75 1051.6,935 1052,939 C1052.4,943 1051.73,947 1052.4,951 C1053.07,955 1054.73,958.67 1056,963 C1057.27,967.33 1059,972.67 1060,977 C1061,981.33 1061.5,985 1062,989 C1062.5,993 1062.67,996.67 1063,1001 C1063.33,1005.33 1063.83,1011 1064,1015 C1064.17,1019 1064,1023.33 1064,1025 L1130,1050 L640,1050 L640,980 Z" fill="#525c95"/>
<path d="M670,951 C671.12,950.17 673.37,948.5 676.7,946 C680.03,943.5 684.45,940.17 690,936 C695.55,931.83 703.33,925.93 710,921 C716.67,916.07 725,909.85 730,906.4 C735,902.95 736.67,902.32 740,900.3 C743.33,898.28 746.67,895.97 750,894.3 C753.33,892.63 756.97,891.17 760,890.3 C763.03,889.43 765.83,889.02 768.2,889.1 C770.57,889.18 772.2,889.93 774.2,890.8 C776.2,891.67 778.2,893.22 780.2,894.3 C782.2,895.38 783.85,896.55 786.2,897.3 C788.55,898.05 791.62,898.63 794.3,898.8 C796.98,898.97 799.63,898.8 802.3,898.3 C804.97,897.8 807.28,896.72 810.3,895.8 C813.32,894.88 817.05,893.8 820.4,892.8 C823.75,891.8 827.05,890.8 830.4,889.8 C833.75,888.8 837.23,887.63 840.5,886.8 C843.77,885.97 846.42,885.37 850,884.8 C853.58,884.23 857.5,884.03 862,883.4 C866.5,882.77 872.33,881.77 877,881 C881.67,880.23 885.17,879.43 890,878.8 C894.83,878.17 901,877.3 906,877.2 C911,877.1 915,877.67 920,878.2 C925,878.73 931,879.37 936,880.4 C941,881.43 945.33,882.55 950,884.4 C954.67,886.25 959.67,888.73 964,891.5 C968.33,894.27 972.33,897.75 976,901 C979.67,904.25 983.5,908 986,911 C988.5,914 989.67,916.33 991,919 C992.33,921.67 992.5,924.33 994,927 C995.5,929.67 998.33,931.67 1000,935 C1001.67,938.33 1003,943 1004,947 C1005,951 1005,955 1006,959 C1007,963 1008.83,967 1010,971 C1011.17,975 1012,978.67 1013,983 C1014,987.33 1015.17,993 1016,997 C1016.83,1001 1017.5,1004 1018,1007 C1018.5,1010 1018.83,1012 1019,1015 C1019.17,1018 1019,1023.33 1019,1025 L1130,1050 L640,1050 L640,980 Z" fill="#457799"/>
<path d="M670,953 C671.12,952.2 674.2,949.83 676.7,948.2 C679.2,946.57 681.95,945.38 685,943.2 C688.05,941.02 692.5,936.95 695,935.1 C697.5,933.25 697.5,933.1 700,932.1 C702.5,931.1 706.97,929.77 710,929.1 C713.03,928.43 716.17,928.02 718.2,928.1 C720.23,928.18 721.67,928.85 722.2,929.6 C722.73,930.35 721.67,931.68 721.4,932.6 C721.13,933.52 720.13,934.35 720.6,935.1 C721.07,935.85 722.25,936.68 724.2,937.1 C726.15,937.52 729.62,937.6 732.3,937.6 C734.98,937.6 737.3,937.68 740.3,937.1 C743.3,936.52 747.28,935.1 750.3,934.1 C753.32,933.1 756.05,932.1 758.4,931.1 C760.75,930.1 763.23,928.93 764.4,928.1 C765.57,927.27 766.07,926.6 765.4,926.1 C764.73,925.6 762.92,925.52 760.4,925.1 C757.88,924.68 752.98,924.1 750.3,923.6 C747.62,923.1 745.72,922.77 744.3,922.1 C742.88,921.43 741.92,920.5 741.8,919.6 C741.68,918.7 742.18,917.47 743.6,916.7 C745.02,915.93 747.5,915.28 750.3,915 C753.1,914.72 757.05,914.75 760.4,915 C763.75,915.25 767.05,915.98 770.4,916.5 C773.75,917.02 777.23,917.68 780.5,918.1 C783.77,918.52 786.75,918.95 790,919 C793.25,919.05 796.67,918.8 800,918.4 C803.33,918 806.67,917.27 810,916.6 C813.33,915.93 816.67,915.07 820,914.4 C823.33,913.73 825.67,913.27 830,912.6 C834.33,911.93 840.83,910.9 846,910.4 C851.17,909.9 856.67,909.67 861,909.6 C865.33,909.53 867.83,909.6 872,910 C876.17,910.4 882,911.1 886,912 C890,912.9 893,914.4 896,915.4 C899,916.4 900.67,916.33 904,918 C907.33,919.67 912.67,922.23 916,925.4 C919.33,928.57 921.33,932.73 924,937 C926.67,941.27 929.33,946.57 932,951 C934.67,955.43 937.33,959.27 940,963.6 C942.67,967.93 945.83,972.77 948,977 C950.17,981.23 951.67,984.67 953,989 C954.33,993.33 955.33,998.67 956,1003 C956.67,1007.33 956.83,1011.33 957,1015 C957.17,1018.67 957,1023.33 957,1025 L1130,1050 L640,1050 L640,980 Z" fill="#3b8f99"/>
<path d="M670,954.6 C671.12,954.53 674.2,954.43 676.7,954.2 C679.2,953.97 682.28,953.28 685,953.2 C687.72,953.12 690.5,953.2 693,953.7 C695.5,954.2 697.17,955.78 700,956.2 C702.83,956.62 706.63,956.53 710,956.2 C713.37,955.87 716.82,954.87 720.2,954.2 C723.58,953.53 726.95,952.87 730.3,952.2 C733.65,951.53 736.97,950.95 740.3,950.2 C743.63,949.45 746.95,948.53 750.3,947.7 C753.65,946.87 757.05,946.12 760.4,945.2 C763.75,944.28 767.73,942.93 770.4,942.2 C773.07,941.47 773.13,941.47 776.4,940.8 C779.67,940.13 784.4,938.83 790,938.2 C795.6,937.57 803.33,937.2 810,937 C816.67,936.8 824,936.67 830,937 C836,937.33 840.67,937.73 846,939 C851.33,940.27 857,942.33 862,944.6 C867,946.87 872.67,950.53 876,952.6 C879.33,954.67 880,955.1 882,957 C884,958.9 885.33,960.83 888,964 C890.67,967.17 895.67,971.83 898,976 C900.33,980.17 900.83,984.5 902,989 C903.17,993.5 904.17,998.67 905,1003 C905.83,1007.33 906.67,1011.33 907,1015 C907.33,1018.67 907,1023.33 907,1025 L1130,1050 L640,1050 L640,980 Z" fill="#35a795"/>
<path d="M670,995 C671.12,994.48 674.2,993.1 676.7,991.9 C679.2,990.7 681.95,989.32 685,987.8 C688.05,986.28 691.67,984.47 695,982.8 C698.33,981.13 701.63,979.38 705,977.8 C708.37,976.22 711.83,974.55 715.2,973.3 C718.57,972.05 721.85,971.22 725.2,970.3 C728.55,969.38 731.95,968.55 735.3,967.8 C738.65,967.05 741.95,966.48 745.3,965.8 C748.65,965.12 752.05,964.3 755.4,963.7 C758.75,963.1 762.07,962.67 765.4,962.2 C768.73,961.73 772.63,961.28 775.4,960.9 C778.17,960.52 777.9,960.05 782,959.9 C786.1,959.75 794.67,959.48 800,960 C805.33,960.52 809,961.17 814,963 C819,964.83 825.33,968 830,971 C834.67,974 838.67,977.67 842,981 C845.33,984.33 847.67,987.67 850,991 C852.33,994.33 854.5,997 856,1001 C857.5,1005 858.5,1011 859,1015 C859.5,1019 859,1023.33 859,1025 L1130,1050 L640,1050 L640,980 Z" fill="#49be86"/>
<path d="M670,1002 C671.12,1001.48 674.2,1000 676.7,998.9 C679.2,997.8 681.95,996.65 685,995.4 C688.05,994.15 691.67,992.67 695,991.4 C698.33,990.13 701.63,988.9 705,987.8 C708.37,986.7 711.83,985.63 715.2,984.8 C718.57,983.97 721.85,983.38 725.2,982.8 C728.55,982.22 731.95,981.75 735.3,981.3 C738.65,980.85 741.95,980.47 745.3,980.1 C748.65,979.73 752.05,979.37 755.4,979.1 C758.75,978.83 762.07,978.57 765.4,978.5 C768.73,978.43 771.97,978.22 775.4,978.7 C778.83,979.18 781.9,980.02 786,981.4 C790.1,982.78 795.33,984.73 800,987 C804.67,989.27 810,992 814,995 C818,998 821.17,1002.5 824,1005 C826.83,1007.5 829,1008.33 831,1010 C833,1011.67 834.83,1012.5 836,1015 C837.17,1017.5 837.67,1023.33 838,1025 L1130,1050 L640,1050 L640,980 Z" fill="#7cd369"/>
<path d="M670,1013.5 C671.12,1013.07 674.2,1011.75 676.7,1010.9 C679.2,1010.05 681.12,1009.23 685,1008.4 C688.88,1007.57 695.83,1006.4 700,1005.9 C704.17,1005.4 706.67,1005.57 710,1005.4 C713.33,1005.23 716.62,1005.07 720,1004.9 C723.38,1004.73 726.92,1004.4 730.3,1004.4 C733.68,1004.4 736.97,1004.57 740.3,1004.9 C743.63,1005.23 746.95,1005.82 750.3,1006.4 C753.65,1006.98 757.05,1007.65 760.4,1008.4 C763.75,1009.15 767.05,1009.97 770.4,1010.9 C773.75,1011.83 778.32,1013.32 780.5,1014 C782.68,1014.68 782.25,1013.17 783.5,1015 C784.75,1016.83 787.25,1023.33 788,1025 L1130,1050 L640,1050 L640,980 Z" fill="#bce140"/>
<path d="M670,949 C671.1,948.17 671.6,947.75 676.6,944 C681.6,940.25 691.1,933.2 700,926.5 C708.9,919.8 721.67,909.95 730,903.8 C738.33,897.65 743.33,894.33 750,889.6 C756.67,884.87 765,878.6 770,875.4 C775,872.2 776.67,872.37 780,870.4 C783.33,868.43 786.67,865.98 790,863.6 C793.33,861.22 796.62,858.52 800,856.1 C803.38,853.68 807.23,851.02 810.3,849.1 C813.37,847.18 815.88,845.6 818.4,844.6 C820.92,843.6 823.07,843.18 825.4,843.1 C827.73,843.02 829.88,843.52 832.4,844.1 C834.92,844.68 837.57,846.02 840.5,846.6 C843.43,847.18 846.75,847.7 850,847.6 C853.25,847.5 855.33,847.07 860,846 C864.67,844.93 871.33,843.2 878,841.2 C884.67,839.2 893,836.03 900,834 C907,831.97 913.33,830.73 920,829 C926.67,827.27 934,825.23 940,823.6 C946,821.97 951.33,820.23 956,819.2 C960.67,818.17 962.33,817.77 968,817.4 C973.67,817.03 983.33,816.97 990,817 C996.67,817.03 1002.33,816.77 1008,817.6 C1013.67,818.43 1018.67,819.93 1024,822 C1029.33,824.07 1035,827 1040,830 C1045,833 1049.67,836 1054,840 C1058.33,844 1062.33,849 1066,854 C1069.67,859 1073,864.67 1076,870 C1079,875.33 1081.67,881 1084,886 C1086.33,891 1088.17,895.67 1090,900 C1091.83,904.33 1093.5,908.33 1095,912 C1096.5,915.67 1097.5,918.33 1099,922 C1100.5,925.67 1103.17,932 1104,934" fill="none" stroke="#857b7b" stroke-opacity="0.7" stroke-width="0.55"/>
<path d="M670,949.6 C671.12,948.78 673.37,947.2 676.7,944.7 C680.03,942.2 684.45,938.78 690,934.6 C695.55,930.42 703.33,924.65 710,919.6 C716.67,914.55 725,908.02 730,904.3 C735,900.58 736.67,899.63 740,897.3 C743.33,894.97 746.67,892.47 750,890.3 C753.33,888.13 756.67,885.98 760,884.3 C763.33,882.62 766.67,882.05 770,880.2 C773.33,878.35 776.67,875.37 780,873.2 C783.33,871.03 786.67,869.03 790,867.2 C793.33,865.37 796.95,863.4 800,862.2 C803.05,861 805.9,860.37 808.3,860 C810.7,859.63 812.38,859.63 814.4,860 C816.42,860.37 818.07,861.42 820.4,862.2 C822.73,862.98 825.72,864.07 828.4,864.7 C831.08,865.33 833.82,865.72 836.5,866 C839.18,866.28 841.92,866.5 844.5,866.4 C847.08,866.3 849.42,865.9 852,865.4 C854.58,864.9 856.67,864.3 860,863.4 C863.33,862.5 867.67,861.4 872,860 C876.33,858.6 881.33,856.4 886,855 C890.67,853.6 895.33,852.43 900,851.6 C904.67,850.77 908,850.37 914,850 C920,849.63 930,849.5 936,849.4 C942,849.3 945.33,849.5 950,849.4 C954.67,849.3 959.67,848.53 964,848.8 C968.33,849.07 971.33,849.8 976,851 C980.67,852.2 987,854 992,856 C997,858 1001.67,860.33 1006,863 C1010.33,865.67 1014.67,868.67 1018,872 C1021.33,875.33 1023.67,879.08 1026,883 C1028.33,886.92 1029.67,891.17 1032,895.5 C1034.33,899.83 1037.67,905.5 1040,909 C1042.33,912.5 1044.33,913.5 1046,916.5 C1047.67,919.5 1049,923.25 1050,927 C1051,930.75 1051.6,935 1052,939 C1052.4,943 1051.73,947 1052.4,951 C1053.07,955 1054.73,958.67 1056,963 C1057.27,967.33 1059,972.67 1060,977 C1061,981.33 1061.5,985 1062,989 C1062.5,993 1062.67,996.67 1063,1001 C1063.33,1005.33 1063.83,1011 1064,1015 C1064.17,1019 1064,1023.33 1064,1025" fill="none" stroke="#857b7b" stroke-opacity="0.7" stroke-width="0.55"/>
<path d="M670,951 C671.12,950.17 673.37,948.5 676.7,946 C680.03,943.5 684.45,940.17 690,936 C695.55,931.83 703.33,925.93 710,921 C716.67,916.07 725,909.85 730,906.4 C735,902.95 736.67,902.32 740,900.3 C743.33,898.28 746.67,895.97 750,894.3 C753.33,892.63 756.97,891.17 760,890.3 C763.03,889.43 765.83,889.02 768.2,889.1 C770.57,889.18 772.2,889.93 774.2,890.8 C776.2,891.67 778.2,893.22 780.2,894.3 C782.2,895.38 783.85,896.55 786.2,897.3 C788.55,898.05 791.62,898.63 794.3,898.8 C796.98,898.97 799.63,898.8 802.3,898.3 C804.97,897.8 807.28,896.72 810.3,895.8 C813.32,894.88 817.05,893.8 820.4,892.8 C823.75,891.8 827.05,890.8 830.4,889.8 C833.75,888.8 837.23,887.63 840.5,886.8 C843.77,885.97 846.42,885.37 850,884.8 C853.58,884.23 857.5,884.03 862,883.4 C866.5,882.77 872.33,881.77 877,881 C881.67,880.23 885.17,879.43 890,878.8 C894.83,878.17 901,877.3 906,877.2 C911,877.1 915,877.67 920,878.2 C925,878.73 931,879.37 936,880.4 C941,881.43 945.33,882.55 950,884.4 C954.67,886.25 959.67,888.73 964,891.5 C968.33,894.27 972.33,897.75 976,901 C979.67,904.25 983.5,908 986,911 C988.5,914 989.67,916.33 991,919 C992.33,921.67 992.5,924.33 994,927 C995.5,929.67 998.33,931.67 1000,935 C1001.67,938.33 1003,943 1004,947 C1005,951 1005,955 1006,959 C1007,963 1008.83,967 1010,971 C1011.17,975 1012,978.67 1013,983 C1014,987.33 1015.17,993 1016,997 C1016.83,1001 1017.5,1004 1018,1007 C1018.5,1010 1018.83,1012 1019,1015 C1019.17,1018 1019,1023.33 1019,1025" fill="none" stroke="#857b7b" stroke-opacity="0.7" stroke-width="0.55"/>
<path d="M670,953 C671.12,952.2 674.2,949.83 676.7,948.2 C679.2,946.57 681.95,945.38 685,943.2 C688.05,941.02 692.5,936.95 695,935.1 C697.5,933.25 697.5,933.1 700,932.1 C702.5,931.1 706.97,929.77 710,929.1 C713.03,928.43 716.17,928.02 718.2,928.1 C720.23,928.18 721.67,928.85 722.2,929.6 C722.73,930.35 721.67,931.68 721.4,932.6 C721.13,933.52 720.13,934.35 720.6,935.1 C721.07,935.85 722.25,936.68 724.2,937.1 C726.15,937.52 729.62,937.6 732.3,937.6 C734.98,937.6 737.3,937.68 740.3,937.1 C743.3,936.52 747.28,935.1 750.3,934.1 C753.32,933.1 756.05,932.1 758.4,931.1 C760.75,930.1 763.23,928.93 764.4,928.1 C765.57,927.27 766.07,926.6 765.4,926.1 C764.73,925.6 762.92,925.52 760.4,925.1 C757.88,924.68 752.98,924.1 750.3,923.6 C747.62,923.1 745.72,922.77 744.3,922.1 C742.88,921.43 741.92,920.5 741.8,919.6 C741.68,918.7 742.18,917.47 743.6,916.7 C745.02,915.93 747.5,915.28 750.3,915 C753.1,914.72 757.05,914.75 760.4,915 C763.75,915.25 767.05,915.98 770.4,916.5 C773.75,917.02 777.23,917.68 780.5,918.1 C783.77,918.52 786.75,918.95 790,919 C793.25,919.05 796.67,918.8 800,918.4 C803.33,918 806.67,917.27 810,916.6 C813.33,915.93 816.67,915.07 820,914.4 C823.33,913.73 825.67,913.27 830,912.6 C834.33,911.93 840.83,910.9 846,910.4 C851.17,909.9 856.67,909.67 861,909.6 C865.33,909.53 867.83,909.6 872,910 C876.17,910.4 882,911.1 886,912 C890,912.9 893,914.4 896,915.4 C899,916.4 900.67,916.33 904,918 C907.33,919.67 912.67,922.23 916,925.4 C919.33,928.57 921.33,932.73 924,937 C926.67,941.27 929.33,946.57 932,951 C934.67,955.43 937.33,959.27 940,963.6 C942.67,967.93 945.83,972.77 948,977 C950.17,981.23 951.67,984.67 953,989 C954.33,993.33 955.33,998.67 956,1003 C956.67,1007.33 956.83,1011.33 957,1015 C957.17,1018.67 957,1023.33 957,1025" fill="none" stroke="#857b7b" stroke-opacity="0.7" stroke-width="0.55"/>
<path d="M670,954.6 C671.12,954.53 674.2,954.43 676.7,954.2 C679.2,953.97 682.28,953.28 685,953.2 C687.72,953.12 690.5,953.2 693,953.7 C695.5,954.2 697.17,955.78 700,956.2 C702.83,956.62 706.63,956.53 710,956.2 C713.37,955.87 716.82,954.87 720.2,954.2 C723.58,953.53 726.95,952.87 730.3,952.2 C733.65,951.53 736.97,950.95 740.3,950.2 C743.63,949.45 746.95,948.53 750.3,947.7 C753.65,946.87 757.05,946.12 760.4,945.2 C763.75,944.28 767.73,942.93 770.4,942.2 C773.07,941.47 773.13,941.47 776.4,940.8 C779.67,940.13 784.4,938.83 790,938.2 C795.6,937.57 803.33,937.2 810,937 C816.67,936.8 824,936.67 830,937 C836,937.33 840.67,937.73 846,939 C851.33,940.27 857,942.33 862,944.6 C867,946.87 872.67,950.53 876,952.6 C879.33,954.67 880,955.1 882,957 C884,958.9 885.33,960.83 888,964 C890.67,967.17 895.67,971.83 898,976 C900.33,980.17 900.83,984.5 902,989 C903.17,993.5 904.17,998.67 905,1003 C905.83,1007.33 906.67,1011.33 907,1015 C907.33,1018.67 907,1023.33 907,1025" fill="none" stroke="#857b7b" stroke-opacity="0.7" stroke-width="0.55"/>
<path d="M670,995 C671.12,994.48 674.2,993.1 676.7,991.9 C679.2,990.7 681.95,989.32 685,987.8 C688.05,986.28 691.67,984.47 695,982.8 C698.33,981.13 701.63,979.38 705,977.8 C708.37,976.22 711.83,974.55 715.2,973.3 C718.57,972.05 721.85,971.22 725.2,970.3 C728.55,969.38 731.95,968.55 735.3,967.8 C738.65,967.05 741.95,966.48 745.3,965.8 C748.65,965.12 752.05,964.3 755.4,963.7 C758.75,963.1 762.07,962.67 765.4,962.2 C768.73,961.73 772.63,961.28 775.4,960.9 C778.17,960.52 777.9,960.05 782,959.9 C786.1,959.75 794.67,959.48 800,960 C805.33,960.52 809,961.17 814,963 C819,964.83 825.33,968 830,971 C834.67,974 838.67,977.67 842,981 C845.33,984.33 847.67,987.67 850,991 C852.33,994.33 854.5,997 856,1001 C857.5,1005 858.5,1011 859,1015 C859.5,1019 859,1023.33 859,1025" fill="none" stroke="#857b7b" stroke-opacity="0.7" stroke-width="0.55"/>
<path d="M670,1002 C671.12,1001.48 674.2,1000 676.7,998.9 C679.2,997.8 681.95,996.65 685,995.4 C688.05,994.15 691.67,992.67 695,991.4 C698.33,990.13 701.63,988.9 705,987.8 C708.37,986.7 711.83,985.63 715.2,984.8 C718.57,983.97 721.85,983.38 725.2,982.8 C728.55,982.22 731.95,981.75 735.3,981.3 C738.65,980.85 741.95,980.47 745.3,980.1 C748.65,979.73 752.05,979.37 755.4,979.1 C758.75,978.83 762.07,978.57 765.4,978.5 C768.73,978.43 771.97,978.22 775.4,978.7 C778.83,979.18 781.9,980.02 786,981.4 C790.1,982.78 795.33,984.73 800,987 C804.67,989.27 810,992 814,995 C818,998 821.17,1002.5 824,1005 C826.83,1007.5 829,1008.33 831,1010 C833,1011.67 834.83,1012.5 836,1015 C837.17,1017.5 837.67,1023.33 838,1025" fill="none" stroke="#857b7b" stroke-opacity="0.7" stroke-width="0.55"/>
<path d="M670,1013.5 C671.12,1013.07 674.2,1011.75 676.7,1010.9 C679.2,1010.05 681.12,1009.23 685,1008.4 C688.88,1007.57 695.83,1006.4 700,1005.9 C704.17,1005.4 706.67,1005.57 710,1005.4 C713.33,1005.23 716.62,1005.07 720,1004.9 C723.38,1004.73 726.92,1004.4 730.3,1004.4 C733.68,1004.4 736.97,1004.57 740.3,1004.9 C743.63,1005.23 746.95,1005.82 750.3,1006.4 C753.65,1006.98 757.05,1007.65 760.4,1008.4 C763.75,1009.15 767.05,1009.97 770.4,1010.9 C773.75,1011.83 778.32,1013.32 780.5,1014 C782.68,1014.68 782.25,1013.17 783.5,1015 C784.75,1016.83 787.25,1023.33 788,1025" fill="none" stroke="#857b7b" stroke-opacity="0.7" stroke-width="0.55"/>
</g>
<path d="M670,949.6 C671.12,948.78 673.37,947.2 676.7,944.7 C680.03,942.2 684.45,938.78 690,934.6 C695.55,930.42 703.33,924.65 710,919.6 C716.67,914.55 725,908.02 730,904.3 C735,900.58 736.67,899.63 740,897.3 C743.33,894.97 746.67,892.47 750,890.3 C753.33,888.13 756.67,886.02 760,884.3 C763.33,882.58 766.67,881.92 770,880 C773.33,878.08 776.67,875.07 780,872.8 C783.33,870.53 786.67,868.58 790,866.4 C793.33,864.22 796.95,861.33 800,859.7 C803.05,858.07 805.73,857.28 808.3,856.6 C810.87,855.92 813.05,855.55 815.4,855.6 C817.75,855.65 819.9,856.3 822.4,856.9 C824.9,857.5 827.38,858.4 830.4,859.2 C833.42,860 837.23,861.03 840.5,861.7 C843.77,862.37 846.42,863.15 850,863.2 C853.58,863.25 858.33,862.43 862,862 C865.67,861.57 867.33,861.43 872,860.6 C876.67,859.77 883.67,858.1 890,857 C896.33,855.9 903.33,854.63 910,854 C916.67,853.37 923.33,853.13 930,853.2 C936.67,853.27 943.33,853.53 950,854.4 C956.67,855.27 963.67,856.63 970,858.4 C976.33,860.17 983,862.57 988,865 C993,867.43 996.33,870.1 1000,873 C1003.67,875.9 1007.33,878.9 1010,882.4 C1012.67,885.9 1014,889.73 1016,894 C1018,898.27 1020,903.5 1022,908 C1024,912.5 1026.33,916.83 1028,921 C1029.67,925.17 1031,928.67 1032,933 C1033,937.33 1033.33,942.33 1034,947 C1034.67,951.67 1035.17,956 1036,961 C1036.83,966 1038.07,972.33 1039,977 C1039.93,981.67 1041.1,984.67 1041.6,989 C1042.1,993.33 1041.93,998.67 1042,1003 C1042.07,1007.33 1042,1011.33 1042,1015 C1042,1018.67 1042,1023.33 1042,1025" fill="none" stroke="#ff0000" stroke-width="1.1" stroke-dasharray="4.1,1.75"/>
<path d="M670,949.6 C671.12,948.78 673.37,947.2 676.7,944.7 C680.03,942.2 684.45,938.78 690,934.6 C695.55,930.42 703.33,924.65 710,919.6 C716.67,914.55 725,908.02 730,904.3 C735,900.58 736.67,899.63 740,897.3 C743.33,894.97 746.67,892.47 750,890.3 C753.33,888.13 756.67,885.98 760,884.3 C763.33,882.62 766.67,882.05 770,880.2 C773.33,878.35 776.67,875.37 780,873.2 C783.33,871.03 786.67,869.03 790,867.2 C793.33,865.37 796.95,863.4 800,862.2 C803.05,861 805.9,860.37 808.3,860 C810.7,859.63 812.38,859.63 814.4,860 C816.42,860.37 818.07,861.42 820.4,862.2 C822.73,862.98 825.72,864.07 828.4,864.7 C831.08,865.33 833.82,865.72 836.5,866 C839.18,866.28 841.92,866.5 844.5,866.4 C847.08,866.3 849.42,865.9 852,865.4 C854.58,864.9 856.67,864.3 860,863.4 C863.33,862.5 867.67,861.4 872,860 C876.33,858.6 881.33,856.4 886,855 C890.67,853.6 895.33,852.43 900,851.6 C904.67,850.77 908,850.37 914,850 C920,849.63 930,849.5 936,849.4 C942,849.3 945.33,849.5 950,849.4 C954.67,849.3 959.67,848.53 964,848.8 C968.33,849.07 971.33,849.8 976,851 C980.67,852.2 987,854 992,856 C997,858 1001.67,860.33 1006,863 C1010.33,865.67 1014.67,868.67 1018,872 C1021.33,875.33 1023.67,879.08 1026,883 C1028.33,886.92 1029.67,891.17 1032,895.5 C1034.33,899.83 1037.67,905.5 1040,909 C1042.33,912.5 1044.33,913.5 1046,916.5 C1047.67,919.5 1049,923.25 1050,927 C1051,930.75 1051.6,935 1052,939 C1052.4,943 1051.73,947 1052.4,951 C1053.07,955 1054.73,958.67 1056,963 C1057.27,967.33 1059,972.67 1060,977 C1061,981.33 1061.5,985 1062,989 C1062.5,993 1062.67,996.67 1063,1001 C1063.33,1005.33 1063.83,1011 1064,1015 C1064.17,1019 1064,1023.33 1064,1025" fill="none" stroke="#ff0000" stroke-width="1.35"/>
</g>
<g clip-path="url(#boxd)">
<line x1="676.65" y1="936.97" x2="880.22" y2="775.83" stroke="#979797" stroke-width="1.9" stroke-dasharray="24.6,4.7"/>
</g>
<g transform="translate(694,909) rotate(-38.5)" fill="#8f8f8f" stroke="none" font-style="italic" font-size="12.4">
<text x="0" y="0">m(</text><text x="15.3" y="1.2">χ</text><text x="22.6" y="-4.6" font-size="7.4" font-style="normal">0</text><text x="22.8" y="4.6" font-size="7.4" font-style="normal">1</text>
<text x="27.6" y="0">)</text><text x="34.2" y="0" font-style="normal">&gt;</text><text x="44.4" y="0">m(</text><text x="59.6" y="0">q</text><text x="66.8" y="0">)</text>
<path d="M16.6,-8.2 q1.2,-1.6 2.4,-0.5 t2.4,-0.5 M60.8,-8.6 q1.2,-1.6 2.4,-0.5 t2.4,-0.5" fill="none" stroke="#8f8f8f" stroke-width="0.75"/>
</g>
<text transform="translate(684,937.4) rotate(-38)" font-size="9.4" text-anchor="middle" y="3.35" fill="#000" stroke="#000" stroke-width="0.2">0.5</text>
<text transform="translate(690,1007) rotate(-4)" font-size="9.4" text-anchor="middle" y="3.35" fill="#000" stroke="#000" stroke-width="0.2">50</text>
<text transform="translate(776.4,940.6) rotate(-10)" font-size="9.4" text-anchor="middle" y="3.35" fill="#000" stroke="#000" stroke-width="0.2">10</text>
<text transform="translate(782,959.8) rotate(-4)" font-size="9.4" text-anchor="middle" y="3.35" fill="#000" stroke="#000" stroke-width="0.2">20</text>
<text transform="translate(831,1010) rotate(58)" font-size="9.4" text-anchor="middle" y="3.35" fill="#000" stroke="#000" stroke-width="0.2">30</text>
<text transform="translate(861,909.4) rotate(0)" font-size="9.4" text-anchor="middle" y="3.35" fill="#000" stroke="#000" stroke-width="0.2">5</text>
<text transform="translate(877,881.4) rotate(0)" font-size="9.4" text-anchor="middle" y="3.35" fill="#000" stroke="#000" stroke-width="0.2">2</text>
<text transform="translate(878,841.4) rotate(-10)" font-size="9.4" text-anchor="middle" y="3.35" fill="#000" stroke="#000" stroke-width="0.2">0.5</text>
<text transform="translate(937.6,849.2) rotate(0)" font-size="9.4" text-anchor="middle" y="3.35" fill="#000" stroke="#000" stroke-width="0.2">1</text>
<rect x="676.65" y="603.1" width="422.35" height="412.2" fill="none" stroke="#000" stroke-width="0.8"/>
<g stroke="#000" fill="none"><path d="M691.19,1015.3 v-2.9 M691.19,603.1 v2.9" stroke-width="0.55"/><path d="M705.73,1015.3 v-2.9 M705.73,603.1 v2.9" stroke-width="0.55"/><path d="M720.27,1015.3 v-2.9 M720.27,603.1 v2.9" stroke-width="0.55"/><path d="M734.81,1015.3 v-5 M734.81,603.1 v5" stroke-width="0.8"/><path d="M749.36,1015.3 v-2.9 M749.36,603.1 v2.9" stroke-width="0.55"/><path d="M763.9,1015.3 v-2.9 M763.9,603.1 v2.9" stroke-width="0.55"/><path d="M778.44,1015.3 v-2.9 M778.44,603.1 v2.9" stroke-width="0.55"/><path d="M792.98,1015.3 v-5 M792.98,603.1 v5" stroke-width="0.8"/><path d="M807.52,1015.3 v-2.9 M807.52,603.1 v2.9" stroke-width="0.55"/><path d="M822.06,1015.3 v-2.9 M822.06,603.1 v2.9" stroke-width="0.55"/><path d="M836.6,1015.3 v-2.9 M836.6,603.1 v2.9" stroke-width="0.55"/><path d="M851.14,1015.3 v-5 M851.14,603.1 v5" stroke-width="0.8"/><path d="M865.68,1015.3 v-2.9 M865.68,603.1 v2.9" stroke-width="0.55"/><path d="M880.22,1015.3 v-2.9 M880.22,603.1 v2.9" stroke-width="0.55"/><path d="M894.77,1015.3 v-2.9 M894.77,603.1 v2.9" stroke-width="0.55"/><path d="M909.31,1015.3 v-5 M909.31,603.1 v5" stroke-width="0.8"/><path d="M923.85,1015.3 v-2.9 M923.85,603.1 v2.9" stroke-width="0.55"/><path d="M938.39,1015.3 v-2.9 M938.39,603.1 v2.9" stroke-width="0.55"/><path d="M952.93,1015.3 v-2.9 M952.93,603.1 v2.9" stroke-width="0.55"/><path d="M967.47,1015.3 v-5 M967.47,603.1 v5" stroke-width="0.8"/><path d="M982.01,1015.3 v-2.9 M982.01,603.1 v2.9" stroke-width="0.55"/><path d="M996.55,1015.3 v-2.9 M996.55,603.1 v2.9" stroke-width="0.55"/><path d="M1011.09,1015.3 v-2.9 M1011.09,603.1 v2.9" stroke-width="0.55"/><path d="M1025.63,1015.3 v-5 M1025.63,603.1 v5" stroke-width="0.8"/><path d="M1040.18,1015.3 v-2.9 M1040.18,603.1 v2.9" stroke-width="0.55"/><path d="M1054.72,1015.3 v-2.9 M1054.72,603.1 v2.9" stroke-width="0.55"/><path d="M1069.26,1015.3 v-2.9 M1069.26,603.1 v2.9" stroke-width="0.55"/><path d="M1083.8,1015.3 v-5 M1083.8,603.1 v5" stroke-width="0.8"/><path d="M676.65,1005.84 h6.5 M1099,1005.84 h-6.5" stroke-width="0.55"/><path d="M676.65,994.36 h6.5 M1099,994.36 h-6.5" stroke-width="0.55"/><path d="M676.65,982.88 h6.5 M1099,982.88 h-6.5" stroke-width="0.55"/><path d="M676.65,971.4 h13 M1099,971.4 h-13" stroke-width="0.8"/><path d="M676.65,959.92 h6.5 M1099,959.92 h-6.5" stroke-width="0.55"/><path d="M676.65,948.44 h6.5 M1099,948.44 h-6.5" stroke-width="0.55"/><path d="M676.65,936.96 h6.5 M1099,936.96 h-6.5" stroke-width="0.55"/><path d="M676.65,925.48 h6.5 M1099,925.48 h-6.5" stroke-width="0.55"/><path d="M676.65,914 h13 M1099,914 h-13" stroke-width="0.8"/><path d="M676.65,902.52 h6.5 M1099,902.52 h-6.5" stroke-width="0.55"/><path d="M676.65,891.04 h6.5 M1099,891.04 h-6.5" stroke-width="0.55"/><path d="M676.65,879.56 h6.5 M1099,879.56 h-6.5" stroke-width="0.55"/><path d="M676.65,868.08 h6.5 M1099,868.08 h-6.5" stroke-width="0.55"/><path d="M676.65,856.6 h13 M1099,856.6 h-13" stroke-width="0.8"/><path d="M676.65,845.12 h6.5 M1099,845.12 h-6.5" stroke-width="0.55"/><path d="M676.65,833.64 h6.5 M1099,833.64 h-6.5" stroke-width="0.55"/><path d="M676.65,822.16 h6.5 M1099,822.16 h-6.5" stroke-width="0.55"/><path d="M676.65,810.68 h6.5 M1099,810.68 h-6.5" stroke-width="0.55"/><path d="M676.65,799.2 h13 M1099,799.2 h-13" stroke-width="0.8"/><path d="M676.65,787.72 h6.5 M1099,787.72 h-6.5" stroke-width="0.55"/><path d="M676.65,776.24 h6.5 M1099,776.24 h-6.5" stroke-width="0.55"/><path d="M676.65,764.76 h6.5 M1099,764.76 h-6.5" stroke-width="0.55"/><path d="M676.65,753.28 h6.5 M1099,753.28 h-6.5" stroke-width="0.55"/><path d="M676.65,741.8 h13 M1099,741.8 h-13" stroke-width="0.8"/><path d="M676.65,730.32 h6.5 M1099,730.32 h-6.5" stroke-width="0.55"/><path d="M676.65,718.84 h6.5 M1099,718.84 h-6.5" stroke-width="0.55"/><path d="M676.65,707.36 h6.5 M1099,707.36 h-6.5" stroke-width="0.55"/><path d="M676.65,695.88 h6.5 M1099,695.88 h-6.5" stroke-width="0.55"/><path d="M676.65,684.4 h13 M1099,684.4 h-13" stroke-width="0.8"/><path d="M676.65,672.92 h6.5 M1099,672.92 h-6.5" stroke-width="0.55"/><path d="M676.65,661.44 h6.5 M1099,661.44 h-6.5" stroke-width="0.55"/><path d="M676.65,649.96 h6.5 M1099,649.96 h-6.5" stroke-width="0.55"/><path d="M676.65,638.48 h6.5 M1099,638.48 h-6.5" stroke-width="0.55"/><path d="M676.65,627 h13 M1099,627 h-13" stroke-width="0.8"/><path d="M676.65,615.52 h6.5 M1099,615.52 h-6.5" stroke-width="0.55"/></g>
<text transform="translate(671.45,1030.2) scale(0.94,1)" font-size="15.7" text-anchor="middle">400</text>
<text transform="translate(729.61,1030.2) scale(0.94,1)" font-size="15.7" text-anchor="middle">600</text>
<text transform="translate(787.78,1030.2) scale(0.94,1)" font-size="15.7" text-anchor="middle">800</text>
<text transform="translate(845.94,1030.2) scale(0.94,1)" font-size="15.7" text-anchor="middle">1000</text>
<text transform="translate(904.11,1030.2) scale(0.94,1)" font-size="15.7" text-anchor="middle">1200</text>
<text transform="translate(962.27,1030.2) scale(0.94,1)" font-size="15.7" text-anchor="middle">1400</text>
<text transform="translate(1020.43,1030.2) scale(0.94,1)" font-size="15.7" text-anchor="middle">1600</text>
<text transform="translate(1078.6,1030.2) scale(0.94,1)" font-size="15.7" text-anchor="middle">1800</text>
<text transform="translate(669.75,974.75) scale(0.94,1)" font-size="15.7" text-anchor="end">250</text>
<text transform="translate(669.75,917.35) scale(0.94,1)" font-size="15.7" text-anchor="end">500</text>
<text transform="translate(669.75,859.95) scale(0.94,1)" font-size="15.7" text-anchor="end">750</text>
<text transform="translate(669.75,802.55) scale(0.94,1)" font-size="15.7" text-anchor="end">1000</text>
<text transform="translate(669.75,745.15) scale(0.94,1)" font-size="15.7" text-anchor="end">1250</text>
<text transform="translate(669.75,687.75) scale(0.94,1)" font-size="15.7" text-anchor="end">1500</text>
<text transform="translate(669.75,630.35) scale(0.94,1)" font-size="15.7" text-anchor="end">1750</text>
<rect x="1125.3" y="974.08" width="20.4" height="41.52" fill="#571b65"/>
<rect x="1125.3" y="932.86" width="20.4" height="41.52" fill="#5a3d85"/>
<rect x="1125.3" y="891.64" width="20.4" height="41.52" fill="#525c95"/>
<rect x="1125.3" y="850.42" width="20.4" height="41.52" fill="#457799"/>
<rect x="1125.3" y="809.2" width="20.4" height="41.52" fill="#3b8f99"/>
<rect x="1125.3" y="767.98" width="20.4" height="41.52" fill="#35a795"/>
<rect x="1125.3" y="726.76" width="20.4" height="41.52" fill="#49be86"/>
<rect x="1125.3" y="685.54" width="20.4" height="41.52" fill="#7cd369"/>
<rect x="1125.3" y="644.32" width="20.4" height="41.52" fill="#bce140"/>
<rect x="1125.3" y="603.1" width="20.4" height="41.52" fill="#fde93b"/>
<rect x="1125.3" y="603.1" width="20.4" height="412.2" fill="none" stroke="#000" stroke-opacity="0.85" stroke-width="0.8"/>
<path d="M1145.7,974.08 h-6.5" stroke="#000" stroke-opacity="0.6" stroke-width="0.55"/>
<path d="M1145.7,932.86 h-13" stroke="#000" stroke-opacity="0.9" stroke-width="0.8"/>
<path d="M1145.7,891.64 h-6.5" stroke="#000" stroke-opacity="0.6" stroke-width="0.55"/>
<path d="M1145.7,850.42 h-13" stroke="#000" stroke-opacity="0.9" stroke-width="0.8"/>
<path d="M1145.7,809.2 h-6.5" stroke="#000" stroke-opacity="0.6" stroke-width="0.55"/>
<path d="M1145.7,767.98 h-13" stroke="#000" stroke-opacity="0.9" stroke-width="0.8"/>
<path d="M1145.7,726.76 h-6.5" stroke="#000" stroke-opacity="0.6" stroke-width="0.55"/>
<path d="M1145.7,685.54 h-13" stroke="#000" stroke-opacity="0.9" stroke-width="0.8"/>
<path d="M1145.7,644.32 h-6.5" stroke="#000" stroke-opacity="0.6" stroke-width="0.55"/>
<text transform="translate(1147.9,1016.6) scale(0.94,1)" font-size="15.7" text-anchor="start">0</text>
<text transform="translate(1147.9,936.66) scale(0.94,1)" font-size="15.7" text-anchor="start">1</text>
<text transform="translate(1147.9,854.22) scale(0.94,1)" font-size="15.7" text-anchor="start">5</text>
<text transform="translate(1147.9,771.78) scale(0.94,1)" font-size="15.7" text-anchor="start">20</text>
<text transform="translate(1147.9,689.34) scale(0.94,1)" font-size="15.7" text-anchor="start">50</text>
<text transform="translate(1147.9,606.9) scale(0.94,1)" font-size="15.7" text-anchor="start">110</text>
<g transform="translate(1197,698.7) rotate(-90)" font-style="italic">
<text x="0" y="0" font-size="19.6">σ</text><text x="11.8" y="3.2" font-size="12.3" textLength="19.2" lengthAdjust="spacingAndGlyphs">obs</text><text x="37.6" y="0" font-size="18" font-style="normal">/</text><text x="49" y="0" font-size="19.6">σ</text><text x="60.6" y="3.2" font-size="12.8" textLength="35" lengthAdjust="spacingAndGlyphs">SUSY</text>
</g>
<text x="694.35" y="634.4" font-size="17" text-anchor="start" font-style="italic" font-weight="bold" fill="#000">ATLAS</text>
<path d="M695.15,661 l1.3,-0.8 l2.4,5.2 l2.9,-11.6 h9.8" fill="none" stroke="#000" stroke-width="0.75"/>
<text y="664.4" font-size="11.7"><tspan x="703.95" font-style="italic" font-size="12.2">s</tspan><tspan x="715.65">=</tspan><tspan x="725.55" textLength="86.2" lengthAdjust="spacingAndGlyphs">13 TeV,  140 fb</tspan><tspan font-size="8.2" dy="-4.6" dx="0.5">−1</tspan></text>
<path d="M695.15,678.2 l1.3,-0.8 l2.4,5.2 l2.9,-11.6 h9.8" fill="none" stroke="#000" stroke-width="0.75"/>
<text y="681.6" font-size="11.7"><tspan x="703.95" font-style="italic" font-size="12.2">s</tspan><tspan x="715.65">=</tspan><tspan x="725.55" textLength="100.6" lengthAdjust="spacingAndGlyphs">13.6 TeV,  51.8 fb</tspan><tspan font-size="8.2" dy="-4.6" dx="0.5">−1</tspan></text>
<line x1="925" y1="677" x2="952.5" y2="677" stroke="#ff0000" stroke-width="1.35"/>
<g font-size="11.7"><text x="962.4" y="681.25">(</text><text x="966.2" y="681.25" font-style="italic" font-size="12.6">σ</text><text x="974.8" y="683.35" font-style="italic" font-size="8.7" textLength="13.6" lengthAdjust="spacingAndGlyphs">obs</text><text x="993.2" y="681.25">/</text><text x="1000.6" y="681.25" font-style="italic" font-size="12.6">σ</text><text x="1009.3" y="683.35" font-style="italic" font-size="8.7" textLength="24.8" lengthAdjust="spacingAndGlyphs">SUSY</text><text x="1034.5" y="681.25">)</text><text x="1040.4" y="681.25">=</text><text x="1050.7" y="681.25" textLength="16.3" lengthAdjust="spacingAndGlyphs">1.0</text></g>
<line x1="925" y1="694" x2="952.5" y2="694" stroke="#ff0000" stroke-width="1.15" stroke-dasharray="4.1,1.75"/>
<g font-size="11.7"><text x="962.4" y="698.25">(</text><text x="966.2" y="698.25" font-style="italic" font-size="12.6">σ</text><text x="974.8" y="700.35" font-style="italic" font-size="8.7" textLength="13.6" lengthAdjust="spacingAndGlyphs">exp</text><text x="993.2" y="698.25">/</text><text x="1000.6" y="698.25" font-style="italic" font-size="12.6">σ</text><text x="1009.3" y="700.35" font-style="italic" font-size="8.7" textLength="24.8" lengthAdjust="spacingAndGlyphs">SUSY</text><text x="1034.5" y="698.25">)</text><text x="1040.4" y="698.25">=</text><text x="1050.7" y="698.25" textLength="16.3" lengthAdjust="spacingAndGlyphs">1.0</text></g>
<g><text x="682.25" y="588.7" font-size="8.8" font-style="italic" textLength="4.65" lengthAdjust="spacingAndGlyphs">q</text><path d="M683.6,582.7 q0.95,-1.7 1.9,-0.5 t1.9,-0.5" fill="none" stroke="#000" stroke-width="0.55"/><text x="687.8" y="590.5" font-size="6.4" font-style="italic" textLength="5.6" lengthAdjust="spacingAndGlyphs">L</text><text x="696.9" y="588.7" font-size="8.8" textLength="8.1" lengthAdjust="spacingAndGlyphs">→</text><text x="707.75" y="588.7" font-size="8.8" font-style="italic" textLength="4.75" lengthAdjust="spacingAndGlyphs">q</text><text x="713.1" y="588.7" font-size="8.4" textLength="47.9" lengthAdjust="spacingAndGlyphs">(<tspan font-style="italic">ττ</tspan>/<tspan font-style="italic">τν</tspan>/<tspan font-style="italic">νν</tspan>)</text><text x="761.9" y="588.9" font-size="8.8" font-style="italic" textLength="6.3" lengthAdjust="spacingAndGlyphs">χ</text><path d="M763.6,582.5 q0.95,-1.7 1.9,-0.5 t1.9,-0.5" fill="none" stroke="#000" stroke-width="0.55"/><text x="769" y="585.1" font-size="6.2" textLength="3.8" lengthAdjust="spacingAndGlyphs">0</text><text x="769.2" y="591.3" font-size="6.2" textLength="3.2" lengthAdjust="spacingAndGlyphs">1</text><text x="776.9" y="588.7" font-size="8.8" textLength="13.1" lengthAdjust="spacingAndGlyphs">via</text><text x="793.75" y="588.7" font-size="8.8" textLength="15" lengthAdjust="spacingAndGlyphs"><tspan font-style="italic">τ</tspan>/<tspan font-style="italic">ν</tspan></text><path d="M794.8,582.7 q0.95,-1.7 1.9,-0.5 t1.9,-0.5" fill="none" stroke="#000" stroke-width="0.55"/><path d="M804.2,582.7 q0.95,-1.7 1.9,-0.5 t1.9,-0.5" fill="none" stroke="#000" stroke-width="0.55"/></g>
<g><text x="1017.3" y="1054.6" font-size="17.4" font-style="italic" textLength="17.5" lengthAdjust="spacingAndGlyphs">m</text><text x="1035.5" y="1058.9" font-size="12.4" font-style="italic">q</text><path d="M1036.7,1051 q1.2,-1.7 2.4,-0.5 t2.4,-0.5" fill="none" stroke="#000" stroke-width="0.55"/><text x="1046.9" y="1054.6" font-size="17.6" textLength="45.4" lengthAdjust="spacingAndGlyphs">[GeV]</text></g>
<g transform="translate(618.4,683.8) rotate(-90)"><text x="0" y="0" font-size="17.4" font-style="italic" textLength="15.4" lengthAdjust="spacingAndGlyphs">m</text><text x="15.6" y="2.2" font-size="14.6" font-style="italic">χ</text><path d="M17.6,-8 q1.2,-1.7 2.4,-0.5 t2.4,-0.5" fill="none" stroke="#000" stroke-width="0.55"/><text x="23.8" y="-2.7" font-size="7.8">0</text><text x="24" y="5.7" font-size="7.8">1</text><text x="34.9" y="0" font-size="17.6" textLength="46.7" lengthAdjust="spacingAndGlyphs">[GeV]</text></g>
<text x="295.3" y="527.3" font-size="29.75" text-anchor="middle" style="font-family:'Liberation Serif', serif">(a) Gluino models, ML</text>
<text x="901" y="527.3" font-size="29.75" text-anchor="middle" style="font-family:'Liberation Serif', serif">(b) Squark models, ML</text>
<text x="295.3" y="1106.3" font-size="29.75" text-anchor="middle" style="font-family:'Liberation Serif', serif">(c) Gluino models, cut-and-count</text>
<text x="901" y="1106.3" font-size="29.75" text-anchor="middle" style="font-family:'Liberation Serif', serif">(d) Squark models, cut-and-count</text>
</svg></body></html>
